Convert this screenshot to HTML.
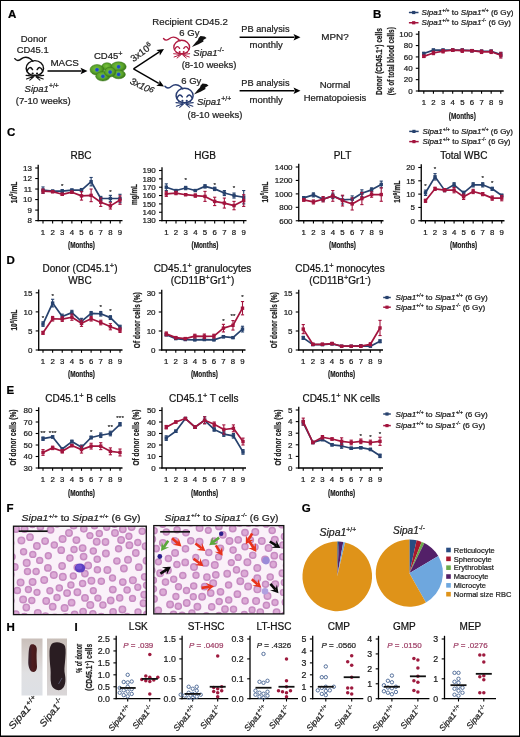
<!DOCTYPE html>
<html><head><meta charset="utf-8"><style>
html,body{margin:0;padding:0;background:#fff;}
svg{display:block;will-change:transform;}
text{font-family:"Liberation Sans",sans-serif;}
</style></head><body>
<svg width="520" height="737" viewBox="0 0 520 737">
<rect width="520" height="737" fill="#fff"/>
<rect x="0" y="0" width="520" height="1" fill="#000"/>
<rect x="0" y="0" width="1" height="737" fill="#000"/>
<rect x="519" y="0" width="1" height="737" fill="#000"/>
<rect x="0" y="735.5" width="520" height="1.5" fill="#000"/>
<text x="8.10" y="17.70" font-size="11.5" font-weight="bold" fill="#000"  stroke="#000" stroke-width="0.22">A</text>
<text x="373.00" y="17.60" font-size="11.5" font-weight="bold" fill="#000"  stroke="#000" stroke-width="0.22">B</text>
<text x="7.00" y="136.00" font-size="11.5" font-weight="bold" fill="#000"  stroke="#000" stroke-width="0.22">C</text>
<text x="6.60" y="263.80" font-size="11.5" font-weight="bold" fill="#000"  stroke="#000" stroke-width="0.22">D</text>
<text x="6.60" y="393.80" font-size="11.5" font-weight="bold" fill="#000"  stroke="#000" stroke-width="0.22">E</text>
<text x="6.60" y="511.60" font-size="11.5" font-weight="bold" fill="#000"  stroke="#000" stroke-width="0.22">F</text>
<text x="301.70" y="511.50" font-size="11.5" font-weight="bold" fill="#000"  stroke="#000" stroke-width="0.22">G</text>
<text x="6.60" y="630.60" font-size="11.5" font-weight="bold" fill="#000"  stroke="#000" stroke-width="0.22">H</text>
<text x="74.40" y="630.60" font-size="11.5" font-weight="bold" fill="#000"  stroke="#000" stroke-width="0.22">I</text>
<line x1="418.80" y1="31.00" x2="418.80" y2="91.60" stroke="#000" stroke-width="1.3" />
<line x1="418.20" y1="91.00" x2="503.70" y2="91.00" stroke="#000" stroke-width="1.3" />
<line x1="415.80" y1="91.00" x2="418.80" y2="91.00" stroke="#000" stroke-width="1.1" />
<text x="412.60" y="93.85" font-size="8" text-anchor="end" fill="#1a1a1a"  stroke="#1a1a1a" stroke-width="0.22">0</text>
<line x1="415.80" y1="79.64" x2="418.80" y2="79.64" stroke="#000" stroke-width="1.1" />
<text x="412.60" y="82.49" font-size="8" text-anchor="end" fill="#1a1a1a"  stroke="#1a1a1a" stroke-width="0.22">20</text>
<line x1="415.80" y1="68.28" x2="418.80" y2="68.28" stroke="#000" stroke-width="1.1" />
<text x="412.60" y="71.13" font-size="8" text-anchor="end" fill="#1a1a1a"  stroke="#1a1a1a" stroke-width="0.22">40</text>
<line x1="415.80" y1="56.92" x2="418.80" y2="56.92" stroke="#000" stroke-width="1.1" />
<text x="412.60" y="59.77" font-size="8" text-anchor="end" fill="#1a1a1a"  stroke="#1a1a1a" stroke-width="0.22">60</text>
<line x1="415.80" y1="45.56" x2="418.80" y2="45.56" stroke="#000" stroke-width="1.1" />
<text x="412.60" y="48.41" font-size="8" text-anchor="end" fill="#1a1a1a"  stroke="#1a1a1a" stroke-width="0.22">80</text>
<line x1="415.80" y1="34.20" x2="418.80" y2="34.20" stroke="#000" stroke-width="1.1" />
<text x="412.60" y="37.05" font-size="8" text-anchor="end" fill="#1a1a1a"  stroke="#1a1a1a" stroke-width="0.22">100</text>
<line x1="423.80" y1="91.00" x2="423.80" y2="93.80" stroke="#000" stroke-width="1.1" />
<text x="423.80" y="104.80" font-size="7.8" text-anchor="middle" fill="#1a1a1a"  stroke="#1a1a1a" stroke-width="0.22">1</text>
<line x1="433.43" y1="91.00" x2="433.43" y2="93.80" stroke="#000" stroke-width="1.1" />
<text x="433.43" y="104.80" font-size="7.8" text-anchor="middle" fill="#1a1a1a"  stroke="#1a1a1a" stroke-width="0.22">2</text>
<line x1="443.05" y1="91.00" x2="443.05" y2="93.80" stroke="#000" stroke-width="1.1" />
<text x="443.05" y="104.80" font-size="7.8" text-anchor="middle" fill="#1a1a1a"  stroke="#1a1a1a" stroke-width="0.22">3</text>
<line x1="452.68" y1="91.00" x2="452.68" y2="93.80" stroke="#000" stroke-width="1.1" />
<text x="452.68" y="104.80" font-size="7.8" text-anchor="middle" fill="#1a1a1a"  stroke="#1a1a1a" stroke-width="0.22">4</text>
<line x1="462.30" y1="91.00" x2="462.30" y2="93.80" stroke="#000" stroke-width="1.1" />
<text x="462.30" y="104.80" font-size="7.8" text-anchor="middle" fill="#1a1a1a"  stroke="#1a1a1a" stroke-width="0.22">5</text>
<line x1="471.93" y1="91.00" x2="471.93" y2="93.80" stroke="#000" stroke-width="1.1" />
<text x="471.93" y="104.80" font-size="7.8" text-anchor="middle" fill="#1a1a1a"  stroke="#1a1a1a" stroke-width="0.22">6</text>
<line x1="481.55" y1="91.00" x2="481.55" y2="93.80" stroke="#000" stroke-width="1.1" />
<text x="481.55" y="104.80" font-size="7.8" text-anchor="middle" fill="#1a1a1a"  stroke="#1a1a1a" stroke-width="0.22">7</text>
<line x1="491.18" y1="91.00" x2="491.18" y2="93.80" stroke="#000" stroke-width="1.1" />
<text x="491.18" y="104.80" font-size="7.8" text-anchor="middle" fill="#1a1a1a"  stroke="#1a1a1a" stroke-width="0.22">8</text>
<line x1="500.80" y1="91.00" x2="500.80" y2="93.80" stroke="#000" stroke-width="1.1" />
<text x="500.80" y="104.80" font-size="7.8" text-anchor="middle" fill="#1a1a1a"  stroke="#1a1a1a" stroke-width="0.22">9</text>
<text x="462.30" y="118.60" font-size="9" text-anchor="middle" font-weight="bold" fill="#1a1a1a" textLength="27" lengthAdjust="spacingAndGlyphs"  stroke="#1a1a1a" stroke-width="0.22">(Months)</text>
<polyline points="423.80,53.51 433.43,50.10 443.05,50.10 452.68,50.10 462.30,50.10 471.93,50.67 481.55,51.24 491.18,51.24 500.80,54.65" fill="none" stroke="#27426e" stroke-width="1.7" stroke-linejoin="round"/>
<line x1="423.80" y1="52.38" x2="423.80" y2="54.65" stroke="#27426e" stroke-width="1.1" />
<line x1="422.20" y1="52.38" x2="425.40" y2="52.38" stroke="#27426e" stroke-width="1.1" />
<line x1="422.20" y1="54.65" x2="425.40" y2="54.65" stroke="#27426e" stroke-width="1.1" />
<rect x="422.10" y="51.81" width="3.4" height="3.4" fill="#27426e"/>
<line x1="433.43" y1="48.97" x2="433.43" y2="51.24" stroke="#27426e" stroke-width="1.1" />
<line x1="431.82" y1="48.97" x2="435.03" y2="48.97" stroke="#27426e" stroke-width="1.1" />
<line x1="431.82" y1="51.24" x2="435.03" y2="51.24" stroke="#27426e" stroke-width="1.1" />
<rect x="431.73" y="48.40" width="3.4" height="3.4" fill="#27426e"/>
<line x1="443.05" y1="48.97" x2="443.05" y2="51.24" stroke="#27426e" stroke-width="1.1" />
<line x1="441.45" y1="48.97" x2="444.65" y2="48.97" stroke="#27426e" stroke-width="1.1" />
<line x1="441.45" y1="51.24" x2="444.65" y2="51.24" stroke="#27426e" stroke-width="1.1" />
<rect x="441.35" y="48.40" width="3.4" height="3.4" fill="#27426e"/>
<line x1="452.68" y1="48.97" x2="452.68" y2="51.24" stroke="#27426e" stroke-width="1.1" />
<line x1="451.07" y1="48.97" x2="454.28" y2="48.97" stroke="#27426e" stroke-width="1.1" />
<line x1="451.07" y1="51.24" x2="454.28" y2="51.24" stroke="#27426e" stroke-width="1.1" />
<rect x="450.98" y="48.40" width="3.4" height="3.4" fill="#27426e"/>
<line x1="462.30" y1="48.97" x2="462.30" y2="51.24" stroke="#27426e" stroke-width="1.1" />
<line x1="460.70" y1="48.97" x2="463.90" y2="48.97" stroke="#27426e" stroke-width="1.1" />
<line x1="460.70" y1="51.24" x2="463.90" y2="51.24" stroke="#27426e" stroke-width="1.1" />
<rect x="460.60" y="48.40" width="3.4" height="3.4" fill="#27426e"/>
<line x1="471.93" y1="49.54" x2="471.93" y2="51.81" stroke="#27426e" stroke-width="1.1" />
<line x1="470.32" y1="49.54" x2="473.53" y2="49.54" stroke="#27426e" stroke-width="1.1" />
<line x1="470.32" y1="51.81" x2="473.53" y2="51.81" stroke="#27426e" stroke-width="1.1" />
<rect x="470.23" y="48.97" width="3.4" height="3.4" fill="#27426e"/>
<line x1="481.55" y1="50.10" x2="481.55" y2="52.38" stroke="#27426e" stroke-width="1.1" />
<line x1="479.95" y1="50.10" x2="483.15" y2="50.10" stroke="#27426e" stroke-width="1.1" />
<line x1="479.95" y1="52.38" x2="483.15" y2="52.38" stroke="#27426e" stroke-width="1.1" />
<rect x="479.85" y="49.54" width="3.4" height="3.4" fill="#27426e"/>
<line x1="491.18" y1="50.10" x2="491.18" y2="52.38" stroke="#27426e" stroke-width="1.1" />
<line x1="489.57" y1="50.10" x2="492.78" y2="50.10" stroke="#27426e" stroke-width="1.1" />
<line x1="489.57" y1="52.38" x2="492.78" y2="52.38" stroke="#27426e" stroke-width="1.1" />
<rect x="489.48" y="49.54" width="3.4" height="3.4" fill="#27426e"/>
<line x1="500.80" y1="52.38" x2="500.80" y2="56.92" stroke="#27426e" stroke-width="1.1" />
<line x1="499.20" y1="52.38" x2="502.40" y2="52.38" stroke="#27426e" stroke-width="1.1" />
<line x1="499.20" y1="56.92" x2="502.40" y2="56.92" stroke="#27426e" stroke-width="1.1" />
<rect x="499.10" y="52.95" width="3.4" height="3.4" fill="#27426e"/>
<polyline points="423.80,56.35 433.43,52.94 443.05,51.24 452.68,50.10 462.30,50.67 471.93,50.67 481.55,51.81 491.18,51.81 500.80,55.22" fill="none" stroke="#a3143e" stroke-width="1.7" stroke-linejoin="round"/>
<line x1="423.80" y1="55.22" x2="423.80" y2="57.49" stroke="#a3143e" stroke-width="1.1" />
<line x1="422.20" y1="55.22" x2="425.40" y2="55.22" stroke="#a3143e" stroke-width="1.1" />
<line x1="422.20" y1="57.49" x2="425.40" y2="57.49" stroke="#a3143e" stroke-width="1.1" />
<rect x="422.10" y="54.65" width="3.4" height="3.4" fill="#a3143e"/>
<line x1="433.43" y1="51.24" x2="433.43" y2="54.65" stroke="#a3143e" stroke-width="1.1" />
<line x1="431.82" y1="51.24" x2="435.03" y2="51.24" stroke="#a3143e" stroke-width="1.1" />
<line x1="431.82" y1="54.65" x2="435.03" y2="54.65" stroke="#a3143e" stroke-width="1.1" />
<rect x="431.73" y="51.24" width="3.4" height="3.4" fill="#a3143e"/>
<line x1="443.05" y1="49.54" x2="443.05" y2="52.94" stroke="#a3143e" stroke-width="1.1" />
<line x1="441.45" y1="49.54" x2="444.65" y2="49.54" stroke="#a3143e" stroke-width="1.1" />
<line x1="441.45" y1="52.94" x2="444.65" y2="52.94" stroke="#a3143e" stroke-width="1.1" />
<rect x="441.35" y="49.54" width="3.4" height="3.4" fill="#a3143e"/>
<line x1="452.68" y1="48.97" x2="452.68" y2="51.24" stroke="#a3143e" stroke-width="1.1" />
<line x1="451.07" y1="48.97" x2="454.28" y2="48.97" stroke="#a3143e" stroke-width="1.1" />
<line x1="451.07" y1="51.24" x2="454.28" y2="51.24" stroke="#a3143e" stroke-width="1.1" />
<rect x="450.98" y="48.40" width="3.4" height="3.4" fill="#a3143e"/>
<line x1="462.30" y1="48.97" x2="462.30" y2="52.38" stroke="#a3143e" stroke-width="1.1" />
<line x1="460.70" y1="48.97" x2="463.90" y2="48.97" stroke="#a3143e" stroke-width="1.1" />
<line x1="460.70" y1="52.38" x2="463.90" y2="52.38" stroke="#a3143e" stroke-width="1.1" />
<rect x="460.60" y="48.97" width="3.4" height="3.4" fill="#a3143e"/>
<line x1="471.93" y1="49.54" x2="471.93" y2="51.81" stroke="#a3143e" stroke-width="1.1" />
<line x1="470.32" y1="49.54" x2="473.53" y2="49.54" stroke="#a3143e" stroke-width="1.1" />
<line x1="470.32" y1="51.81" x2="473.53" y2="51.81" stroke="#a3143e" stroke-width="1.1" />
<rect x="470.23" y="48.97" width="3.4" height="3.4" fill="#a3143e"/>
<line x1="481.55" y1="50.10" x2="481.55" y2="53.51" stroke="#a3143e" stroke-width="1.1" />
<line x1="479.95" y1="50.10" x2="483.15" y2="50.10" stroke="#a3143e" stroke-width="1.1" />
<line x1="479.95" y1="53.51" x2="483.15" y2="53.51" stroke="#a3143e" stroke-width="1.1" />
<rect x="479.85" y="50.11" width="3.4" height="3.4" fill="#a3143e"/>
<line x1="491.18" y1="50.10" x2="491.18" y2="53.51" stroke="#a3143e" stroke-width="1.1" />
<line x1="489.57" y1="50.10" x2="492.78" y2="50.10" stroke="#a3143e" stroke-width="1.1" />
<line x1="489.57" y1="53.51" x2="492.78" y2="53.51" stroke="#a3143e" stroke-width="1.1" />
<rect x="489.48" y="50.11" width="3.4" height="3.4" fill="#a3143e"/>
<line x1="500.80" y1="52.38" x2="500.80" y2="58.06" stroke="#a3143e" stroke-width="1.1" />
<line x1="499.20" y1="52.38" x2="502.40" y2="52.38" stroke="#a3143e" stroke-width="1.1" />
<line x1="499.20" y1="58.06" x2="502.40" y2="58.06" stroke="#a3143e" stroke-width="1.1" />
<rect x="499.10" y="53.52" width="3.4" height="3.4" fill="#a3143e"/>
<text font-size="8.8" font-weight="bold" fill="#222" text-anchor="middle" transform="translate(382,61.6) rotate(-90)" textLength="67" lengthAdjust="spacingAndGlyphs" stroke="#222" stroke-width="0.22">Donor (CD45.1<tspan font-size="5.5" dy="-3">+</tspan><tspan dy="3">) cells</tspan></text>
<text font-size="8.8" font-weight="bold" fill="#222" text-anchor="middle" transform="translate(393.6,61.2) rotate(-90)" textLength="68" lengthAdjust="spacingAndGlyphs" stroke="#222" stroke-width="0.22">(% of total blood cells)</text>
<line x1="408.90" y1="12.50" x2="418.50" y2="12.50" stroke="#27426e" stroke-width="1.5" />
<rect x="412.10" y="10.90" width="3.2" height="3.2" fill="#27426e"/>
<text x="421.60" y="15.20" font-size="7.6" fill="#1a1a1a" textLength="91.80" lengthAdjust="spacingAndGlyphs" stroke="#1a1a1a" stroke-width="0.22"><tspan font-style="italic">Sipa1</tspan><tspan font-size="4.71" dy="-3.19">+/+</tspan><tspan dy="3.19"> to </tspan><tspan font-style="italic">Sipa1</tspan><tspan font-size="4.71" dy="-3.19">+/+</tspan><tspan dy="3.19"> (6 Gy)</tspan></text>
<line x1="408.90" y1="22.75" x2="418.50" y2="22.75" stroke="#a3143e" stroke-width="1.5" />
<rect x="412.10" y="21.15" width="3.2" height="3.2" fill="#a3143e"/>
<text x="421.60" y="25.45" font-size="7.6" fill="#1a1a1a" textLength="89.32" lengthAdjust="spacingAndGlyphs" stroke="#1a1a1a" stroke-width="0.22"><tspan font-style="italic">Sipa1</tspan><tspan font-size="4.71" dy="-3.19">+/+</tspan><tspan dy="3.19"> to </tspan><tspan font-style="italic">Sipa1</tspan><tspan font-size="4.71" dy="-3.19">-/-</tspan><tspan dy="3.19"> (6 Gy)</tspan></text>
<line x1="38.20" y1="164.80" x2="38.20" y2="221.20" stroke="#000" stroke-width="1.3" />
<line x1="37.60" y1="220.60" x2="122.50" y2="220.60" stroke="#000" stroke-width="1.3" />
<line x1="35.20" y1="220.60" x2="38.20" y2="220.60" stroke="#000" stroke-width="1.1" />
<text x="32.00" y="223.45" font-size="8" text-anchor="end" fill="#1a1a1a"  stroke="#1a1a1a" stroke-width="0.22">8</text>
<line x1="35.20" y1="210.08" x2="38.20" y2="210.08" stroke="#000" stroke-width="1.1" />
<text x="32.00" y="212.93" font-size="8" text-anchor="end" fill="#1a1a1a"  stroke="#1a1a1a" stroke-width="0.22">9</text>
<line x1="35.20" y1="199.56" x2="38.20" y2="199.56" stroke="#000" stroke-width="1.1" />
<text x="32.00" y="202.41" font-size="8" text-anchor="end" fill="#1a1a1a"  stroke="#1a1a1a" stroke-width="0.22">10</text>
<line x1="35.20" y1="189.04" x2="38.20" y2="189.04" stroke="#000" stroke-width="1.1" />
<text x="32.00" y="191.89" font-size="8" text-anchor="end" fill="#1a1a1a"  stroke="#1a1a1a" stroke-width="0.22">11</text>
<line x1="35.20" y1="178.52" x2="38.20" y2="178.52" stroke="#000" stroke-width="1.1" />
<text x="32.00" y="181.37" font-size="8" text-anchor="end" fill="#1a1a1a"  stroke="#1a1a1a" stroke-width="0.22">12</text>
<line x1="35.20" y1="168.00" x2="38.20" y2="168.00" stroke="#000" stroke-width="1.1" />
<text x="32.00" y="170.85" font-size="8" text-anchor="end" fill="#1a1a1a"  stroke="#1a1a1a" stroke-width="0.22">13</text>
<line x1="43.00" y1="220.60" x2="43.00" y2="223.40" stroke="#000" stroke-width="1.1" />
<text x="43.00" y="234.50" font-size="7.8" text-anchor="middle" fill="#1a1a1a"  stroke="#1a1a1a" stroke-width="0.22">1</text>
<line x1="52.62" y1="220.60" x2="52.62" y2="223.40" stroke="#000" stroke-width="1.1" />
<text x="52.62" y="234.50" font-size="7.8" text-anchor="middle" fill="#1a1a1a"  stroke="#1a1a1a" stroke-width="0.22">2</text>
<line x1="62.25" y1="220.60" x2="62.25" y2="223.40" stroke="#000" stroke-width="1.1" />
<text x="62.25" y="234.50" font-size="7.8" text-anchor="middle" fill="#1a1a1a"  stroke="#1a1a1a" stroke-width="0.22">3</text>
<line x1="71.88" y1="220.60" x2="71.88" y2="223.40" stroke="#000" stroke-width="1.1" />
<text x="71.88" y="234.50" font-size="7.8" text-anchor="middle" fill="#1a1a1a"  stroke="#1a1a1a" stroke-width="0.22">4</text>
<line x1="81.50" y1="220.60" x2="81.50" y2="223.40" stroke="#000" stroke-width="1.1" />
<text x="81.50" y="234.50" font-size="7.8" text-anchor="middle" fill="#1a1a1a"  stroke="#1a1a1a" stroke-width="0.22">5</text>
<line x1="91.12" y1="220.60" x2="91.12" y2="223.40" stroke="#000" stroke-width="1.1" />
<text x="91.12" y="234.50" font-size="7.8" text-anchor="middle" fill="#1a1a1a"  stroke="#1a1a1a" stroke-width="0.22">6</text>
<line x1="100.75" y1="220.60" x2="100.75" y2="223.40" stroke="#000" stroke-width="1.1" />
<text x="100.75" y="234.50" font-size="7.8" text-anchor="middle" fill="#1a1a1a"  stroke="#1a1a1a" stroke-width="0.22">7</text>
<line x1="110.38" y1="220.60" x2="110.38" y2="223.40" stroke="#000" stroke-width="1.1" />
<text x="110.38" y="234.50" font-size="7.8" text-anchor="middle" fill="#1a1a1a"  stroke="#1a1a1a" stroke-width="0.22">8</text>
<line x1="120.00" y1="220.60" x2="120.00" y2="223.40" stroke="#000" stroke-width="1.1" />
<text x="120.00" y="234.50" font-size="7.8" text-anchor="middle" fill="#1a1a1a"  stroke="#1a1a1a" stroke-width="0.22">9</text>
<text x="81.50" y="248.20" font-size="9" text-anchor="middle" font-weight="bold" fill="#1a1a1a" textLength="27" lengthAdjust="spacingAndGlyphs"  stroke="#1a1a1a" stroke-width="0.22">(Months)</text>
<polyline points="43.00,190.09 52.62,191.14 62.25,191.14 71.88,190.09 81.50,190.09 91.12,181.68 100.75,198.51 110.38,198.51 120.00,198.51" fill="none" stroke="#27426e" stroke-width="1.7" stroke-linejoin="round"/>
<line x1="43.00" y1="186.94" x2="43.00" y2="193.25" stroke="#27426e" stroke-width="1.1" />
<line x1="41.40" y1="186.94" x2="44.60" y2="186.94" stroke="#27426e" stroke-width="1.1" />
<line x1="41.40" y1="193.25" x2="44.60" y2="193.25" stroke="#27426e" stroke-width="1.1" />
<rect x="41.30" y="188.39" width="3.4" height="3.4" fill="#27426e"/>
<line x1="52.62" y1="190.09" x2="52.62" y2="192.20" stroke="#27426e" stroke-width="1.1" />
<line x1="51.02" y1="190.09" x2="54.23" y2="190.09" stroke="#27426e" stroke-width="1.1" />
<line x1="51.02" y1="192.20" x2="54.23" y2="192.20" stroke="#27426e" stroke-width="1.1" />
<rect x="50.92" y="189.44" width="3.4" height="3.4" fill="#27426e"/>
<line x1="62.25" y1="189.57" x2="62.25" y2="192.72" stroke="#27426e" stroke-width="1.1" />
<line x1="60.65" y1="189.57" x2="63.85" y2="189.57" stroke="#27426e" stroke-width="1.1" />
<line x1="60.65" y1="192.72" x2="63.85" y2="192.72" stroke="#27426e" stroke-width="1.1" />
<rect x="60.55" y="189.44" width="3.4" height="3.4" fill="#27426e"/>
<line x1="71.88" y1="189.04" x2="71.88" y2="191.14" stroke="#27426e" stroke-width="1.1" />
<line x1="70.28" y1="189.04" x2="73.47" y2="189.04" stroke="#27426e" stroke-width="1.1" />
<line x1="70.28" y1="191.14" x2="73.47" y2="191.14" stroke="#27426e" stroke-width="1.1" />
<rect x="70.17" y="188.39" width="3.4" height="3.4" fill="#27426e"/>
<line x1="81.50" y1="188.51" x2="81.50" y2="191.67" stroke="#27426e" stroke-width="1.1" />
<line x1="79.90" y1="188.51" x2="83.10" y2="188.51" stroke="#27426e" stroke-width="1.1" />
<line x1="79.90" y1="191.67" x2="83.10" y2="191.67" stroke="#27426e" stroke-width="1.1" />
<rect x="79.80" y="188.39" width="3.4" height="3.4" fill="#27426e"/>
<line x1="91.12" y1="177.47" x2="91.12" y2="185.88" stroke="#27426e" stroke-width="1.1" />
<line x1="89.53" y1="177.47" x2="92.72" y2="177.47" stroke="#27426e" stroke-width="1.1" />
<line x1="89.53" y1="185.88" x2="92.72" y2="185.88" stroke="#27426e" stroke-width="1.1" />
<rect x="89.42" y="179.98" width="3.4" height="3.4" fill="#27426e"/>
<line x1="100.75" y1="196.40" x2="100.75" y2="200.61" stroke="#27426e" stroke-width="1.1" />
<line x1="99.15" y1="196.40" x2="102.35" y2="196.40" stroke="#27426e" stroke-width="1.1" />
<line x1="99.15" y1="200.61" x2="102.35" y2="200.61" stroke="#27426e" stroke-width="1.1" />
<rect x="99.05" y="196.81" width="3.4" height="3.4" fill="#27426e"/>
<line x1="110.38" y1="195.35" x2="110.38" y2="201.66" stroke="#27426e" stroke-width="1.1" />
<line x1="108.78" y1="195.35" x2="111.97" y2="195.35" stroke="#27426e" stroke-width="1.1" />
<line x1="108.78" y1="201.66" x2="111.97" y2="201.66" stroke="#27426e" stroke-width="1.1" />
<rect x="108.67" y="196.81" width="3.4" height="3.4" fill="#27426e"/>
<line x1="120.00" y1="194.30" x2="120.00" y2="202.72" stroke="#27426e" stroke-width="1.1" />
<line x1="118.40" y1="194.30" x2="121.60" y2="194.30" stroke="#27426e" stroke-width="1.1" />
<line x1="118.40" y1="202.72" x2="121.60" y2="202.72" stroke="#27426e" stroke-width="1.1" />
<rect x="118.30" y="196.81" width="3.4" height="3.4" fill="#27426e"/>
<polyline points="43.00,191.14 52.62,191.67 62.25,194.30 71.88,192.20 81.50,195.88 91.12,195.35 100.75,202.19 110.38,205.87 120.00,200.09" fill="none" stroke="#a3143e" stroke-width="1.7" stroke-linejoin="round"/>
<line x1="43.00" y1="189.04" x2="43.00" y2="193.25" stroke="#a3143e" stroke-width="1.1" />
<line x1="41.40" y1="189.04" x2="44.60" y2="189.04" stroke="#a3143e" stroke-width="1.1" />
<line x1="41.40" y1="193.25" x2="44.60" y2="193.25" stroke="#a3143e" stroke-width="1.1" />
<rect x="41.30" y="189.44" width="3.4" height="3.4" fill="#a3143e"/>
<line x1="52.62" y1="190.62" x2="52.62" y2="192.72" stroke="#a3143e" stroke-width="1.1" />
<line x1="51.02" y1="190.62" x2="54.23" y2="190.62" stroke="#a3143e" stroke-width="1.1" />
<line x1="51.02" y1="192.72" x2="54.23" y2="192.72" stroke="#a3143e" stroke-width="1.1" />
<rect x="50.92" y="189.97" width="3.4" height="3.4" fill="#a3143e"/>
<line x1="62.25" y1="193.25" x2="62.25" y2="195.35" stroke="#a3143e" stroke-width="1.1" />
<line x1="60.65" y1="193.25" x2="63.85" y2="193.25" stroke="#a3143e" stroke-width="1.1" />
<line x1="60.65" y1="195.35" x2="63.85" y2="195.35" stroke="#a3143e" stroke-width="1.1" />
<rect x="60.55" y="192.60" width="3.4" height="3.4" fill="#a3143e"/>
<line x1="71.88" y1="191.14" x2="71.88" y2="193.25" stroke="#a3143e" stroke-width="1.1" />
<line x1="70.28" y1="191.14" x2="73.47" y2="191.14" stroke="#a3143e" stroke-width="1.1" />
<line x1="70.28" y1="193.25" x2="73.47" y2="193.25" stroke="#a3143e" stroke-width="1.1" />
<rect x="70.17" y="190.50" width="3.4" height="3.4" fill="#a3143e"/>
<line x1="81.50" y1="191.67" x2="81.50" y2="200.09" stroke="#a3143e" stroke-width="1.1" />
<line x1="79.90" y1="191.67" x2="83.10" y2="191.67" stroke="#a3143e" stroke-width="1.1" />
<line x1="79.90" y1="200.09" x2="83.10" y2="200.09" stroke="#a3143e" stroke-width="1.1" />
<rect x="79.80" y="194.18" width="3.4" height="3.4" fill="#a3143e"/>
<line x1="91.12" y1="189.04" x2="91.12" y2="201.66" stroke="#a3143e" stroke-width="1.1" />
<line x1="89.53" y1="189.04" x2="92.72" y2="189.04" stroke="#a3143e" stroke-width="1.1" />
<line x1="89.53" y1="201.66" x2="92.72" y2="201.66" stroke="#a3143e" stroke-width="1.1" />
<rect x="89.42" y="193.65" width="3.4" height="3.4" fill="#a3143e"/>
<line x1="100.75" y1="197.98" x2="100.75" y2="206.40" stroke="#a3143e" stroke-width="1.1" />
<line x1="99.15" y1="197.98" x2="102.35" y2="197.98" stroke="#a3143e" stroke-width="1.1" />
<line x1="99.15" y1="206.40" x2="102.35" y2="206.40" stroke="#a3143e" stroke-width="1.1" />
<rect x="99.05" y="200.49" width="3.4" height="3.4" fill="#a3143e"/>
<line x1="110.38" y1="202.72" x2="110.38" y2="209.03" stroke="#a3143e" stroke-width="1.1" />
<line x1="108.78" y1="202.72" x2="111.97" y2="202.72" stroke="#a3143e" stroke-width="1.1" />
<line x1="108.78" y1="209.03" x2="111.97" y2="209.03" stroke="#a3143e" stroke-width="1.1" />
<rect x="108.67" y="204.17" width="3.4" height="3.4" fill="#a3143e"/>
<line x1="120.00" y1="195.88" x2="120.00" y2="204.29" stroke="#a3143e" stroke-width="1.1" />
<line x1="118.40" y1="195.88" x2="121.60" y2="195.88" stroke="#a3143e" stroke-width="1.1" />
<line x1="118.40" y1="204.29" x2="121.60" y2="204.29" stroke="#a3143e" stroke-width="1.1" />
<rect x="118.30" y="198.39" width="3.4" height="3.4" fill="#a3143e"/>
<text x="62.25" y="187.90" font-size="6.2" text-anchor="middle" fill="#333" stroke="#333" stroke-width="0.22">*</text>
<text x="110.38" y="193.90" font-size="6.2" text-anchor="middle" fill="#333" stroke="#333" stroke-width="0.22">*</text>
<text x="81.00" y="158.50" font-size="10" text-anchor="middle" fill="#111"  stroke="#111" stroke-width="0.22">RBC</text>
<text x="0" y="0" font-size="8.8" font-weight="bold" fill="#222" text-anchor="middle" transform="translate(16.50,192.50) rotate(-90) scale(0.747,1)" stroke="#222" stroke-width="0.22">10<tspan font-size="6" dy="-3.2">9</tspan><tspan dy="3.2">/mL</tspan></text>
<line x1="162.00" y1="167.30" x2="162.00" y2="221.20" stroke="#000" stroke-width="1.3" />
<line x1="161.40" y1="220.60" x2="246.50" y2="220.60" stroke="#000" stroke-width="1.3" />
<line x1="159.00" y1="220.60" x2="162.00" y2="220.60" stroke="#000" stroke-width="1.1" />
<text x="155.80" y="223.45" font-size="8" text-anchor="end" fill="#1a1a1a"  stroke="#1a1a1a" stroke-width="0.22">130</text>
<line x1="159.00" y1="212.25" x2="162.00" y2="212.25" stroke="#000" stroke-width="1.1" />
<text x="155.80" y="215.10" font-size="8" text-anchor="end" fill="#1a1a1a"  stroke="#1a1a1a" stroke-width="0.22">140</text>
<line x1="159.00" y1="203.90" x2="162.00" y2="203.90" stroke="#000" stroke-width="1.1" />
<text x="155.80" y="206.75" font-size="8" text-anchor="end" fill="#1a1a1a"  stroke="#1a1a1a" stroke-width="0.22">150</text>
<line x1="159.00" y1="195.55" x2="162.00" y2="195.55" stroke="#000" stroke-width="1.1" />
<text x="155.80" y="198.40" font-size="8" text-anchor="end" fill="#1a1a1a"  stroke="#1a1a1a" stroke-width="0.22">160</text>
<line x1="159.00" y1="187.20" x2="162.00" y2="187.20" stroke="#000" stroke-width="1.1" />
<text x="155.80" y="190.05" font-size="8" text-anchor="end" fill="#1a1a1a"  stroke="#1a1a1a" stroke-width="0.22">170</text>
<line x1="159.00" y1="178.85" x2="162.00" y2="178.85" stroke="#000" stroke-width="1.1" />
<text x="155.80" y="181.70" font-size="8" text-anchor="end" fill="#1a1a1a"  stroke="#1a1a1a" stroke-width="0.22">180</text>
<line x1="159.00" y1="170.50" x2="162.00" y2="170.50" stroke="#000" stroke-width="1.1" />
<text x="155.80" y="173.35" font-size="8" text-anchor="end" fill="#1a1a1a"  stroke="#1a1a1a" stroke-width="0.22">190</text>
<line x1="166.30" y1="220.60" x2="166.30" y2="223.40" stroke="#000" stroke-width="1.1" />
<text x="166.30" y="234.50" font-size="7.8" text-anchor="middle" fill="#1a1a1a"  stroke="#1a1a1a" stroke-width="0.22">1</text>
<line x1="175.98" y1="220.60" x2="175.98" y2="223.40" stroke="#000" stroke-width="1.1" />
<text x="175.98" y="234.50" font-size="7.8" text-anchor="middle" fill="#1a1a1a"  stroke="#1a1a1a" stroke-width="0.22">2</text>
<line x1="185.65" y1="220.60" x2="185.65" y2="223.40" stroke="#000" stroke-width="1.1" />
<text x="185.65" y="234.50" font-size="7.8" text-anchor="middle" fill="#1a1a1a"  stroke="#1a1a1a" stroke-width="0.22">3</text>
<line x1="195.32" y1="220.60" x2="195.32" y2="223.40" stroke="#000" stroke-width="1.1" />
<text x="195.32" y="234.50" font-size="7.8" text-anchor="middle" fill="#1a1a1a"  stroke="#1a1a1a" stroke-width="0.22">4</text>
<line x1="205.00" y1="220.60" x2="205.00" y2="223.40" stroke="#000" stroke-width="1.1" />
<text x="205.00" y="234.50" font-size="7.8" text-anchor="middle" fill="#1a1a1a"  stroke="#1a1a1a" stroke-width="0.22">5</text>
<line x1="214.68" y1="220.60" x2="214.68" y2="223.40" stroke="#000" stroke-width="1.1" />
<text x="214.68" y="234.50" font-size="7.8" text-anchor="middle" fill="#1a1a1a"  stroke="#1a1a1a" stroke-width="0.22">6</text>
<line x1="224.35" y1="220.60" x2="224.35" y2="223.40" stroke="#000" stroke-width="1.1" />
<text x="224.35" y="234.50" font-size="7.8" text-anchor="middle" fill="#1a1a1a"  stroke="#1a1a1a" stroke-width="0.22">7</text>
<line x1="234.02" y1="220.60" x2="234.02" y2="223.40" stroke="#000" stroke-width="1.1" />
<text x="234.02" y="234.50" font-size="7.8" text-anchor="middle" fill="#1a1a1a"  stroke="#1a1a1a" stroke-width="0.22">8</text>
<line x1="243.70" y1="220.60" x2="243.70" y2="223.40" stroke="#000" stroke-width="1.1" />
<text x="243.70" y="234.50" font-size="7.8" text-anchor="middle" fill="#1a1a1a"  stroke="#1a1a1a" stroke-width="0.22">9</text>
<text x="205.00" y="248.20" font-size="9" text-anchor="middle" font-weight="bold" fill="#1a1a1a" textLength="27" lengthAdjust="spacingAndGlyphs"  stroke="#1a1a1a" stroke-width="0.22">(Months)</text>
<polyline points="166.30,187.20 175.98,190.54 185.65,188.03 195.32,190.54 205.00,186.37 214.68,188.87 224.35,193.04 234.02,195.55 243.70,197.22" fill="none" stroke="#27426e" stroke-width="1.7" stroke-linejoin="round"/>
<line x1="166.30" y1="183.86" x2="166.30" y2="190.54" stroke="#27426e" stroke-width="1.1" />
<line x1="164.70" y1="183.86" x2="167.90" y2="183.86" stroke="#27426e" stroke-width="1.1" />
<line x1="164.70" y1="190.54" x2="167.90" y2="190.54" stroke="#27426e" stroke-width="1.1" />
<rect x="164.60" y="185.50" width="3.4" height="3.4" fill="#27426e"/>
<line x1="175.98" y1="189.70" x2="175.98" y2="191.38" stroke="#27426e" stroke-width="1.1" />
<line x1="174.38" y1="189.70" x2="177.58" y2="189.70" stroke="#27426e" stroke-width="1.1" />
<line x1="174.38" y1="191.38" x2="177.58" y2="191.38" stroke="#27426e" stroke-width="1.1" />
<rect x="174.28" y="188.84" width="3.4" height="3.4" fill="#27426e"/>
<line x1="185.65" y1="186.37" x2="185.65" y2="189.70" stroke="#27426e" stroke-width="1.1" />
<line x1="184.05" y1="186.37" x2="187.25" y2="186.37" stroke="#27426e" stroke-width="1.1" />
<line x1="184.05" y1="189.70" x2="187.25" y2="189.70" stroke="#27426e" stroke-width="1.1" />
<rect x="183.95" y="186.34" width="3.4" height="3.4" fill="#27426e"/>
<line x1="195.32" y1="189.70" x2="195.32" y2="191.38" stroke="#27426e" stroke-width="1.1" />
<line x1="193.72" y1="189.70" x2="196.92" y2="189.70" stroke="#27426e" stroke-width="1.1" />
<line x1="193.72" y1="191.38" x2="196.92" y2="191.38" stroke="#27426e" stroke-width="1.1" />
<rect x="193.62" y="188.84" width="3.4" height="3.4" fill="#27426e"/>
<line x1="205.00" y1="184.69" x2="205.00" y2="188.03" stroke="#27426e" stroke-width="1.1" />
<line x1="203.40" y1="184.69" x2="206.60" y2="184.69" stroke="#27426e" stroke-width="1.1" />
<line x1="203.40" y1="188.03" x2="206.60" y2="188.03" stroke="#27426e" stroke-width="1.1" />
<rect x="203.30" y="184.67" width="3.4" height="3.4" fill="#27426e"/>
<line x1="214.68" y1="187.20" x2="214.68" y2="190.54" stroke="#27426e" stroke-width="1.1" />
<line x1="213.08" y1="187.20" x2="216.28" y2="187.20" stroke="#27426e" stroke-width="1.1" />
<line x1="213.08" y1="190.54" x2="216.28" y2="190.54" stroke="#27426e" stroke-width="1.1" />
<rect x="212.98" y="187.17" width="3.4" height="3.4" fill="#27426e"/>
<line x1="224.35" y1="190.54" x2="224.35" y2="195.55" stroke="#27426e" stroke-width="1.1" />
<line x1="222.75" y1="190.54" x2="225.95" y2="190.54" stroke="#27426e" stroke-width="1.1" />
<line x1="222.75" y1="195.55" x2="225.95" y2="195.55" stroke="#27426e" stroke-width="1.1" />
<rect x="222.65" y="191.34" width="3.4" height="3.4" fill="#27426e"/>
<line x1="234.02" y1="193.04" x2="234.02" y2="198.06" stroke="#27426e" stroke-width="1.1" />
<line x1="232.42" y1="193.04" x2="235.62" y2="193.04" stroke="#27426e" stroke-width="1.1" />
<line x1="232.42" y1="198.06" x2="235.62" y2="198.06" stroke="#27426e" stroke-width="1.1" />
<rect x="232.32" y="193.85" width="3.4" height="3.4" fill="#27426e"/>
<line x1="243.70" y1="190.54" x2="243.70" y2="203.90" stroke="#27426e" stroke-width="1.1" />
<line x1="242.10" y1="190.54" x2="245.30" y2="190.54" stroke="#27426e" stroke-width="1.1" />
<line x1="242.10" y1="203.90" x2="245.30" y2="203.90" stroke="#27426e" stroke-width="1.1" />
<rect x="242.00" y="195.52" width="3.4" height="3.4" fill="#27426e"/>
<polyline points="166.30,193.88 175.98,193.04 185.65,194.72 195.32,195.55 205.00,196.38 214.68,201.39 224.35,203.06 234.02,205.57 243.70,200.56" fill="none" stroke="#a3143e" stroke-width="1.7" stroke-linejoin="round"/>
<line x1="166.30" y1="191.38" x2="166.30" y2="196.38" stroke="#a3143e" stroke-width="1.1" />
<line x1="164.70" y1="191.38" x2="167.90" y2="191.38" stroke="#a3143e" stroke-width="1.1" />
<line x1="164.70" y1="196.38" x2="167.90" y2="196.38" stroke="#a3143e" stroke-width="1.1" />
<rect x="164.60" y="192.18" width="3.4" height="3.4" fill="#a3143e"/>
<line x1="175.98" y1="191.38" x2="175.98" y2="194.72" stroke="#a3143e" stroke-width="1.1" />
<line x1="174.38" y1="191.38" x2="177.58" y2="191.38" stroke="#a3143e" stroke-width="1.1" />
<line x1="174.38" y1="194.72" x2="177.58" y2="194.72" stroke="#a3143e" stroke-width="1.1" />
<rect x="174.28" y="191.34" width="3.4" height="3.4" fill="#a3143e"/>
<line x1="185.65" y1="193.88" x2="185.65" y2="195.55" stroke="#a3143e" stroke-width="1.1" />
<line x1="184.05" y1="193.88" x2="187.25" y2="193.88" stroke="#a3143e" stroke-width="1.1" />
<line x1="184.05" y1="195.55" x2="187.25" y2="195.55" stroke="#a3143e" stroke-width="1.1" />
<rect x="183.95" y="193.02" width="3.4" height="3.4" fill="#a3143e"/>
<line x1="195.32" y1="193.88" x2="195.32" y2="197.22" stroke="#a3143e" stroke-width="1.1" />
<line x1="193.72" y1="193.88" x2="196.92" y2="193.88" stroke="#a3143e" stroke-width="1.1" />
<line x1="193.72" y1="197.22" x2="196.92" y2="197.22" stroke="#a3143e" stroke-width="1.1" />
<rect x="193.62" y="193.85" width="3.4" height="3.4" fill="#a3143e"/>
<line x1="205.00" y1="191.38" x2="205.00" y2="201.39" stroke="#a3143e" stroke-width="1.1" />
<line x1="203.40" y1="191.38" x2="206.60" y2="191.38" stroke="#a3143e" stroke-width="1.1" />
<line x1="203.40" y1="201.39" x2="206.60" y2="201.39" stroke="#a3143e" stroke-width="1.1" />
<rect x="203.30" y="194.69" width="3.4" height="3.4" fill="#a3143e"/>
<line x1="214.68" y1="197.22" x2="214.68" y2="205.57" stroke="#a3143e" stroke-width="1.1" />
<line x1="213.08" y1="197.22" x2="216.28" y2="197.22" stroke="#a3143e" stroke-width="1.1" />
<line x1="213.08" y1="205.57" x2="216.28" y2="205.57" stroke="#a3143e" stroke-width="1.1" />
<rect x="212.98" y="199.69" width="3.4" height="3.4" fill="#a3143e"/>
<line x1="224.35" y1="198.06" x2="224.35" y2="208.07" stroke="#a3143e" stroke-width="1.1" />
<line x1="222.75" y1="198.06" x2="225.95" y2="198.06" stroke="#a3143e" stroke-width="1.1" />
<line x1="222.75" y1="208.07" x2="225.95" y2="208.07" stroke="#a3143e" stroke-width="1.1" />
<rect x="222.65" y="201.37" width="3.4" height="3.4" fill="#a3143e"/>
<line x1="234.02" y1="201.39" x2="234.02" y2="209.75" stroke="#a3143e" stroke-width="1.1" />
<line x1="232.42" y1="201.39" x2="235.62" y2="201.39" stroke="#a3143e" stroke-width="1.1" />
<line x1="232.42" y1="209.75" x2="235.62" y2="209.75" stroke="#a3143e" stroke-width="1.1" />
<rect x="232.32" y="203.87" width="3.4" height="3.4" fill="#a3143e"/>
<line x1="243.70" y1="194.72" x2="243.70" y2="206.41" stroke="#a3143e" stroke-width="1.1" />
<line x1="242.10" y1="194.72" x2="245.30" y2="194.72" stroke="#a3143e" stroke-width="1.1" />
<line x1="242.10" y1="206.41" x2="245.30" y2="206.41" stroke="#a3143e" stroke-width="1.1" />
<rect x="242.00" y="198.86" width="3.4" height="3.4" fill="#a3143e"/>
<text x="185.65" y="181.65" font-size="6.2" text-anchor="middle" fill="#333" stroke="#333" stroke-width="0.22">*</text>
<text x="214.68" y="186.65" font-size="6.2" text-anchor="middle" fill="#333" stroke="#333" stroke-width="0.22">*</text>
<text x="234.02" y="190.40" font-size="6.2" text-anchor="middle" fill="#333" stroke="#333" stroke-width="0.22">*</text>
<text x="205.00" y="158.50" font-size="10" text-anchor="middle" fill="#111"  stroke="#111" stroke-width="0.22">HGB</text>
<text x="0" y="0" font-size="8.8" font-weight="bold" fill="#222" text-anchor="middle" transform="translate(136.60,194.50) rotate(-90)" textLength="21" lengthAdjust="spacingAndGlyphs" stroke="#222" stroke-width="0.22">mg/mL</text>
<line x1="298.75" y1="163.80" x2="298.75" y2="221.35" stroke="#000" stroke-width="1.3" />
<line x1="298.15" y1="220.75" x2="383.50" y2="220.75" stroke="#000" stroke-width="1.3" />
<line x1="295.75" y1="220.75" x2="298.75" y2="220.75" stroke="#000" stroke-width="1.1" />
<text x="292.55" y="223.60" font-size="8" text-anchor="end" fill="#1a1a1a"  stroke="#1a1a1a" stroke-width="0.22">600</text>
<line x1="295.75" y1="207.31" x2="298.75" y2="207.31" stroke="#000" stroke-width="1.1" />
<text x="292.55" y="210.16" font-size="8" text-anchor="end" fill="#1a1a1a"  stroke="#1a1a1a" stroke-width="0.22">800</text>
<line x1="295.75" y1="193.88" x2="298.75" y2="193.88" stroke="#000" stroke-width="1.1" />
<text x="292.55" y="196.72" font-size="8" text-anchor="end" fill="#1a1a1a"  stroke="#1a1a1a" stroke-width="0.22">1000</text>
<line x1="295.75" y1="180.44" x2="298.75" y2="180.44" stroke="#000" stroke-width="1.1" />
<text x="292.55" y="183.29" font-size="8" text-anchor="end" fill="#1a1a1a"  stroke="#1a1a1a" stroke-width="0.22">1200</text>
<line x1="295.75" y1="167.00" x2="298.75" y2="167.00" stroke="#000" stroke-width="1.1" />
<text x="292.55" y="169.85" font-size="8" text-anchor="end" fill="#1a1a1a"  stroke="#1a1a1a" stroke-width="0.22">1400</text>
<line x1="303.75" y1="220.75" x2="303.75" y2="223.55" stroke="#000" stroke-width="1.1" />
<text x="303.75" y="234.50" font-size="7.8" text-anchor="middle" fill="#1a1a1a"  stroke="#1a1a1a" stroke-width="0.22">1</text>
<line x1="313.44" y1="220.75" x2="313.44" y2="223.55" stroke="#000" stroke-width="1.1" />
<text x="313.44" y="234.50" font-size="7.8" text-anchor="middle" fill="#1a1a1a"  stroke="#1a1a1a" stroke-width="0.22">2</text>
<line x1="323.12" y1="220.75" x2="323.12" y2="223.55" stroke="#000" stroke-width="1.1" />
<text x="323.12" y="234.50" font-size="7.8" text-anchor="middle" fill="#1a1a1a"  stroke="#1a1a1a" stroke-width="0.22">3</text>
<line x1="332.81" y1="220.75" x2="332.81" y2="223.55" stroke="#000" stroke-width="1.1" />
<text x="332.81" y="234.50" font-size="7.8" text-anchor="middle" fill="#1a1a1a"  stroke="#1a1a1a" stroke-width="0.22">4</text>
<line x1="342.50" y1="220.75" x2="342.50" y2="223.55" stroke="#000" stroke-width="1.1" />
<text x="342.50" y="234.50" font-size="7.8" text-anchor="middle" fill="#1a1a1a"  stroke="#1a1a1a" stroke-width="0.22">5</text>
<line x1="352.19" y1="220.75" x2="352.19" y2="223.55" stroke="#000" stroke-width="1.1" />
<text x="352.19" y="234.50" font-size="7.8" text-anchor="middle" fill="#1a1a1a"  stroke="#1a1a1a" stroke-width="0.22">6</text>
<line x1="361.88" y1="220.75" x2="361.88" y2="223.55" stroke="#000" stroke-width="1.1" />
<text x="361.88" y="234.50" font-size="7.8" text-anchor="middle" fill="#1a1a1a"  stroke="#1a1a1a" stroke-width="0.22">7</text>
<line x1="371.56" y1="220.75" x2="371.56" y2="223.55" stroke="#000" stroke-width="1.1" />
<text x="371.56" y="234.50" font-size="7.8" text-anchor="middle" fill="#1a1a1a"  stroke="#1a1a1a" stroke-width="0.22">8</text>
<line x1="381.25" y1="220.75" x2="381.25" y2="223.55" stroke="#000" stroke-width="1.1" />
<text x="381.25" y="234.50" font-size="7.8" text-anchor="middle" fill="#1a1a1a"  stroke="#1a1a1a" stroke-width="0.22">9</text>
<text x="342.50" y="248.20" font-size="9" text-anchor="middle" font-weight="bold" fill="#1a1a1a" textLength="27" lengthAdjust="spacingAndGlyphs"  stroke="#1a1a1a" stroke-width="0.22">(Months)</text>
<polyline points="303.75,197.91 313.44,194.88 323.12,199.25 332.81,195.89 342.50,199.92 352.19,199.25 361.88,193.20 371.56,189.84 381.25,184.47" fill="none" stroke="#27426e" stroke-width="1.7" stroke-linejoin="round"/>
<line x1="303.75" y1="196.56" x2="303.75" y2="199.25" stroke="#27426e" stroke-width="1.1" />
<line x1="302.15" y1="196.56" x2="305.35" y2="196.56" stroke="#27426e" stroke-width="1.1" />
<line x1="302.15" y1="199.25" x2="305.35" y2="199.25" stroke="#27426e" stroke-width="1.1" />
<rect x="302.05" y="196.21" width="3.4" height="3.4" fill="#27426e"/>
<line x1="313.44" y1="192.87" x2="313.44" y2="196.90" stroke="#27426e" stroke-width="1.1" />
<line x1="311.84" y1="192.87" x2="315.04" y2="192.87" stroke="#27426e" stroke-width="1.1" />
<line x1="311.84" y1="196.90" x2="315.04" y2="196.90" stroke="#27426e" stroke-width="1.1" />
<rect x="311.74" y="193.18" width="3.4" height="3.4" fill="#27426e"/>
<line x1="323.12" y1="197.23" x2="323.12" y2="201.27" stroke="#27426e" stroke-width="1.1" />
<line x1="321.52" y1="197.23" x2="324.73" y2="197.23" stroke="#27426e" stroke-width="1.1" />
<line x1="321.52" y1="201.27" x2="324.73" y2="201.27" stroke="#27426e" stroke-width="1.1" />
<rect x="321.43" y="197.55" width="3.4" height="3.4" fill="#27426e"/>
<line x1="332.81" y1="193.20" x2="332.81" y2="198.58" stroke="#27426e" stroke-width="1.1" />
<line x1="331.21" y1="193.20" x2="334.41" y2="193.20" stroke="#27426e" stroke-width="1.1" />
<line x1="331.21" y1="198.58" x2="334.41" y2="198.58" stroke="#27426e" stroke-width="1.1" />
<rect x="331.11" y="194.19" width="3.4" height="3.4" fill="#27426e"/>
<line x1="342.50" y1="195.89" x2="342.50" y2="203.95" stroke="#27426e" stroke-width="1.1" />
<line x1="340.90" y1="195.89" x2="344.10" y2="195.89" stroke="#27426e" stroke-width="1.1" />
<line x1="340.90" y1="203.95" x2="344.10" y2="203.95" stroke="#27426e" stroke-width="1.1" />
<rect x="340.80" y="198.22" width="3.4" height="3.4" fill="#27426e"/>
<line x1="352.19" y1="195.89" x2="352.19" y2="202.61" stroke="#27426e" stroke-width="1.1" />
<line x1="350.59" y1="195.89" x2="353.79" y2="195.89" stroke="#27426e" stroke-width="1.1" />
<line x1="350.59" y1="202.61" x2="353.79" y2="202.61" stroke="#27426e" stroke-width="1.1" />
<rect x="350.49" y="197.55" width="3.4" height="3.4" fill="#27426e"/>
<line x1="361.88" y1="189.84" x2="361.88" y2="196.56" stroke="#27426e" stroke-width="1.1" />
<line x1="360.27" y1="189.84" x2="363.48" y2="189.84" stroke="#27426e" stroke-width="1.1" />
<line x1="360.27" y1="196.56" x2="363.48" y2="196.56" stroke="#27426e" stroke-width="1.1" />
<rect x="360.18" y="191.50" width="3.4" height="3.4" fill="#27426e"/>
<line x1="371.56" y1="187.83" x2="371.56" y2="191.86" stroke="#27426e" stroke-width="1.1" />
<line x1="369.96" y1="187.83" x2="373.16" y2="187.83" stroke="#27426e" stroke-width="1.1" />
<line x1="369.96" y1="191.86" x2="373.16" y2="191.86" stroke="#27426e" stroke-width="1.1" />
<rect x="369.86" y="188.14" width="3.4" height="3.4" fill="#27426e"/>
<line x1="381.25" y1="181.11" x2="381.25" y2="187.83" stroke="#27426e" stroke-width="1.1" />
<line x1="379.65" y1="181.11" x2="382.85" y2="181.11" stroke="#27426e" stroke-width="1.1" />
<line x1="379.65" y1="187.83" x2="382.85" y2="187.83" stroke="#27426e" stroke-width="1.1" />
<rect x="379.55" y="182.77" width="3.4" height="3.4" fill="#27426e"/>
<polyline points="303.75,199.92 313.44,201.94 323.12,199.25 332.81,195.89 342.50,200.59 352.19,203.95 361.88,198.58 371.56,194.55 381.25,194.55" fill="none" stroke="#a3143e" stroke-width="1.7" stroke-linejoin="round"/>
<line x1="303.75" y1="198.58" x2="303.75" y2="201.27" stroke="#a3143e" stroke-width="1.1" />
<line x1="302.15" y1="198.58" x2="305.35" y2="198.58" stroke="#a3143e" stroke-width="1.1" />
<line x1="302.15" y1="201.27" x2="305.35" y2="201.27" stroke="#a3143e" stroke-width="1.1" />
<rect x="302.05" y="198.22" width="3.4" height="3.4" fill="#a3143e"/>
<line x1="313.44" y1="199.92" x2="313.44" y2="203.95" stroke="#a3143e" stroke-width="1.1" />
<line x1="311.84" y1="199.92" x2="315.04" y2="199.92" stroke="#a3143e" stroke-width="1.1" />
<line x1="311.84" y1="203.95" x2="315.04" y2="203.95" stroke="#a3143e" stroke-width="1.1" />
<rect x="311.74" y="200.24" width="3.4" height="3.4" fill="#a3143e"/>
<line x1="323.12" y1="196.56" x2="323.12" y2="201.94" stroke="#a3143e" stroke-width="1.1" />
<line x1="321.52" y1="196.56" x2="324.73" y2="196.56" stroke="#a3143e" stroke-width="1.1" />
<line x1="321.52" y1="201.94" x2="324.73" y2="201.94" stroke="#a3143e" stroke-width="1.1" />
<rect x="321.43" y="197.55" width="3.4" height="3.4" fill="#a3143e"/>
<line x1="332.81" y1="190.52" x2="332.81" y2="201.27" stroke="#a3143e" stroke-width="1.1" />
<line x1="331.21" y1="190.52" x2="334.41" y2="190.52" stroke="#a3143e" stroke-width="1.1" />
<line x1="331.21" y1="201.27" x2="334.41" y2="201.27" stroke="#a3143e" stroke-width="1.1" />
<rect x="331.11" y="194.19" width="3.4" height="3.4" fill="#a3143e"/>
<line x1="342.50" y1="195.22" x2="342.50" y2="205.97" stroke="#a3143e" stroke-width="1.1" />
<line x1="340.90" y1="195.22" x2="344.10" y2="195.22" stroke="#a3143e" stroke-width="1.1" />
<line x1="340.90" y1="205.97" x2="344.10" y2="205.97" stroke="#a3143e" stroke-width="1.1" />
<rect x="340.80" y="198.89" width="3.4" height="3.4" fill="#a3143e"/>
<line x1="352.19" y1="197.91" x2="352.19" y2="210.00" stroke="#a3143e" stroke-width="1.1" />
<line x1="350.59" y1="197.91" x2="353.79" y2="197.91" stroke="#a3143e" stroke-width="1.1" />
<line x1="350.59" y1="210.00" x2="353.79" y2="210.00" stroke="#a3143e" stroke-width="1.1" />
<rect x="350.49" y="202.25" width="3.4" height="3.4" fill="#a3143e"/>
<line x1="361.88" y1="192.53" x2="361.88" y2="204.62" stroke="#a3143e" stroke-width="1.1" />
<line x1="360.27" y1="192.53" x2="363.48" y2="192.53" stroke="#a3143e" stroke-width="1.1" />
<line x1="360.27" y1="204.62" x2="363.48" y2="204.62" stroke="#a3143e" stroke-width="1.1" />
<rect x="360.18" y="196.88" width="3.4" height="3.4" fill="#a3143e"/>
<line x1="371.56" y1="191.86" x2="371.56" y2="197.23" stroke="#a3143e" stroke-width="1.1" />
<line x1="369.96" y1="191.86" x2="373.16" y2="191.86" stroke="#a3143e" stroke-width="1.1" />
<line x1="369.96" y1="197.23" x2="373.16" y2="197.23" stroke="#a3143e" stroke-width="1.1" />
<rect x="369.86" y="192.85" width="3.4" height="3.4" fill="#a3143e"/>
<line x1="381.25" y1="187.83" x2="381.25" y2="201.27" stroke="#a3143e" stroke-width="1.1" />
<line x1="379.65" y1="187.83" x2="382.85" y2="187.83" stroke="#a3143e" stroke-width="1.1" />
<line x1="379.65" y1="201.27" x2="382.85" y2="201.27" stroke="#a3143e" stroke-width="1.1" />
<rect x="379.55" y="192.85" width="3.4" height="3.4" fill="#a3143e"/>
<text x="342.50" y="158.50" font-size="10" text-anchor="middle" fill="#111"  stroke="#111" stroke-width="0.22">PLT</text>
<text x="0" y="0" font-size="8.8" font-weight="bold" fill="#222" text-anchor="middle" transform="translate(267.60,192.00) rotate(-90) scale(0.730,1)" stroke="#222" stroke-width="0.22">10<tspan font-size="6" dy="-3.2">6</tspan><tspan dy="3.2">/mL</tspan></text>
<line x1="421.25" y1="164.30" x2="421.25" y2="221.35" stroke="#000" stroke-width="1.3" />
<line x1="420.65" y1="220.75" x2="504.50" y2="220.75" stroke="#000" stroke-width="1.3" />
<line x1="418.25" y1="220.75" x2="421.25" y2="220.75" stroke="#000" stroke-width="1.1" />
<text x="415.05" y="223.60" font-size="8" text-anchor="end" fill="#1a1a1a"  stroke="#1a1a1a" stroke-width="0.22">0</text>
<line x1="418.25" y1="207.44" x2="421.25" y2="207.44" stroke="#000" stroke-width="1.1" />
<text x="415.05" y="210.29" font-size="8" text-anchor="end" fill="#1a1a1a"  stroke="#1a1a1a" stroke-width="0.22">5</text>
<line x1="418.25" y1="194.12" x2="421.25" y2="194.12" stroke="#000" stroke-width="1.1" />
<text x="415.05" y="196.97" font-size="8" text-anchor="end" fill="#1a1a1a"  stroke="#1a1a1a" stroke-width="0.22">10</text>
<line x1="418.25" y1="180.81" x2="421.25" y2="180.81" stroke="#000" stroke-width="1.1" />
<text x="415.05" y="183.66" font-size="8" text-anchor="end" fill="#1a1a1a"  stroke="#1a1a1a" stroke-width="0.22">15</text>
<line x1="418.25" y1="167.50" x2="421.25" y2="167.50" stroke="#000" stroke-width="1.1" />
<text x="415.05" y="170.35" font-size="8" text-anchor="end" fill="#1a1a1a"  stroke="#1a1a1a" stroke-width="0.22">20</text>
<line x1="425.50" y1="220.75" x2="425.50" y2="223.55" stroke="#000" stroke-width="1.1" />
<text x="425.50" y="234.50" font-size="7.8" text-anchor="middle" fill="#1a1a1a"  stroke="#1a1a1a" stroke-width="0.22">1</text>
<line x1="435.03" y1="220.75" x2="435.03" y2="223.55" stroke="#000" stroke-width="1.1" />
<text x="435.03" y="234.50" font-size="7.8" text-anchor="middle" fill="#1a1a1a"  stroke="#1a1a1a" stroke-width="0.22">2</text>
<line x1="444.56" y1="220.75" x2="444.56" y2="223.55" stroke="#000" stroke-width="1.1" />
<text x="444.56" y="234.50" font-size="7.8" text-anchor="middle" fill="#1a1a1a"  stroke="#1a1a1a" stroke-width="0.22">3</text>
<line x1="454.09" y1="220.75" x2="454.09" y2="223.55" stroke="#000" stroke-width="1.1" />
<text x="454.09" y="234.50" font-size="7.8" text-anchor="middle" fill="#1a1a1a"  stroke="#1a1a1a" stroke-width="0.22">4</text>
<line x1="463.62" y1="220.75" x2="463.62" y2="223.55" stroke="#000" stroke-width="1.1" />
<text x="463.62" y="234.50" font-size="7.8" text-anchor="middle" fill="#1a1a1a"  stroke="#1a1a1a" stroke-width="0.22">5</text>
<line x1="473.16" y1="220.75" x2="473.16" y2="223.55" stroke="#000" stroke-width="1.1" />
<text x="473.16" y="234.50" font-size="7.8" text-anchor="middle" fill="#1a1a1a"  stroke="#1a1a1a" stroke-width="0.22">6</text>
<line x1="482.69" y1="220.75" x2="482.69" y2="223.55" stroke="#000" stroke-width="1.1" />
<text x="482.69" y="234.50" font-size="7.8" text-anchor="middle" fill="#1a1a1a"  stroke="#1a1a1a" stroke-width="0.22">7</text>
<line x1="492.22" y1="220.75" x2="492.22" y2="223.55" stroke="#000" stroke-width="1.1" />
<text x="492.22" y="234.50" font-size="7.8" text-anchor="middle" fill="#1a1a1a"  stroke="#1a1a1a" stroke-width="0.22">8</text>
<line x1="501.75" y1="220.75" x2="501.75" y2="223.55" stroke="#000" stroke-width="1.1" />
<text x="501.75" y="234.50" font-size="7.8" text-anchor="middle" fill="#1a1a1a"  stroke="#1a1a1a" stroke-width="0.22">9</text>
<text x="463.62" y="248.20" font-size="9" text-anchor="middle" font-weight="bold" fill="#1a1a1a" textLength="27" lengthAdjust="spacingAndGlyphs"  stroke="#1a1a1a" stroke-width="0.22">(Months)</text>
<polyline points="425.50,192.79 435.03,176.82 444.56,190.13 454.09,184.81 463.62,192.79 473.16,184.81 482.69,184.81 492.22,188.80 501.75,195.46" fill="none" stroke="#27426e" stroke-width="1.7" stroke-linejoin="round"/>
<line x1="425.50" y1="190.13" x2="425.50" y2="195.46" stroke="#27426e" stroke-width="1.1" />
<line x1="423.90" y1="190.13" x2="427.10" y2="190.13" stroke="#27426e" stroke-width="1.1" />
<line x1="423.90" y1="195.46" x2="427.10" y2="195.46" stroke="#27426e" stroke-width="1.1" />
<rect x="423.80" y="191.09" width="3.4" height="3.4" fill="#27426e"/>
<line x1="435.03" y1="173.62" x2="435.03" y2="180.01" stroke="#27426e" stroke-width="1.1" />
<line x1="433.43" y1="173.62" x2="436.63" y2="173.62" stroke="#27426e" stroke-width="1.1" />
<line x1="433.43" y1="180.01" x2="436.63" y2="180.01" stroke="#27426e" stroke-width="1.1" />
<rect x="433.33" y="175.12" width="3.4" height="3.4" fill="#27426e"/>
<line x1="444.56" y1="188.53" x2="444.56" y2="191.73" stroke="#27426e" stroke-width="1.1" />
<line x1="442.96" y1="188.53" x2="446.16" y2="188.53" stroke="#27426e" stroke-width="1.1" />
<line x1="442.96" y1="191.73" x2="446.16" y2="191.73" stroke="#27426e" stroke-width="1.1" />
<rect x="442.86" y="188.43" width="3.4" height="3.4" fill="#27426e"/>
<line x1="454.09" y1="182.68" x2="454.09" y2="186.94" stroke="#27426e" stroke-width="1.1" />
<line x1="452.49" y1="182.68" x2="455.69" y2="182.68" stroke="#27426e" stroke-width="1.1" />
<line x1="452.49" y1="186.94" x2="455.69" y2="186.94" stroke="#27426e" stroke-width="1.1" />
<rect x="452.39" y="183.11" width="3.4" height="3.4" fill="#27426e"/>
<line x1="463.62" y1="191.20" x2="463.62" y2="194.39" stroke="#27426e" stroke-width="1.1" />
<line x1="462.02" y1="191.20" x2="465.23" y2="191.20" stroke="#27426e" stroke-width="1.1" />
<line x1="462.02" y1="194.39" x2="465.23" y2="194.39" stroke="#27426e" stroke-width="1.1" />
<rect x="461.93" y="191.09" width="3.4" height="3.4" fill="#27426e"/>
<line x1="473.16" y1="182.68" x2="473.16" y2="186.94" stroke="#27426e" stroke-width="1.1" />
<line x1="471.56" y1="182.68" x2="474.76" y2="182.68" stroke="#27426e" stroke-width="1.1" />
<line x1="471.56" y1="186.94" x2="474.76" y2="186.94" stroke="#27426e" stroke-width="1.1" />
<rect x="471.46" y="183.11" width="3.4" height="3.4" fill="#27426e"/>
<line x1="482.69" y1="182.68" x2="482.69" y2="186.94" stroke="#27426e" stroke-width="1.1" />
<line x1="481.09" y1="182.68" x2="484.29" y2="182.68" stroke="#27426e" stroke-width="1.1" />
<line x1="481.09" y1="186.94" x2="484.29" y2="186.94" stroke="#27426e" stroke-width="1.1" />
<rect x="480.99" y="183.11" width="3.4" height="3.4" fill="#27426e"/>
<line x1="492.22" y1="187.20" x2="492.22" y2="190.40" stroke="#27426e" stroke-width="1.1" />
<line x1="490.62" y1="187.20" x2="493.82" y2="187.20" stroke="#27426e" stroke-width="1.1" />
<line x1="490.62" y1="190.40" x2="493.82" y2="190.40" stroke="#27426e" stroke-width="1.1" />
<rect x="490.52" y="187.10" width="3.4" height="3.4" fill="#27426e"/>
<line x1="501.75" y1="194.12" x2="501.75" y2="196.79" stroke="#27426e" stroke-width="1.1" />
<line x1="500.15" y1="194.12" x2="503.35" y2="194.12" stroke="#27426e" stroke-width="1.1" />
<line x1="500.15" y1="196.79" x2="503.35" y2="196.79" stroke="#27426e" stroke-width="1.1" />
<rect x="500.05" y="193.76" width="3.4" height="3.4" fill="#27426e"/>
<polyline points="425.50,200.78 435.03,188.80 444.56,190.13 454.09,190.13 463.62,196.79 473.16,191.46 482.69,194.12 492.22,198.12 501.75,198.12" fill="none" stroke="#a3143e" stroke-width="1.7" stroke-linejoin="round"/>
<line x1="425.50" y1="199.18" x2="425.50" y2="202.38" stroke="#a3143e" stroke-width="1.1" />
<line x1="423.90" y1="199.18" x2="427.10" y2="199.18" stroke="#a3143e" stroke-width="1.1" />
<line x1="423.90" y1="202.38" x2="427.10" y2="202.38" stroke="#a3143e" stroke-width="1.1" />
<rect x="423.80" y="199.08" width="3.4" height="3.4" fill="#a3143e"/>
<line x1="435.03" y1="187.20" x2="435.03" y2="190.40" stroke="#a3143e" stroke-width="1.1" />
<line x1="433.43" y1="187.20" x2="436.63" y2="187.20" stroke="#a3143e" stroke-width="1.1" />
<line x1="433.43" y1="190.40" x2="436.63" y2="190.40" stroke="#a3143e" stroke-width="1.1" />
<rect x="433.33" y="187.10" width="3.4" height="3.4" fill="#a3143e"/>
<line x1="444.56" y1="188.53" x2="444.56" y2="191.73" stroke="#a3143e" stroke-width="1.1" />
<line x1="442.96" y1="188.53" x2="446.16" y2="188.53" stroke="#a3143e" stroke-width="1.1" />
<line x1="442.96" y1="191.73" x2="446.16" y2="191.73" stroke="#a3143e" stroke-width="1.1" />
<rect x="442.86" y="188.43" width="3.4" height="3.4" fill="#a3143e"/>
<line x1="454.09" y1="187.47" x2="454.09" y2="192.79" stroke="#a3143e" stroke-width="1.1" />
<line x1="452.49" y1="187.47" x2="455.69" y2="187.47" stroke="#a3143e" stroke-width="1.1" />
<line x1="452.49" y1="192.79" x2="455.69" y2="192.79" stroke="#a3143e" stroke-width="1.1" />
<rect x="452.39" y="188.43" width="3.4" height="3.4" fill="#a3143e"/>
<line x1="463.62" y1="194.12" x2="463.62" y2="199.45" stroke="#a3143e" stroke-width="1.1" />
<line x1="462.02" y1="194.12" x2="465.23" y2="194.12" stroke="#a3143e" stroke-width="1.1" />
<line x1="462.02" y1="199.45" x2="465.23" y2="199.45" stroke="#a3143e" stroke-width="1.1" />
<rect x="461.93" y="195.09" width="3.4" height="3.4" fill="#a3143e"/>
<line x1="473.16" y1="189.33" x2="473.16" y2="193.59" stroke="#a3143e" stroke-width="1.1" />
<line x1="471.56" y1="189.33" x2="474.76" y2="189.33" stroke="#a3143e" stroke-width="1.1" />
<line x1="471.56" y1="193.59" x2="474.76" y2="193.59" stroke="#a3143e" stroke-width="1.1" />
<rect x="471.46" y="189.76" width="3.4" height="3.4" fill="#a3143e"/>
<line x1="482.69" y1="192.53" x2="482.69" y2="195.72" stroke="#a3143e" stroke-width="1.1" />
<line x1="481.09" y1="192.53" x2="484.29" y2="192.53" stroke="#a3143e" stroke-width="1.1" />
<line x1="481.09" y1="195.72" x2="484.29" y2="195.72" stroke="#a3143e" stroke-width="1.1" />
<rect x="480.99" y="192.43" width="3.4" height="3.4" fill="#a3143e"/>
<line x1="492.22" y1="195.99" x2="492.22" y2="200.25" stroke="#a3143e" stroke-width="1.1" />
<line x1="490.62" y1="195.99" x2="493.82" y2="195.99" stroke="#a3143e" stroke-width="1.1" />
<line x1="490.62" y1="200.25" x2="493.82" y2="200.25" stroke="#a3143e" stroke-width="1.1" />
<rect x="490.52" y="196.42" width="3.4" height="3.4" fill="#a3143e"/>
<line x1="501.75" y1="195.46" x2="501.75" y2="200.78" stroke="#a3143e" stroke-width="1.1" />
<line x1="500.15" y1="195.46" x2="503.35" y2="195.46" stroke="#a3143e" stroke-width="1.1" />
<line x1="500.15" y1="200.78" x2="503.35" y2="200.78" stroke="#a3143e" stroke-width="1.1" />
<rect x="500.05" y="196.42" width="3.4" height="3.4" fill="#a3143e"/>
<text x="425.50" y="187.90" font-size="6.2" text-anchor="middle" fill="#333" stroke="#333" stroke-width="0.22">*</text>
<text x="435.03" y="170.90" font-size="6.2" text-anchor="middle" fill="#333" stroke="#333" stroke-width="0.22">*</text>
<text x="482.69" y="180.40" font-size="6.2" text-anchor="middle" fill="#333" stroke="#333" stroke-width="0.22">*</text>
<text x="492.22" y="184.90" font-size="6.2" text-anchor="middle" fill="#333" stroke="#333" stroke-width="0.22">*</text>
<text x="463.75" y="158.50" font-size="10" text-anchor="middle" fill="#111"  stroke="#111" stroke-width="0.22">Total WBC</text>
<text x="0" y="0" font-size="8.8" font-weight="bold" fill="#222" text-anchor="middle" transform="translate(400.00,191.75) rotate(-90) scale(0.765,1)" stroke="#222" stroke-width="0.22">10<tspan font-size="6" dy="-3.2">9</tspan><tspan dy="3.2">/mL</tspan></text>
<line x1="409.20" y1="131.40" x2="418.70" y2="131.40" stroke="#27426e" stroke-width="1.5" />
<rect x="412.35" y="129.80" width="3.2" height="3.2" fill="#27426e"/>
<text x="422.40" y="134.10" font-size="7.6" fill="#1a1a1a" textLength="90.60" lengthAdjust="spacingAndGlyphs" stroke="#1a1a1a" stroke-width="0.22"><tspan font-style="italic">Sipa1</tspan><tspan font-size="4.71" dy="-3.19">+/+</tspan><tspan dy="3.19"> to </tspan><tspan font-style="italic">Sipa1</tspan><tspan font-size="4.71" dy="-3.19">+/+</tspan><tspan dy="3.19"> (6 Gy)</tspan></text>
<line x1="409.20" y1="141.60" x2="418.70" y2="141.60" stroke="#a3143e" stroke-width="1.5" />
<rect x="412.35" y="140.00" width="3.2" height="3.2" fill="#a3143e"/>
<text x="422.40" y="144.30" font-size="7.6" fill="#1a1a1a" textLength="88.15" lengthAdjust="spacingAndGlyphs" stroke="#1a1a1a" stroke-width="0.22"><tspan font-style="italic">Sipa1</tspan><tspan font-size="4.71" dy="-3.19">+/+</tspan><tspan dy="3.19"> to </tspan><tspan font-style="italic">Sipa1</tspan><tspan font-size="4.71" dy="-3.19">-/-</tspan><tspan dy="3.19"> (6 Gy)</tspan></text>
<line x1="38.70" y1="289.60" x2="38.70" y2="350.60" stroke="#000" stroke-width="1.3" />
<line x1="38.10" y1="350.00" x2="122.50" y2="350.00" stroke="#000" stroke-width="1.3" />
<line x1="35.70" y1="350.00" x2="38.70" y2="350.00" stroke="#000" stroke-width="1.1" />
<text x="32.50" y="352.85" font-size="8" text-anchor="end" fill="#1a1a1a"  stroke="#1a1a1a" stroke-width="0.22">0</text>
<line x1="35.70" y1="330.93" x2="38.70" y2="330.93" stroke="#000" stroke-width="1.1" />
<text x="32.50" y="333.78" font-size="8" text-anchor="end" fill="#1a1a1a"  stroke="#1a1a1a" stroke-width="0.22">5</text>
<line x1="35.70" y1="311.87" x2="38.70" y2="311.87" stroke="#000" stroke-width="1.1" />
<text x="32.50" y="314.72" font-size="8" text-anchor="end" fill="#1a1a1a"  stroke="#1a1a1a" stroke-width="0.22">10</text>
<line x1="35.70" y1="292.80" x2="38.70" y2="292.80" stroke="#000" stroke-width="1.1" />
<text x="32.50" y="295.65" font-size="8" text-anchor="end" fill="#1a1a1a"  stroke="#1a1a1a" stroke-width="0.22">15</text>
<line x1="43.00" y1="350.00" x2="43.00" y2="352.80" stroke="#000" stroke-width="1.1" />
<text x="43.00" y="363.80" font-size="7.8" text-anchor="middle" fill="#1a1a1a"  stroke="#1a1a1a" stroke-width="0.22">1</text>
<line x1="52.62" y1="350.00" x2="52.62" y2="352.80" stroke="#000" stroke-width="1.1" />
<text x="52.62" y="363.80" font-size="7.8" text-anchor="middle" fill="#1a1a1a"  stroke="#1a1a1a" stroke-width="0.22">2</text>
<line x1="62.25" y1="350.00" x2="62.25" y2="352.80" stroke="#000" stroke-width="1.1" />
<text x="62.25" y="363.80" font-size="7.8" text-anchor="middle" fill="#1a1a1a"  stroke="#1a1a1a" stroke-width="0.22">3</text>
<line x1="71.88" y1="350.00" x2="71.88" y2="352.80" stroke="#000" stroke-width="1.1" />
<text x="71.88" y="363.80" font-size="7.8" text-anchor="middle" fill="#1a1a1a"  stroke="#1a1a1a" stroke-width="0.22">4</text>
<line x1="81.50" y1="350.00" x2="81.50" y2="352.80" stroke="#000" stroke-width="1.1" />
<text x="81.50" y="363.80" font-size="7.8" text-anchor="middle" fill="#1a1a1a"  stroke="#1a1a1a" stroke-width="0.22">5</text>
<line x1="91.12" y1="350.00" x2="91.12" y2="352.80" stroke="#000" stroke-width="1.1" />
<text x="91.12" y="363.80" font-size="7.8" text-anchor="middle" fill="#1a1a1a"  stroke="#1a1a1a" stroke-width="0.22">6</text>
<line x1="100.75" y1="350.00" x2="100.75" y2="352.80" stroke="#000" stroke-width="1.1" />
<text x="100.75" y="363.80" font-size="7.8" text-anchor="middle" fill="#1a1a1a"  stroke="#1a1a1a" stroke-width="0.22">7</text>
<line x1="110.38" y1="350.00" x2="110.38" y2="352.80" stroke="#000" stroke-width="1.1" />
<text x="110.38" y="363.80" font-size="7.8" text-anchor="middle" fill="#1a1a1a"  stroke="#1a1a1a" stroke-width="0.22">8</text>
<line x1="120.00" y1="350.00" x2="120.00" y2="352.80" stroke="#000" stroke-width="1.1" />
<text x="120.00" y="363.80" font-size="7.8" text-anchor="middle" fill="#1a1a1a"  stroke="#1a1a1a" stroke-width="0.22">9</text>
<text x="81.50" y="376.95" font-size="9" text-anchor="middle" font-weight="bold" fill="#1a1a1a" textLength="27" lengthAdjust="spacingAndGlyphs"  stroke="#1a1a1a" stroke-width="0.22">(Months)</text>
<polyline points="43.00,324.07 52.62,303.10 62.25,316.44 71.88,312.63 81.50,321.40 91.12,313.39 100.75,313.77 110.38,317.59 120.00,327.12" fill="none" stroke="#27426e" stroke-width="1.7" stroke-linejoin="round"/>
<line x1="43.00" y1="321.78" x2="43.00" y2="326.36" stroke="#27426e" stroke-width="1.1" />
<line x1="41.40" y1="321.78" x2="44.60" y2="321.78" stroke="#27426e" stroke-width="1.1" />
<line x1="41.40" y1="326.36" x2="44.60" y2="326.36" stroke="#27426e" stroke-width="1.1" />
<rect x="41.30" y="322.37" width="3.4" height="3.4" fill="#27426e"/>
<line x1="52.62" y1="299.28" x2="52.62" y2="306.91" stroke="#27426e" stroke-width="1.1" />
<line x1="51.02" y1="299.28" x2="54.23" y2="299.28" stroke="#27426e" stroke-width="1.1" />
<line x1="51.02" y1="306.91" x2="54.23" y2="306.91" stroke="#27426e" stroke-width="1.1" />
<rect x="50.92" y="301.40" width="3.4" height="3.4" fill="#27426e"/>
<line x1="62.25" y1="314.15" x2="62.25" y2="318.73" stroke="#27426e" stroke-width="1.1" />
<line x1="60.65" y1="314.15" x2="63.85" y2="314.15" stroke="#27426e" stroke-width="1.1" />
<line x1="60.65" y1="318.73" x2="63.85" y2="318.73" stroke="#27426e" stroke-width="1.1" />
<rect x="60.55" y="314.74" width="3.4" height="3.4" fill="#27426e"/>
<line x1="71.88" y1="310.34" x2="71.88" y2="314.92" stroke="#27426e" stroke-width="1.1" />
<line x1="70.28" y1="310.34" x2="73.47" y2="310.34" stroke="#27426e" stroke-width="1.1" />
<line x1="70.28" y1="314.92" x2="73.47" y2="314.92" stroke="#27426e" stroke-width="1.1" />
<rect x="70.17" y="310.93" width="3.4" height="3.4" fill="#27426e"/>
<line x1="81.50" y1="318.35" x2="81.50" y2="324.45" stroke="#27426e" stroke-width="1.1" />
<line x1="79.90" y1="318.35" x2="83.10" y2="318.35" stroke="#27426e" stroke-width="1.1" />
<line x1="79.90" y1="324.45" x2="83.10" y2="324.45" stroke="#27426e" stroke-width="1.1" />
<rect x="79.80" y="319.70" width="3.4" height="3.4" fill="#27426e"/>
<line x1="91.12" y1="311.49" x2="91.12" y2="315.30" stroke="#27426e" stroke-width="1.1" />
<line x1="89.53" y1="311.49" x2="92.72" y2="311.49" stroke="#27426e" stroke-width="1.1" />
<line x1="89.53" y1="315.30" x2="92.72" y2="315.30" stroke="#27426e" stroke-width="1.1" />
<rect x="89.42" y="311.69" width="3.4" height="3.4" fill="#27426e"/>
<line x1="100.75" y1="311.49" x2="100.75" y2="316.06" stroke="#27426e" stroke-width="1.1" />
<line x1="99.15" y1="311.49" x2="102.35" y2="311.49" stroke="#27426e" stroke-width="1.1" />
<line x1="99.15" y1="316.06" x2="102.35" y2="316.06" stroke="#27426e" stroke-width="1.1" />
<rect x="99.05" y="312.07" width="3.4" height="3.4" fill="#27426e"/>
<line x1="110.38" y1="315.68" x2="110.38" y2="319.49" stroke="#27426e" stroke-width="1.1" />
<line x1="108.78" y1="315.68" x2="111.97" y2="315.68" stroke="#27426e" stroke-width="1.1" />
<line x1="108.78" y1="319.49" x2="111.97" y2="319.49" stroke="#27426e" stroke-width="1.1" />
<rect x="108.67" y="315.89" width="3.4" height="3.4" fill="#27426e"/>
<line x1="120.00" y1="325.21" x2="120.00" y2="329.03" stroke="#27426e" stroke-width="1.1" />
<line x1="118.40" y1="325.21" x2="121.60" y2="325.21" stroke="#27426e" stroke-width="1.1" />
<line x1="118.40" y1="329.03" x2="121.60" y2="329.03" stroke="#27426e" stroke-width="1.1" />
<rect x="118.30" y="325.42" width="3.4" height="3.4" fill="#27426e"/>
<polyline points="43.00,332.84 52.62,318.73 62.25,319.11 71.88,317.21 81.50,323.31 91.12,318.73 100.75,322.54 110.38,326.74 120.00,330.17" fill="none" stroke="#a3143e" stroke-width="1.7" stroke-linejoin="round"/>
<line x1="43.00" y1="331.31" x2="43.00" y2="334.37" stroke="#a3143e" stroke-width="1.1" />
<line x1="41.40" y1="331.31" x2="44.60" y2="331.31" stroke="#a3143e" stroke-width="1.1" />
<line x1="41.40" y1="334.37" x2="44.60" y2="334.37" stroke="#a3143e" stroke-width="1.1" />
<rect x="41.30" y="331.14" width="3.4" height="3.4" fill="#a3143e"/>
<line x1="52.62" y1="316.44" x2="52.62" y2="321.02" stroke="#a3143e" stroke-width="1.1" />
<line x1="51.02" y1="316.44" x2="54.23" y2="316.44" stroke="#a3143e" stroke-width="1.1" />
<line x1="51.02" y1="321.02" x2="54.23" y2="321.02" stroke="#a3143e" stroke-width="1.1" />
<rect x="50.92" y="317.03" width="3.4" height="3.4" fill="#a3143e"/>
<line x1="62.25" y1="316.82" x2="62.25" y2="321.40" stroke="#a3143e" stroke-width="1.1" />
<line x1="60.65" y1="316.82" x2="63.85" y2="316.82" stroke="#a3143e" stroke-width="1.1" />
<line x1="60.65" y1="321.40" x2="63.85" y2="321.40" stroke="#a3143e" stroke-width="1.1" />
<rect x="60.55" y="317.41" width="3.4" height="3.4" fill="#a3143e"/>
<line x1="71.88" y1="314.15" x2="71.88" y2="320.26" stroke="#a3143e" stroke-width="1.1" />
<line x1="70.28" y1="314.15" x2="73.47" y2="314.15" stroke="#a3143e" stroke-width="1.1" />
<line x1="70.28" y1="320.26" x2="73.47" y2="320.26" stroke="#a3143e" stroke-width="1.1" />
<rect x="70.17" y="315.51" width="3.4" height="3.4" fill="#a3143e"/>
<line x1="81.50" y1="320.26" x2="81.50" y2="326.36" stroke="#a3143e" stroke-width="1.1" />
<line x1="79.90" y1="320.26" x2="83.10" y2="320.26" stroke="#a3143e" stroke-width="1.1" />
<line x1="79.90" y1="326.36" x2="83.10" y2="326.36" stroke="#a3143e" stroke-width="1.1" />
<rect x="79.80" y="321.61" width="3.4" height="3.4" fill="#a3143e"/>
<line x1="91.12" y1="316.44" x2="91.12" y2="321.02" stroke="#a3143e" stroke-width="1.1" />
<line x1="89.53" y1="316.44" x2="92.72" y2="316.44" stroke="#a3143e" stroke-width="1.1" />
<line x1="89.53" y1="321.02" x2="92.72" y2="321.02" stroke="#a3143e" stroke-width="1.1" />
<rect x="89.42" y="317.03" width="3.4" height="3.4" fill="#a3143e"/>
<line x1="100.75" y1="320.26" x2="100.75" y2="324.83" stroke="#a3143e" stroke-width="1.1" />
<line x1="99.15" y1="320.26" x2="102.35" y2="320.26" stroke="#a3143e" stroke-width="1.1" />
<line x1="99.15" y1="324.83" x2="102.35" y2="324.83" stroke="#a3143e" stroke-width="1.1" />
<rect x="99.05" y="320.84" width="3.4" height="3.4" fill="#a3143e"/>
<line x1="110.38" y1="323.69" x2="110.38" y2="329.79" stroke="#a3143e" stroke-width="1.1" />
<line x1="108.78" y1="323.69" x2="111.97" y2="323.69" stroke="#a3143e" stroke-width="1.1" />
<line x1="108.78" y1="329.79" x2="111.97" y2="329.79" stroke="#a3143e" stroke-width="1.1" />
<rect x="108.67" y="325.04" width="3.4" height="3.4" fill="#a3143e"/>
<line x1="120.00" y1="327.88" x2="120.00" y2="332.46" stroke="#a3143e" stroke-width="1.1" />
<line x1="118.40" y1="327.88" x2="121.60" y2="327.88" stroke="#a3143e" stroke-width="1.1" />
<line x1="118.40" y1="332.46" x2="121.60" y2="332.46" stroke="#a3143e" stroke-width="1.1" />
<rect x="118.30" y="328.47" width="3.4" height="3.4" fill="#a3143e"/>
<text x="43.00" y="319.90" font-size="6.2" text-anchor="middle" fill="#333" stroke="#333" stroke-width="0.22">*</text>
<text x="52.62" y="297.90" font-size="6.2" text-anchor="middle" fill="#333" stroke="#333" stroke-width="0.22">*</text>
<text x="100.75" y="308.90" font-size="6.2" text-anchor="middle" fill="#333" stroke="#333" stroke-width="0.22">*</text>
<text x="110.38" y="313.40" font-size="6.2" text-anchor="middle" fill="#333" stroke="#333" stroke-width="0.22">*</text>
<text x="80.00" y="272.30" font-size="10" text-anchor="middle" fill="#111"  stroke="#111" stroke-width="0.22">Donor (CD45.1<tspan font-size="7.4" dy="-3.9">+</tspan><tspan dy="3.9">)</tspan></text>
<text x="80.00" y="284.30" font-size="10" text-anchor="middle" fill="#111"  stroke="#111" stroke-width="0.22">WBC</text>
<text x="0" y="0" font-size="8.8" font-weight="bold" fill="#222" text-anchor="middle" transform="translate(16.80,320.00) rotate(-90) scale(0.730,1)" stroke="#222" stroke-width="0.22">10<tspan font-size="6" dy="-3.2">6</tspan><tspan dy="3.2">/mL</tspan></text>
<line x1="161.75" y1="289.80" x2="161.75" y2="350.60" stroke="#000" stroke-width="1.3" />
<line x1="161.15" y1="350.00" x2="245.50" y2="350.00" stroke="#000" stroke-width="1.3" />
<line x1="158.75" y1="350.00" x2="161.75" y2="350.00" stroke="#000" stroke-width="1.1" />
<text x="155.55" y="352.85" font-size="8" text-anchor="end" fill="#1a1a1a"  stroke="#1a1a1a" stroke-width="0.22">0</text>
<line x1="158.75" y1="331.00" x2="161.75" y2="331.00" stroke="#000" stroke-width="1.1" />
<text x="155.55" y="333.85" font-size="8" text-anchor="end" fill="#1a1a1a"  stroke="#1a1a1a" stroke-width="0.22">10</text>
<line x1="158.75" y1="312.00" x2="161.75" y2="312.00" stroke="#000" stroke-width="1.1" />
<text x="155.55" y="314.85" font-size="8" text-anchor="end" fill="#1a1a1a"  stroke="#1a1a1a" stroke-width="0.22">20</text>
<line x1="158.75" y1="293.00" x2="161.75" y2="293.00" stroke="#000" stroke-width="1.1" />
<text x="155.55" y="295.85" font-size="8" text-anchor="end" fill="#1a1a1a"  stroke="#1a1a1a" stroke-width="0.22">30</text>
<line x1="166.25" y1="350.00" x2="166.25" y2="352.80" stroke="#000" stroke-width="1.1" />
<text x="166.25" y="363.80" font-size="7.8" text-anchor="middle" fill="#1a1a1a"  stroke="#1a1a1a" stroke-width="0.22">1</text>
<line x1="175.78" y1="350.00" x2="175.78" y2="352.80" stroke="#000" stroke-width="1.1" />
<text x="175.78" y="363.80" font-size="7.8" text-anchor="middle" fill="#1a1a1a"  stroke="#1a1a1a" stroke-width="0.22">2</text>
<line x1="185.31" y1="350.00" x2="185.31" y2="352.80" stroke="#000" stroke-width="1.1" />
<text x="185.31" y="363.80" font-size="7.8" text-anchor="middle" fill="#1a1a1a"  stroke="#1a1a1a" stroke-width="0.22">3</text>
<line x1="194.84" y1="350.00" x2="194.84" y2="352.80" stroke="#000" stroke-width="1.1" />
<text x="194.84" y="363.80" font-size="7.8" text-anchor="middle" fill="#1a1a1a"  stroke="#1a1a1a" stroke-width="0.22">4</text>
<line x1="204.38" y1="350.00" x2="204.38" y2="352.80" stroke="#000" stroke-width="1.1" />
<text x="204.38" y="363.80" font-size="7.8" text-anchor="middle" fill="#1a1a1a"  stroke="#1a1a1a" stroke-width="0.22">5</text>
<line x1="213.91" y1="350.00" x2="213.91" y2="352.80" stroke="#000" stroke-width="1.1" />
<text x="213.91" y="363.80" font-size="7.8" text-anchor="middle" fill="#1a1a1a"  stroke="#1a1a1a" stroke-width="0.22">6</text>
<line x1="223.44" y1="350.00" x2="223.44" y2="352.80" stroke="#000" stroke-width="1.1" />
<text x="223.44" y="363.80" font-size="7.8" text-anchor="middle" fill="#1a1a1a"  stroke="#1a1a1a" stroke-width="0.22">7</text>
<line x1="232.97" y1="350.00" x2="232.97" y2="352.80" stroke="#000" stroke-width="1.1" />
<text x="232.97" y="363.80" font-size="7.8" text-anchor="middle" fill="#1a1a1a"  stroke="#1a1a1a" stroke-width="0.22">8</text>
<line x1="242.50" y1="350.00" x2="242.50" y2="352.80" stroke="#000" stroke-width="1.1" />
<text x="242.50" y="363.80" font-size="7.8" text-anchor="middle" fill="#1a1a1a"  stroke="#1a1a1a" stroke-width="0.22">9</text>
<text x="204.38" y="376.95" font-size="9" text-anchor="middle" font-weight="bold" fill="#1a1a1a" textLength="27" lengthAdjust="spacingAndGlyphs"  stroke="#1a1a1a" stroke-width="0.22">(Months)</text>
<polyline points="166.25,334.80 175.78,338.60 185.31,339.55 194.84,339.93 204.38,339.55 213.91,339.93 223.44,336.70 232.97,337.65 242.50,329.10" fill="none" stroke="#27426e" stroke-width="1.7" stroke-linejoin="round"/>
<line x1="166.25" y1="333.85" x2="166.25" y2="335.75" stroke="#27426e" stroke-width="1.1" />
<line x1="164.65" y1="333.85" x2="167.85" y2="333.85" stroke="#27426e" stroke-width="1.1" />
<line x1="164.65" y1="335.75" x2="167.85" y2="335.75" stroke="#27426e" stroke-width="1.1" />
<rect x="164.55" y="333.10" width="3.4" height="3.4" fill="#27426e"/>
<line x1="175.78" y1="337.84" x2="175.78" y2="339.36" stroke="#27426e" stroke-width="1.1" />
<line x1="174.18" y1="337.84" x2="177.38" y2="337.84" stroke="#27426e" stroke-width="1.1" />
<line x1="174.18" y1="339.36" x2="177.38" y2="339.36" stroke="#27426e" stroke-width="1.1" />
<rect x="174.08" y="336.90" width="3.4" height="3.4" fill="#27426e"/>
<line x1="185.31" y1="338.98" x2="185.31" y2="340.12" stroke="#27426e" stroke-width="1.1" />
<line x1="183.71" y1="338.98" x2="186.91" y2="338.98" stroke="#27426e" stroke-width="1.1" />
<line x1="183.71" y1="340.12" x2="186.91" y2="340.12" stroke="#27426e" stroke-width="1.1" />
<rect x="183.61" y="337.85" width="3.4" height="3.4" fill="#27426e"/>
<line x1="194.84" y1="339.36" x2="194.84" y2="340.50" stroke="#27426e" stroke-width="1.1" />
<line x1="193.24" y1="339.36" x2="196.44" y2="339.36" stroke="#27426e" stroke-width="1.1" />
<line x1="193.24" y1="340.50" x2="196.44" y2="340.50" stroke="#27426e" stroke-width="1.1" />
<rect x="193.14" y="338.23" width="3.4" height="3.4" fill="#27426e"/>
<line x1="204.38" y1="338.98" x2="204.38" y2="340.12" stroke="#27426e" stroke-width="1.1" />
<line x1="202.78" y1="338.98" x2="205.97" y2="338.98" stroke="#27426e" stroke-width="1.1" />
<line x1="202.78" y1="340.12" x2="205.97" y2="340.12" stroke="#27426e" stroke-width="1.1" />
<rect x="202.68" y="337.85" width="3.4" height="3.4" fill="#27426e"/>
<line x1="213.91" y1="339.36" x2="213.91" y2="340.50" stroke="#27426e" stroke-width="1.1" />
<line x1="212.31" y1="339.36" x2="215.51" y2="339.36" stroke="#27426e" stroke-width="1.1" />
<line x1="212.31" y1="340.50" x2="215.51" y2="340.50" stroke="#27426e" stroke-width="1.1" />
<rect x="212.21" y="338.23" width="3.4" height="3.4" fill="#27426e"/>
<line x1="223.44" y1="335.56" x2="223.44" y2="337.84" stroke="#27426e" stroke-width="1.1" />
<line x1="221.84" y1="335.56" x2="225.04" y2="335.56" stroke="#27426e" stroke-width="1.1" />
<line x1="221.84" y1="337.84" x2="225.04" y2="337.84" stroke="#27426e" stroke-width="1.1" />
<rect x="221.74" y="335.00" width="3.4" height="3.4" fill="#27426e"/>
<line x1="232.97" y1="336.89" x2="232.97" y2="338.41" stroke="#27426e" stroke-width="1.1" />
<line x1="231.37" y1="336.89" x2="234.57" y2="336.89" stroke="#27426e" stroke-width="1.1" />
<line x1="231.37" y1="338.41" x2="234.57" y2="338.41" stroke="#27426e" stroke-width="1.1" />
<rect x="231.27" y="335.95" width="3.4" height="3.4" fill="#27426e"/>
<line x1="242.50" y1="326.25" x2="242.50" y2="331.95" stroke="#27426e" stroke-width="1.1" />
<line x1="240.90" y1="326.25" x2="244.10" y2="326.25" stroke="#27426e" stroke-width="1.1" />
<line x1="240.90" y1="331.95" x2="244.10" y2="331.95" stroke="#27426e" stroke-width="1.1" />
<rect x="240.80" y="327.40" width="3.4" height="3.4" fill="#27426e"/>
<polyline points="166.25,333.85 175.78,337.65 185.31,338.60 194.84,336.13 204.38,336.32 213.91,336.13 223.44,328.15 232.97,325.30 242.50,308.20" fill="none" stroke="#a3143e" stroke-width="1.7" stroke-linejoin="round"/>
<line x1="166.25" y1="331.95" x2="166.25" y2="335.75" stroke="#a3143e" stroke-width="1.1" />
<line x1="164.65" y1="331.95" x2="167.85" y2="331.95" stroke="#a3143e" stroke-width="1.1" />
<line x1="164.65" y1="335.75" x2="167.85" y2="335.75" stroke="#a3143e" stroke-width="1.1" />
<rect x="164.55" y="332.15" width="3.4" height="3.4" fill="#a3143e"/>
<line x1="175.78" y1="336.51" x2="175.78" y2="338.79" stroke="#a3143e" stroke-width="1.1" />
<line x1="174.18" y1="336.51" x2="177.38" y2="336.51" stroke="#a3143e" stroke-width="1.1" />
<line x1="174.18" y1="338.79" x2="177.38" y2="338.79" stroke="#a3143e" stroke-width="1.1" />
<rect x="174.08" y="335.95" width="3.4" height="3.4" fill="#a3143e"/>
<line x1="185.31" y1="337.65" x2="185.31" y2="339.55" stroke="#a3143e" stroke-width="1.1" />
<line x1="183.71" y1="337.65" x2="186.91" y2="337.65" stroke="#a3143e" stroke-width="1.1" />
<line x1="183.71" y1="339.55" x2="186.91" y2="339.55" stroke="#a3143e" stroke-width="1.1" />
<rect x="183.61" y="336.90" width="3.4" height="3.4" fill="#a3143e"/>
<line x1="194.84" y1="334.23" x2="194.84" y2="338.03" stroke="#a3143e" stroke-width="1.1" />
<line x1="193.24" y1="334.23" x2="196.44" y2="334.23" stroke="#a3143e" stroke-width="1.1" />
<line x1="193.24" y1="338.03" x2="196.44" y2="338.03" stroke="#a3143e" stroke-width="1.1" />
<rect x="193.14" y="334.43" width="3.4" height="3.4" fill="#a3143e"/>
<line x1="204.38" y1="334.04" x2="204.38" y2="338.60" stroke="#a3143e" stroke-width="1.1" />
<line x1="202.78" y1="334.04" x2="205.97" y2="334.04" stroke="#a3143e" stroke-width="1.1" />
<line x1="202.78" y1="338.60" x2="205.97" y2="338.60" stroke="#a3143e" stroke-width="1.1" />
<rect x="202.68" y="334.62" width="3.4" height="3.4" fill="#a3143e"/>
<line x1="213.91" y1="334.23" x2="213.91" y2="338.03" stroke="#a3143e" stroke-width="1.1" />
<line x1="212.31" y1="334.23" x2="215.51" y2="334.23" stroke="#a3143e" stroke-width="1.1" />
<line x1="212.31" y1="338.03" x2="215.51" y2="338.03" stroke="#a3143e" stroke-width="1.1" />
<rect x="212.21" y="334.43" width="3.4" height="3.4" fill="#a3143e"/>
<line x1="223.44" y1="324.35" x2="223.44" y2="331.95" stroke="#a3143e" stroke-width="1.1" />
<line x1="221.84" y1="324.35" x2="225.04" y2="324.35" stroke="#a3143e" stroke-width="1.1" />
<line x1="221.84" y1="331.95" x2="225.04" y2="331.95" stroke="#a3143e" stroke-width="1.1" />
<rect x="221.74" y="326.45" width="3.4" height="3.4" fill="#a3143e"/>
<line x1="232.97" y1="320.55" x2="232.97" y2="330.05" stroke="#a3143e" stroke-width="1.1" />
<line x1="231.37" y1="320.55" x2="234.57" y2="320.55" stroke="#a3143e" stroke-width="1.1" />
<line x1="231.37" y1="330.05" x2="234.57" y2="330.05" stroke="#a3143e" stroke-width="1.1" />
<rect x="231.27" y="323.60" width="3.4" height="3.4" fill="#a3143e"/>
<line x1="242.50" y1="301.55" x2="242.50" y2="314.85" stroke="#a3143e" stroke-width="1.1" />
<line x1="240.90" y1="301.55" x2="244.10" y2="301.55" stroke="#a3143e" stroke-width="1.1" />
<line x1="240.90" y1="314.85" x2="244.10" y2="314.85" stroke="#a3143e" stroke-width="1.1" />
<rect x="240.80" y="306.50" width="3.4" height="3.4" fill="#a3143e"/>
<text x="223.44" y="323.40" font-size="6.2" text-anchor="middle" fill="#333" stroke="#333" stroke-width="0.22">*</text>
<text x="231.67" y="318.40" font-size="6.2" text-anchor="middle" fill="#333" stroke="#333" stroke-width="0.22">*</text>
<text x="234.27" y="318.40" font-size="6.2" text-anchor="middle" fill="#333" stroke="#333" stroke-width="0.22">*</text>
<text x="242.50" y="298.90" font-size="6.2" text-anchor="middle" fill="#333" stroke="#333" stroke-width="0.22">*</text>
<text x="202.50" y="272.30" font-size="10" text-anchor="middle" fill="#111"  stroke="#111" stroke-width="0.22">CD45.1<tspan font-size="7.4" dy="-3.9">+</tspan><tspan dy="3.9"> granulocytes</tspan></text>
<text x="202.50" y="284.30" font-size="10" text-anchor="middle" fill="#111"  stroke="#111" stroke-width="0.22">(CD11B<tspan font-size="7.4" dy="-3.9">+</tspan><tspan dy="3.9">Gr1</tspan><tspan font-size="7.4" dy="-3.9">+</tspan><tspan dy="3.9">)</tspan></text>
<text x="0" y="0" font-size="9.2" font-weight="bold" fill="#222" text-anchor="middle" transform="translate(139.60,320.20) rotate(-90)" textLength="56" lengthAdjust="spacingAndGlyphs" stroke="#222" stroke-width="0.22">Of donor cells (%)</text>
<line x1="298.75" y1="289.80" x2="298.75" y2="350.60" stroke="#000" stroke-width="1.3" />
<line x1="298.15" y1="350.00" x2="383.00" y2="350.00" stroke="#000" stroke-width="1.3" />
<line x1="295.75" y1="350.00" x2="298.75" y2="350.00" stroke="#000" stroke-width="1.1" />
<text x="292.55" y="352.85" font-size="8" text-anchor="end" fill="#1a1a1a"  stroke="#1a1a1a" stroke-width="0.22">0</text>
<line x1="295.75" y1="331.00" x2="298.75" y2="331.00" stroke="#000" stroke-width="1.1" />
<text x="292.55" y="333.85" font-size="8" text-anchor="end" fill="#1a1a1a"  stroke="#1a1a1a" stroke-width="0.22">5</text>
<line x1="295.75" y1="312.00" x2="298.75" y2="312.00" stroke="#000" stroke-width="1.1" />
<text x="292.55" y="314.85" font-size="8" text-anchor="end" fill="#1a1a1a"  stroke="#1a1a1a" stroke-width="0.22">10</text>
<line x1="295.75" y1="293.00" x2="298.75" y2="293.00" stroke="#000" stroke-width="1.1" />
<text x="292.55" y="295.85" font-size="8" text-anchor="end" fill="#1a1a1a"  stroke="#1a1a1a" stroke-width="0.22">15</text>
<line x1="303.25" y1="350.00" x2="303.25" y2="352.80" stroke="#000" stroke-width="1.1" />
<text x="303.25" y="363.80" font-size="7.8" text-anchor="middle" fill="#1a1a1a"  stroke="#1a1a1a" stroke-width="0.22">1</text>
<line x1="312.84" y1="350.00" x2="312.84" y2="352.80" stroke="#000" stroke-width="1.1" />
<text x="312.84" y="363.80" font-size="7.8" text-anchor="middle" fill="#1a1a1a"  stroke="#1a1a1a" stroke-width="0.22">2</text>
<line x1="322.44" y1="350.00" x2="322.44" y2="352.80" stroke="#000" stroke-width="1.1" />
<text x="322.44" y="363.80" font-size="7.8" text-anchor="middle" fill="#1a1a1a"  stroke="#1a1a1a" stroke-width="0.22">3</text>
<line x1="332.03" y1="350.00" x2="332.03" y2="352.80" stroke="#000" stroke-width="1.1" />
<text x="332.03" y="363.80" font-size="7.8" text-anchor="middle" fill="#1a1a1a"  stroke="#1a1a1a" stroke-width="0.22">4</text>
<line x1="341.62" y1="350.00" x2="341.62" y2="352.80" stroke="#000" stroke-width="1.1" />
<text x="341.62" y="363.80" font-size="7.8" text-anchor="middle" fill="#1a1a1a"  stroke="#1a1a1a" stroke-width="0.22">5</text>
<line x1="351.22" y1="350.00" x2="351.22" y2="352.80" stroke="#000" stroke-width="1.1" />
<text x="351.22" y="363.80" font-size="7.8" text-anchor="middle" fill="#1a1a1a"  stroke="#1a1a1a" stroke-width="0.22">6</text>
<line x1="360.81" y1="350.00" x2="360.81" y2="352.80" stroke="#000" stroke-width="1.1" />
<text x="360.81" y="363.80" font-size="7.8" text-anchor="middle" fill="#1a1a1a"  stroke="#1a1a1a" stroke-width="0.22">7</text>
<line x1="370.41" y1="350.00" x2="370.41" y2="352.80" stroke="#000" stroke-width="1.1" />
<text x="370.41" y="363.80" font-size="7.8" text-anchor="middle" fill="#1a1a1a"  stroke="#1a1a1a" stroke-width="0.22">8</text>
<line x1="380.00" y1="350.00" x2="380.00" y2="352.80" stroke="#000" stroke-width="1.1" />
<text x="380.00" y="363.80" font-size="7.8" text-anchor="middle" fill="#1a1a1a"  stroke="#1a1a1a" stroke-width="0.22">9</text>
<text x="341.62" y="376.95" font-size="9" text-anchor="middle" font-weight="bold" fill="#1a1a1a" textLength="27" lengthAdjust="spacingAndGlyphs"  stroke="#1a1a1a" stroke-width="0.22">(Months)</text>
<polyline points="303.25,337.84 312.84,344.68 322.44,344.68 332.03,343.92 341.62,346.20 351.22,346.20 360.81,345.82 370.41,346.20 380.00,341.26" fill="none" stroke="#27426e" stroke-width="1.7" stroke-linejoin="round"/>
<line x1="303.25" y1="336.32" x2="303.25" y2="339.36" stroke="#27426e" stroke-width="1.1" />
<line x1="301.65" y1="336.32" x2="304.85" y2="336.32" stroke="#27426e" stroke-width="1.1" />
<line x1="301.65" y1="339.36" x2="304.85" y2="339.36" stroke="#27426e" stroke-width="1.1" />
<rect x="301.55" y="336.14" width="3.4" height="3.4" fill="#27426e"/>
<line x1="312.84" y1="343.92" x2="312.84" y2="345.44" stroke="#27426e" stroke-width="1.1" />
<line x1="311.24" y1="343.92" x2="314.44" y2="343.92" stroke="#27426e" stroke-width="1.1" />
<line x1="311.24" y1="345.44" x2="314.44" y2="345.44" stroke="#27426e" stroke-width="1.1" />
<rect x="311.14" y="342.98" width="3.4" height="3.4" fill="#27426e"/>
<line x1="322.44" y1="343.92" x2="322.44" y2="345.44" stroke="#27426e" stroke-width="1.1" />
<line x1="320.84" y1="343.92" x2="324.04" y2="343.92" stroke="#27426e" stroke-width="1.1" />
<line x1="320.84" y1="345.44" x2="324.04" y2="345.44" stroke="#27426e" stroke-width="1.1" />
<rect x="320.74" y="342.98" width="3.4" height="3.4" fill="#27426e"/>
<line x1="332.03" y1="343.16" x2="332.03" y2="344.68" stroke="#27426e" stroke-width="1.1" />
<line x1="330.43" y1="343.16" x2="333.63" y2="343.16" stroke="#27426e" stroke-width="1.1" />
<line x1="330.43" y1="344.68" x2="333.63" y2="344.68" stroke="#27426e" stroke-width="1.1" />
<rect x="330.33" y="342.22" width="3.4" height="3.4" fill="#27426e"/>
<line x1="341.62" y1="345.82" x2="341.62" y2="346.58" stroke="#27426e" stroke-width="1.1" />
<line x1="340.02" y1="345.82" x2="343.23" y2="345.82" stroke="#27426e" stroke-width="1.1" />
<line x1="340.02" y1="346.58" x2="343.23" y2="346.58" stroke="#27426e" stroke-width="1.1" />
<rect x="339.93" y="344.50" width="3.4" height="3.4" fill="#27426e"/>
<line x1="351.22" y1="345.82" x2="351.22" y2="346.58" stroke="#27426e" stroke-width="1.1" />
<line x1="349.62" y1="345.82" x2="352.82" y2="345.82" stroke="#27426e" stroke-width="1.1" />
<line x1="349.62" y1="346.58" x2="352.82" y2="346.58" stroke="#27426e" stroke-width="1.1" />
<rect x="349.52" y="344.50" width="3.4" height="3.4" fill="#27426e"/>
<line x1="360.81" y1="345.06" x2="360.81" y2="346.58" stroke="#27426e" stroke-width="1.1" />
<line x1="359.21" y1="345.06" x2="362.41" y2="345.06" stroke="#27426e" stroke-width="1.1" />
<line x1="359.21" y1="346.58" x2="362.41" y2="346.58" stroke="#27426e" stroke-width="1.1" />
<rect x="359.11" y="344.12" width="3.4" height="3.4" fill="#27426e"/>
<line x1="370.41" y1="345.44" x2="370.41" y2="346.96" stroke="#27426e" stroke-width="1.1" />
<line x1="368.81" y1="345.44" x2="372.01" y2="345.44" stroke="#27426e" stroke-width="1.1" />
<line x1="368.81" y1="346.96" x2="372.01" y2="346.96" stroke="#27426e" stroke-width="1.1" />
<rect x="368.71" y="344.50" width="3.4" height="3.4" fill="#27426e"/>
<line x1="380.00" y1="339.74" x2="380.00" y2="342.78" stroke="#27426e" stroke-width="1.1" />
<line x1="378.40" y1="339.74" x2="381.60" y2="339.74" stroke="#27426e" stroke-width="1.1" />
<line x1="378.40" y1="342.78" x2="381.60" y2="342.78" stroke="#27426e" stroke-width="1.1" />
<rect x="378.30" y="339.56" width="3.4" height="3.4" fill="#27426e"/>
<polyline points="303.25,329.10 312.84,344.30 322.44,344.30 332.03,343.54 341.62,346.20 351.22,346.20 360.81,346.20 370.41,344.30 380.00,327.96" fill="none" stroke="#a3143e" stroke-width="1.7" stroke-linejoin="round"/>
<line x1="303.25" y1="324.54" x2="303.25" y2="333.66" stroke="#a3143e" stroke-width="1.1" />
<line x1="301.65" y1="324.54" x2="304.85" y2="324.54" stroke="#a3143e" stroke-width="1.1" />
<line x1="301.65" y1="333.66" x2="304.85" y2="333.66" stroke="#a3143e" stroke-width="1.1" />
<rect x="301.55" y="327.40" width="3.4" height="3.4" fill="#a3143e"/>
<line x1="312.84" y1="343.16" x2="312.84" y2="345.44" stroke="#a3143e" stroke-width="1.1" />
<line x1="311.24" y1="343.16" x2="314.44" y2="343.16" stroke="#a3143e" stroke-width="1.1" />
<line x1="311.24" y1="345.44" x2="314.44" y2="345.44" stroke="#a3143e" stroke-width="1.1" />
<rect x="311.14" y="342.60" width="3.4" height="3.4" fill="#a3143e"/>
<line x1="322.44" y1="343.16" x2="322.44" y2="345.44" stroke="#a3143e" stroke-width="1.1" />
<line x1="320.84" y1="343.16" x2="324.04" y2="343.16" stroke="#a3143e" stroke-width="1.1" />
<line x1="320.84" y1="345.44" x2="324.04" y2="345.44" stroke="#a3143e" stroke-width="1.1" />
<rect x="320.74" y="342.60" width="3.4" height="3.4" fill="#a3143e"/>
<line x1="332.03" y1="342.40" x2="332.03" y2="344.68" stroke="#a3143e" stroke-width="1.1" />
<line x1="330.43" y1="342.40" x2="333.63" y2="342.40" stroke="#a3143e" stroke-width="1.1" />
<line x1="330.43" y1="344.68" x2="333.63" y2="344.68" stroke="#a3143e" stroke-width="1.1" />
<rect x="330.33" y="341.84" width="3.4" height="3.4" fill="#a3143e"/>
<line x1="341.62" y1="345.82" x2="341.62" y2="346.58" stroke="#a3143e" stroke-width="1.1" />
<line x1="340.02" y1="345.82" x2="343.23" y2="345.82" stroke="#a3143e" stroke-width="1.1" />
<line x1="340.02" y1="346.58" x2="343.23" y2="346.58" stroke="#a3143e" stroke-width="1.1" />
<rect x="339.93" y="344.50" width="3.4" height="3.4" fill="#a3143e"/>
<line x1="351.22" y1="345.82" x2="351.22" y2="346.58" stroke="#a3143e" stroke-width="1.1" />
<line x1="349.62" y1="345.82" x2="352.82" y2="345.82" stroke="#a3143e" stroke-width="1.1" />
<line x1="349.62" y1="346.58" x2="352.82" y2="346.58" stroke="#a3143e" stroke-width="1.1" />
<rect x="349.52" y="344.50" width="3.4" height="3.4" fill="#a3143e"/>
<line x1="360.81" y1="345.06" x2="360.81" y2="347.34" stroke="#a3143e" stroke-width="1.1" />
<line x1="359.21" y1="345.06" x2="362.41" y2="345.06" stroke="#a3143e" stroke-width="1.1" />
<line x1="359.21" y1="347.34" x2="362.41" y2="347.34" stroke="#a3143e" stroke-width="1.1" />
<rect x="359.11" y="344.50" width="3.4" height="3.4" fill="#a3143e"/>
<line x1="370.41" y1="342.78" x2="370.41" y2="345.82" stroke="#a3143e" stroke-width="1.1" />
<line x1="368.81" y1="342.78" x2="372.01" y2="342.78" stroke="#a3143e" stroke-width="1.1" />
<line x1="368.81" y1="345.82" x2="372.01" y2="345.82" stroke="#a3143e" stroke-width="1.1" />
<rect x="368.71" y="342.60" width="3.4" height="3.4" fill="#a3143e"/>
<line x1="380.00" y1="320.36" x2="380.00" y2="335.56" stroke="#a3143e" stroke-width="1.1" />
<line x1="378.40" y1="320.36" x2="381.60" y2="320.36" stroke="#a3143e" stroke-width="1.1" />
<line x1="378.40" y1="335.56" x2="381.60" y2="335.56" stroke="#a3143e" stroke-width="1.1" />
<rect x="378.30" y="326.26" width="3.4" height="3.4" fill="#a3143e"/>
<text x="340.00" y="272.30" font-size="10" text-anchor="middle" fill="#111"  stroke="#111" stroke-width="0.22">CD45.1<tspan font-size="7.4" dy="-3.9">+</tspan><tspan dy="3.9"> monocytes</tspan></text>
<text x="340.00" y="284.30" font-size="10" text-anchor="middle" fill="#111"  stroke="#111" stroke-width="0.22">(CD11B<tspan font-size="7.4" dy="-3.9">+</tspan><tspan dy="3.9">Gr1</tspan><tspan font-size="7.4" dy="-3.9">-</tspan><tspan dy="3.9">)</tspan></text>
<text x="0" y="0" font-size="9.2" font-weight="bold" fill="#222" text-anchor="middle" transform="translate(276.50,320.20) rotate(-90)" textLength="56" lengthAdjust="spacingAndGlyphs" stroke="#222" stroke-width="0.22">Of donor cells (%)</text>
<line x1="383.20" y1="297.50" x2="390.80" y2="297.50" stroke="#27426e" stroke-width="1.5" />
<rect x="385.40" y="295.90" width="3.2" height="3.2" fill="#27426e"/>
<text x="395.60" y="300.20" font-size="7.6" fill="#1a1a1a" textLength="92.10" lengthAdjust="spacingAndGlyphs" stroke="#1a1a1a" stroke-width="0.22"><tspan font-style="italic">Sipa1</tspan><tspan font-size="4.71" dy="-3.19">+/+</tspan><tspan dy="3.19"> to </tspan><tspan font-style="italic">Sipa1</tspan><tspan font-size="4.71" dy="-3.19">+/+</tspan><tspan dy="3.19"> (6 Gy)</tspan></text>
<line x1="383.20" y1="307.20" x2="390.80" y2="307.20" stroke="#a3143e" stroke-width="1.5" />
<rect x="385.40" y="305.60" width="3.2" height="3.2" fill="#a3143e"/>
<text x="395.60" y="309.90" font-size="7.6" fill="#1a1a1a" textLength="89.61" lengthAdjust="spacingAndGlyphs" stroke="#1a1a1a" stroke-width="0.22"><tspan font-style="italic">Sipa1</tspan><tspan font-size="4.71" dy="-3.19">+/+</tspan><tspan dy="3.19"> to </tspan><tspan font-style="italic">Sipa1</tspan><tspan font-size="4.71" dy="-3.19">-/-</tspan><tspan dy="3.19"> (6 Gy)</tspan></text>
<line x1="38.70" y1="407.30" x2="38.70" y2="468.60" stroke="#000" stroke-width="1.3" />
<line x1="38.10" y1="468.00" x2="122.50" y2="468.00" stroke="#000" stroke-width="1.3" />
<line x1="35.70" y1="468.00" x2="38.70" y2="468.00" stroke="#000" stroke-width="1.1" />
<text x="32.50" y="470.85" font-size="8" text-anchor="end" fill="#1a1a1a"  stroke="#1a1a1a" stroke-width="0.22">30</text>
<line x1="35.70" y1="456.50" x2="38.70" y2="456.50" stroke="#000" stroke-width="1.1" />
<text x="32.50" y="459.35" font-size="8" text-anchor="end" fill="#1a1a1a"  stroke="#1a1a1a" stroke-width="0.22">40</text>
<line x1="35.70" y1="445.00" x2="38.70" y2="445.00" stroke="#000" stroke-width="1.1" />
<text x="32.50" y="447.85" font-size="8" text-anchor="end" fill="#1a1a1a"  stroke="#1a1a1a" stroke-width="0.22">50</text>
<line x1="35.70" y1="433.50" x2="38.70" y2="433.50" stroke="#000" stroke-width="1.1" />
<text x="32.50" y="436.35" font-size="8" text-anchor="end" fill="#1a1a1a"  stroke="#1a1a1a" stroke-width="0.22">60</text>
<line x1="35.70" y1="422.00" x2="38.70" y2="422.00" stroke="#000" stroke-width="1.1" />
<text x="32.50" y="424.85" font-size="8" text-anchor="end" fill="#1a1a1a"  stroke="#1a1a1a" stroke-width="0.22">70</text>
<line x1="35.70" y1="410.50" x2="38.70" y2="410.50" stroke="#000" stroke-width="1.1" />
<text x="32.50" y="413.35" font-size="8" text-anchor="end" fill="#1a1a1a"  stroke="#1a1a1a" stroke-width="0.22">80</text>
<line x1="43.00" y1="468.00" x2="43.00" y2="470.80" stroke="#000" stroke-width="1.1" />
<text x="43.00" y="482.30" font-size="7.8" text-anchor="middle" fill="#1a1a1a"  stroke="#1a1a1a" stroke-width="0.22">1</text>
<line x1="52.62" y1="468.00" x2="52.62" y2="470.80" stroke="#000" stroke-width="1.1" />
<text x="52.62" y="482.30" font-size="7.8" text-anchor="middle" fill="#1a1a1a"  stroke="#1a1a1a" stroke-width="0.22">2</text>
<line x1="62.25" y1="468.00" x2="62.25" y2="470.80" stroke="#000" stroke-width="1.1" />
<text x="62.25" y="482.30" font-size="7.8" text-anchor="middle" fill="#1a1a1a"  stroke="#1a1a1a" stroke-width="0.22">3</text>
<line x1="71.88" y1="468.00" x2="71.88" y2="470.80" stroke="#000" stroke-width="1.1" />
<text x="71.88" y="482.30" font-size="7.8" text-anchor="middle" fill="#1a1a1a"  stroke="#1a1a1a" stroke-width="0.22">4</text>
<line x1="81.50" y1="468.00" x2="81.50" y2="470.80" stroke="#000" stroke-width="1.1" />
<text x="81.50" y="482.30" font-size="7.8" text-anchor="middle" fill="#1a1a1a"  stroke="#1a1a1a" stroke-width="0.22">5</text>
<line x1="91.12" y1="468.00" x2="91.12" y2="470.80" stroke="#000" stroke-width="1.1" />
<text x="91.12" y="482.30" font-size="7.8" text-anchor="middle" fill="#1a1a1a"  stroke="#1a1a1a" stroke-width="0.22">6</text>
<line x1="100.75" y1="468.00" x2="100.75" y2="470.80" stroke="#000" stroke-width="1.1" />
<text x="100.75" y="482.30" font-size="7.8" text-anchor="middle" fill="#1a1a1a"  stroke="#1a1a1a" stroke-width="0.22">7</text>
<line x1="110.38" y1="468.00" x2="110.38" y2="470.80" stroke="#000" stroke-width="1.1" />
<text x="110.38" y="482.30" font-size="7.8" text-anchor="middle" fill="#1a1a1a"  stroke="#1a1a1a" stroke-width="0.22">8</text>
<line x1="120.00" y1="468.00" x2="120.00" y2="470.80" stroke="#000" stroke-width="1.1" />
<text x="120.00" y="482.30" font-size="7.8" text-anchor="middle" fill="#1a1a1a"  stroke="#1a1a1a" stroke-width="0.22">9</text>
<text x="81.50" y="495.70" font-size="9" text-anchor="middle" font-weight="bold" fill="#1a1a1a" textLength="27" lengthAdjust="spacingAndGlyphs"  stroke="#1a1a1a" stroke-width="0.22">(Months)</text>
<polyline points="43.00,438.68 52.62,436.95 62.25,449.02 71.88,441.55 81.50,447.30 91.12,437.52 100.75,435.23 110.38,433.50 120.00,424.30" fill="none" stroke="#27426e" stroke-width="1.7" stroke-linejoin="round"/>
<line x1="43.00" y1="436.95" x2="43.00" y2="440.40" stroke="#27426e" stroke-width="1.1" />
<line x1="41.40" y1="436.95" x2="44.60" y2="436.95" stroke="#27426e" stroke-width="1.1" />
<line x1="41.40" y1="440.40" x2="44.60" y2="440.40" stroke="#27426e" stroke-width="1.1" />
<rect x="41.30" y="436.98" width="3.4" height="3.4" fill="#27426e"/>
<line x1="52.62" y1="435.80" x2="52.62" y2="438.10" stroke="#27426e" stroke-width="1.1" />
<line x1="51.02" y1="435.80" x2="54.23" y2="435.80" stroke="#27426e" stroke-width="1.1" />
<line x1="51.02" y1="438.10" x2="54.23" y2="438.10" stroke="#27426e" stroke-width="1.1" />
<rect x="50.92" y="435.25" width="3.4" height="3.4" fill="#27426e"/>
<line x1="62.25" y1="447.88" x2="62.25" y2="450.18" stroke="#27426e" stroke-width="1.1" />
<line x1="60.65" y1="447.88" x2="63.85" y2="447.88" stroke="#27426e" stroke-width="1.1" />
<line x1="60.65" y1="450.18" x2="63.85" y2="450.18" stroke="#27426e" stroke-width="1.1" />
<rect x="60.55" y="447.32" width="3.4" height="3.4" fill="#27426e"/>
<line x1="71.88" y1="440.17" x2="71.88" y2="442.93" stroke="#27426e" stroke-width="1.1" />
<line x1="70.28" y1="440.17" x2="73.47" y2="440.17" stroke="#27426e" stroke-width="1.1" />
<line x1="70.28" y1="442.93" x2="73.47" y2="442.93" stroke="#27426e" stroke-width="1.1" />
<rect x="70.17" y="439.85" width="3.4" height="3.4" fill="#27426e"/>
<line x1="81.50" y1="445.00" x2="81.50" y2="449.60" stroke="#27426e" stroke-width="1.1" />
<line x1="79.90" y1="445.00" x2="83.10" y2="445.00" stroke="#27426e" stroke-width="1.1" />
<line x1="79.90" y1="449.60" x2="83.10" y2="449.60" stroke="#27426e" stroke-width="1.1" />
<rect x="79.80" y="445.60" width="3.4" height="3.4" fill="#27426e"/>
<line x1="91.12" y1="436.14" x2="91.12" y2="438.91" stroke="#27426e" stroke-width="1.1" />
<line x1="89.53" y1="436.14" x2="92.72" y2="436.14" stroke="#27426e" stroke-width="1.1" />
<line x1="89.53" y1="438.91" x2="92.72" y2="438.91" stroke="#27426e" stroke-width="1.1" />
<rect x="89.42" y="435.82" width="3.4" height="3.4" fill="#27426e"/>
<line x1="100.75" y1="432.93" x2="100.75" y2="437.52" stroke="#27426e" stroke-width="1.1" />
<line x1="99.15" y1="432.93" x2="102.35" y2="432.93" stroke="#27426e" stroke-width="1.1" />
<line x1="99.15" y1="437.52" x2="102.35" y2="437.52" stroke="#27426e" stroke-width="1.1" />
<rect x="99.05" y="433.53" width="3.4" height="3.4" fill="#27426e"/>
<line x1="110.38" y1="431.20" x2="110.38" y2="435.80" stroke="#27426e" stroke-width="1.1" />
<line x1="108.78" y1="431.20" x2="111.97" y2="431.20" stroke="#27426e" stroke-width="1.1" />
<line x1="108.78" y1="435.80" x2="111.97" y2="435.80" stroke="#27426e" stroke-width="1.1" />
<rect x="108.67" y="431.80" width="3.4" height="3.4" fill="#27426e"/>
<line x1="120.00" y1="422.57" x2="120.00" y2="426.02" stroke="#27426e" stroke-width="1.1" />
<line x1="118.40" y1="422.57" x2="121.60" y2="422.57" stroke="#27426e" stroke-width="1.1" />
<line x1="118.40" y1="426.02" x2="121.60" y2="426.02" stroke="#27426e" stroke-width="1.1" />
<rect x="118.30" y="422.60" width="3.4" height="3.4" fill="#27426e"/>
<polyline points="43.00,452.48 52.62,447.88 62.25,451.32 71.88,445.57 81.50,449.60 91.12,446.15 100.75,446.15 110.38,451.32 120.00,452.48" fill="none" stroke="#a3143e" stroke-width="1.7" stroke-linejoin="round"/>
<line x1="43.00" y1="449.60" x2="43.00" y2="455.35" stroke="#a3143e" stroke-width="1.1" />
<line x1="41.40" y1="449.60" x2="44.60" y2="449.60" stroke="#a3143e" stroke-width="1.1" />
<line x1="41.40" y1="455.35" x2="44.60" y2="455.35" stroke="#a3143e" stroke-width="1.1" />
<rect x="41.30" y="450.78" width="3.4" height="3.4" fill="#a3143e"/>
<line x1="52.62" y1="446.15" x2="52.62" y2="449.60" stroke="#a3143e" stroke-width="1.1" />
<line x1="51.02" y1="446.15" x2="54.23" y2="446.15" stroke="#a3143e" stroke-width="1.1" />
<line x1="51.02" y1="449.60" x2="54.23" y2="449.60" stroke="#a3143e" stroke-width="1.1" />
<rect x="50.92" y="446.18" width="3.4" height="3.4" fill="#a3143e"/>
<line x1="62.25" y1="449.60" x2="62.25" y2="453.05" stroke="#a3143e" stroke-width="1.1" />
<line x1="60.65" y1="449.60" x2="63.85" y2="449.60" stroke="#a3143e" stroke-width="1.1" />
<line x1="60.65" y1="453.05" x2="63.85" y2="453.05" stroke="#a3143e" stroke-width="1.1" />
<rect x="60.55" y="449.62" width="3.4" height="3.4" fill="#a3143e"/>
<line x1="71.88" y1="444.43" x2="71.88" y2="446.73" stroke="#a3143e" stroke-width="1.1" />
<line x1="70.28" y1="444.43" x2="73.47" y2="444.43" stroke="#a3143e" stroke-width="1.1" />
<line x1="70.28" y1="446.73" x2="73.47" y2="446.73" stroke="#a3143e" stroke-width="1.1" />
<rect x="70.17" y="443.88" width="3.4" height="3.4" fill="#a3143e"/>
<line x1="81.50" y1="446.15" x2="81.50" y2="453.05" stroke="#a3143e" stroke-width="1.1" />
<line x1="79.90" y1="446.15" x2="83.10" y2="446.15" stroke="#a3143e" stroke-width="1.1" />
<line x1="79.90" y1="453.05" x2="83.10" y2="453.05" stroke="#a3143e" stroke-width="1.1" />
<rect x="79.80" y="447.90" width="3.4" height="3.4" fill="#a3143e"/>
<line x1="91.12" y1="443.27" x2="91.12" y2="449.02" stroke="#a3143e" stroke-width="1.1" />
<line x1="89.53" y1="443.27" x2="92.72" y2="443.27" stroke="#a3143e" stroke-width="1.1" />
<line x1="89.53" y1="449.02" x2="92.72" y2="449.02" stroke="#a3143e" stroke-width="1.1" />
<rect x="89.42" y="444.45" width="3.4" height="3.4" fill="#a3143e"/>
<line x1="100.75" y1="442.70" x2="100.75" y2="449.60" stroke="#a3143e" stroke-width="1.1" />
<line x1="99.15" y1="442.70" x2="102.35" y2="442.70" stroke="#a3143e" stroke-width="1.1" />
<line x1="99.15" y1="449.60" x2="102.35" y2="449.60" stroke="#a3143e" stroke-width="1.1" />
<rect x="99.05" y="444.45" width="3.4" height="3.4" fill="#a3143e"/>
<line x1="110.38" y1="447.88" x2="110.38" y2="454.77" stroke="#a3143e" stroke-width="1.1" />
<line x1="108.78" y1="447.88" x2="111.97" y2="447.88" stroke="#a3143e" stroke-width="1.1" />
<line x1="108.78" y1="454.77" x2="111.97" y2="454.77" stroke="#a3143e" stroke-width="1.1" />
<rect x="108.67" y="449.62" width="3.4" height="3.4" fill="#a3143e"/>
<line x1="120.00" y1="449.02" x2="120.00" y2="455.93" stroke="#a3143e" stroke-width="1.1" />
<line x1="118.40" y1="449.02" x2="121.60" y2="449.02" stroke="#a3143e" stroke-width="1.1" />
<line x1="118.40" y1="455.93" x2="121.60" y2="455.93" stroke="#a3143e" stroke-width="1.1" />
<rect x="118.30" y="450.78" width="3.4" height="3.4" fill="#a3143e"/>
<text x="41.70" y="435.40" font-size="6.2" text-anchor="middle" fill="#333" stroke="#333" stroke-width="0.22">*</text>
<text x="44.30" y="435.40" font-size="6.2" text-anchor="middle" fill="#333" stroke="#333" stroke-width="0.22">*</text>
<text x="50.02" y="435.40" font-size="6.2" text-anchor="middle" fill="#333" stroke="#333" stroke-width="0.22">*</text>
<text x="52.62" y="435.40" font-size="6.2" text-anchor="middle" fill="#333" stroke="#333" stroke-width="0.22">*</text>
<text x="55.23" y="435.40" font-size="6.2" text-anchor="middle" fill="#333" stroke="#333" stroke-width="0.22">*</text>
<text x="91.12" y="433.90" font-size="6.2" text-anchor="middle" fill="#333" stroke="#333" stroke-width="0.22">*</text>
<text x="109.08" y="428.65" font-size="6.2" text-anchor="middle" fill="#333" stroke="#333" stroke-width="0.22">*</text>
<text x="111.67" y="428.65" font-size="6.2" text-anchor="middle" fill="#333" stroke="#333" stroke-width="0.22">*</text>
<text x="117.40" y="419.90" font-size="6.2" text-anchor="middle" fill="#333" stroke="#333" stroke-width="0.22">*</text>
<text x="120.00" y="419.90" font-size="6.2" text-anchor="middle" fill="#333" stroke="#333" stroke-width="0.22">*</text>
<text x="122.60" y="419.90" font-size="6.2" text-anchor="middle" fill="#333" stroke="#333" stroke-width="0.22">*</text>
<text x="80.50" y="402.30" font-size="10" text-anchor="middle" fill="#111"  stroke="#111" stroke-width="0.22">CD45.1<tspan font-size="7.4" dy="-3.9">+</tspan><tspan dy="3.9"> B cells</tspan></text>
<text x="0" y="0" font-size="9.2" font-weight="bold" fill="#222" text-anchor="middle" transform="translate(15.50,437.60) rotate(-90)" textLength="56" lengthAdjust="spacingAndGlyphs" stroke="#222" stroke-width="0.22">Of donor cells (%)</text>
<line x1="162.00" y1="407.30" x2="162.00" y2="468.60" stroke="#000" stroke-width="1.3" />
<line x1="161.40" y1="468.00" x2="246.00" y2="468.00" stroke="#000" stroke-width="1.3" />
<line x1="159.00" y1="468.00" x2="162.00" y2="468.00" stroke="#000" stroke-width="1.1" />
<text x="155.80" y="470.85" font-size="8" text-anchor="end" fill="#1a1a1a"  stroke="#1a1a1a" stroke-width="0.22">0</text>
<line x1="159.00" y1="456.50" x2="162.00" y2="456.50" stroke="#000" stroke-width="1.1" />
<text x="155.80" y="459.35" font-size="8" text-anchor="end" fill="#1a1a1a"  stroke="#1a1a1a" stroke-width="0.22">10</text>
<line x1="159.00" y1="445.00" x2="162.00" y2="445.00" stroke="#000" stroke-width="1.1" />
<text x="155.80" y="447.85" font-size="8" text-anchor="end" fill="#1a1a1a"  stroke="#1a1a1a" stroke-width="0.22">20</text>
<line x1="159.00" y1="433.50" x2="162.00" y2="433.50" stroke="#000" stroke-width="1.1" />
<text x="155.80" y="436.35" font-size="8" text-anchor="end" fill="#1a1a1a"  stroke="#1a1a1a" stroke-width="0.22">30</text>
<line x1="159.00" y1="422.00" x2="162.00" y2="422.00" stroke="#000" stroke-width="1.1" />
<text x="155.80" y="424.85" font-size="8" text-anchor="end" fill="#1a1a1a"  stroke="#1a1a1a" stroke-width="0.22">40</text>
<line x1="159.00" y1="410.50" x2="162.00" y2="410.50" stroke="#000" stroke-width="1.1" />
<text x="155.80" y="413.35" font-size="8" text-anchor="end" fill="#1a1a1a"  stroke="#1a1a1a" stroke-width="0.22">50</text>
<line x1="166.25" y1="468.00" x2="166.25" y2="470.80" stroke="#000" stroke-width="1.1" />
<text x="166.25" y="482.30" font-size="7.8" text-anchor="middle" fill="#1a1a1a"  stroke="#1a1a1a" stroke-width="0.22">1</text>
<line x1="175.84" y1="468.00" x2="175.84" y2="470.80" stroke="#000" stroke-width="1.1" />
<text x="175.84" y="482.30" font-size="7.8" text-anchor="middle" fill="#1a1a1a"  stroke="#1a1a1a" stroke-width="0.22">2</text>
<line x1="185.44" y1="468.00" x2="185.44" y2="470.80" stroke="#000" stroke-width="1.1" />
<text x="185.44" y="482.30" font-size="7.8" text-anchor="middle" fill="#1a1a1a"  stroke="#1a1a1a" stroke-width="0.22">3</text>
<line x1="195.03" y1="468.00" x2="195.03" y2="470.80" stroke="#000" stroke-width="1.1" />
<text x="195.03" y="482.30" font-size="7.8" text-anchor="middle" fill="#1a1a1a"  stroke="#1a1a1a" stroke-width="0.22">4</text>
<line x1="204.62" y1="468.00" x2="204.62" y2="470.80" stroke="#000" stroke-width="1.1" />
<text x="204.62" y="482.30" font-size="7.8" text-anchor="middle" fill="#1a1a1a"  stroke="#1a1a1a" stroke-width="0.22">5</text>
<line x1="214.22" y1="468.00" x2="214.22" y2="470.80" stroke="#000" stroke-width="1.1" />
<text x="214.22" y="482.30" font-size="7.8" text-anchor="middle" fill="#1a1a1a"  stroke="#1a1a1a" stroke-width="0.22">6</text>
<line x1="223.81" y1="468.00" x2="223.81" y2="470.80" stroke="#000" stroke-width="1.1" />
<text x="223.81" y="482.30" font-size="7.8" text-anchor="middle" fill="#1a1a1a"  stroke="#1a1a1a" stroke-width="0.22">7</text>
<line x1="233.41" y1="468.00" x2="233.41" y2="470.80" stroke="#000" stroke-width="1.1" />
<text x="233.41" y="482.30" font-size="7.8" text-anchor="middle" fill="#1a1a1a"  stroke="#1a1a1a" stroke-width="0.22">8</text>
<line x1="243.00" y1="468.00" x2="243.00" y2="470.80" stroke="#000" stroke-width="1.1" />
<text x="243.00" y="482.30" font-size="7.8" text-anchor="middle" fill="#1a1a1a"  stroke="#1a1a1a" stroke-width="0.22">9</text>
<text x="204.62" y="495.70" font-size="9" text-anchor="middle" font-weight="bold" fill="#1a1a1a" textLength="27" lengthAdjust="spacingAndGlyphs"  stroke="#1a1a1a" stroke-width="0.22">(Months)</text>
<polyline points="166.25,438.10 175.84,431.20 185.44,418.55 195.03,427.18 204.62,420.27 214.22,429.48 223.81,434.07 233.41,435.80 243.00,451.90" fill="none" stroke="#27426e" stroke-width="1.7" stroke-linejoin="round"/>
<line x1="166.25" y1="435.80" x2="166.25" y2="440.40" stroke="#27426e" stroke-width="1.1" />
<line x1="164.65" y1="435.80" x2="167.85" y2="435.80" stroke="#27426e" stroke-width="1.1" />
<line x1="164.65" y1="440.40" x2="167.85" y2="440.40" stroke="#27426e" stroke-width="1.1" />
<rect x="164.55" y="436.40" width="3.4" height="3.4" fill="#27426e"/>
<line x1="175.84" y1="430.05" x2="175.84" y2="432.35" stroke="#27426e" stroke-width="1.1" />
<line x1="174.24" y1="430.05" x2="177.44" y2="430.05" stroke="#27426e" stroke-width="1.1" />
<line x1="174.24" y1="432.35" x2="177.44" y2="432.35" stroke="#27426e" stroke-width="1.1" />
<rect x="174.14" y="429.50" width="3.4" height="3.4" fill="#27426e"/>
<line x1="185.44" y1="417.40" x2="185.44" y2="419.70" stroke="#27426e" stroke-width="1.1" />
<line x1="183.84" y1="417.40" x2="187.04" y2="417.40" stroke="#27426e" stroke-width="1.1" />
<line x1="183.84" y1="419.70" x2="187.04" y2="419.70" stroke="#27426e" stroke-width="1.1" />
<rect x="183.74" y="416.85" width="3.4" height="3.4" fill="#27426e"/>
<line x1="195.03" y1="426.02" x2="195.03" y2="428.32" stroke="#27426e" stroke-width="1.1" />
<line x1="193.43" y1="426.02" x2="196.63" y2="426.02" stroke="#27426e" stroke-width="1.1" />
<line x1="193.43" y1="428.32" x2="196.63" y2="428.32" stroke="#27426e" stroke-width="1.1" />
<rect x="193.33" y="425.48" width="3.4" height="3.4" fill="#27426e"/>
<line x1="204.62" y1="416.82" x2="204.62" y2="423.73" stroke="#27426e" stroke-width="1.1" />
<line x1="203.03" y1="416.82" x2="206.22" y2="416.82" stroke="#27426e" stroke-width="1.1" />
<line x1="203.03" y1="423.73" x2="206.22" y2="423.73" stroke="#27426e" stroke-width="1.1" />
<rect x="202.93" y="418.57" width="3.4" height="3.4" fill="#27426e"/>
<line x1="214.22" y1="427.75" x2="214.22" y2="431.20" stroke="#27426e" stroke-width="1.1" />
<line x1="212.62" y1="427.75" x2="215.82" y2="427.75" stroke="#27426e" stroke-width="1.1" />
<line x1="212.62" y1="431.20" x2="215.82" y2="431.20" stroke="#27426e" stroke-width="1.1" />
<rect x="212.52" y="427.78" width="3.4" height="3.4" fill="#27426e"/>
<line x1="223.81" y1="431.77" x2="223.81" y2="436.38" stroke="#27426e" stroke-width="1.1" />
<line x1="222.21" y1="431.77" x2="225.41" y2="431.77" stroke="#27426e" stroke-width="1.1" />
<line x1="222.21" y1="436.38" x2="225.41" y2="436.38" stroke="#27426e" stroke-width="1.1" />
<rect x="222.11" y="432.38" width="3.4" height="3.4" fill="#27426e"/>
<line x1="233.41" y1="433.50" x2="233.41" y2="438.10" stroke="#27426e" stroke-width="1.1" />
<line x1="231.81" y1="433.50" x2="235.01" y2="433.50" stroke="#27426e" stroke-width="1.1" />
<line x1="231.81" y1="438.10" x2="235.01" y2="438.10" stroke="#27426e" stroke-width="1.1" />
<rect x="231.71" y="434.10" width="3.4" height="3.4" fill="#27426e"/>
<line x1="243.00" y1="449.60" x2="243.00" y2="454.20" stroke="#27426e" stroke-width="1.1" />
<line x1="241.40" y1="449.60" x2="244.60" y2="449.60" stroke="#27426e" stroke-width="1.1" />
<line x1="241.40" y1="454.20" x2="244.60" y2="454.20" stroke="#27426e" stroke-width="1.1" />
<rect x="241.30" y="450.20" width="3.4" height="3.4" fill="#27426e"/>
<polyline points="166.25,427.18 175.84,422.00 185.44,418.55 195.03,427.18 204.62,420.27 214.22,424.30 223.81,429.48 233.41,428.32 243.00,441.55" fill="none" stroke="#a3143e" stroke-width="1.7" stroke-linejoin="round"/>
<line x1="166.25" y1="425.45" x2="166.25" y2="428.90" stroke="#a3143e" stroke-width="1.1" />
<line x1="164.65" y1="425.45" x2="167.85" y2="425.45" stroke="#a3143e" stroke-width="1.1" />
<line x1="164.65" y1="428.90" x2="167.85" y2="428.90" stroke="#a3143e" stroke-width="1.1" />
<rect x="164.55" y="425.48" width="3.4" height="3.4" fill="#a3143e"/>
<line x1="175.84" y1="420.85" x2="175.84" y2="423.15" stroke="#a3143e" stroke-width="1.1" />
<line x1="174.24" y1="420.85" x2="177.44" y2="420.85" stroke="#a3143e" stroke-width="1.1" />
<line x1="174.24" y1="423.15" x2="177.44" y2="423.15" stroke="#a3143e" stroke-width="1.1" />
<rect x="174.14" y="420.30" width="3.4" height="3.4" fill="#a3143e"/>
<line x1="185.44" y1="417.40" x2="185.44" y2="419.70" stroke="#a3143e" stroke-width="1.1" />
<line x1="183.84" y1="417.40" x2="187.04" y2="417.40" stroke="#a3143e" stroke-width="1.1" />
<line x1="183.84" y1="419.70" x2="187.04" y2="419.70" stroke="#a3143e" stroke-width="1.1" />
<rect x="183.74" y="416.85" width="3.4" height="3.4" fill="#a3143e"/>
<line x1="195.03" y1="426.02" x2="195.03" y2="428.32" stroke="#a3143e" stroke-width="1.1" />
<line x1="193.43" y1="426.02" x2="196.63" y2="426.02" stroke="#a3143e" stroke-width="1.1" />
<line x1="193.43" y1="428.32" x2="196.63" y2="428.32" stroke="#a3143e" stroke-width="1.1" />
<rect x="193.33" y="425.48" width="3.4" height="3.4" fill="#a3143e"/>
<line x1="204.62" y1="416.82" x2="204.62" y2="423.73" stroke="#a3143e" stroke-width="1.1" />
<line x1="203.03" y1="416.82" x2="206.22" y2="416.82" stroke="#a3143e" stroke-width="1.1" />
<line x1="203.03" y1="423.73" x2="206.22" y2="423.73" stroke="#a3143e" stroke-width="1.1" />
<rect x="202.93" y="418.57" width="3.4" height="3.4" fill="#a3143e"/>
<line x1="214.22" y1="422.00" x2="214.22" y2="426.60" stroke="#a3143e" stroke-width="1.1" />
<line x1="212.62" y1="422.00" x2="215.82" y2="422.00" stroke="#a3143e" stroke-width="1.1" />
<line x1="212.62" y1="426.60" x2="215.82" y2="426.60" stroke="#a3143e" stroke-width="1.1" />
<rect x="212.52" y="422.60" width="3.4" height="3.4" fill="#a3143e"/>
<line x1="223.81" y1="424.88" x2="223.81" y2="434.07" stroke="#a3143e" stroke-width="1.1" />
<line x1="222.21" y1="424.88" x2="225.41" y2="424.88" stroke="#a3143e" stroke-width="1.1" />
<line x1="222.21" y1="434.07" x2="225.41" y2="434.07" stroke="#a3143e" stroke-width="1.1" />
<rect x="222.11" y="427.78" width="3.4" height="3.4" fill="#a3143e"/>
<line x1="233.41" y1="424.88" x2="233.41" y2="431.77" stroke="#a3143e" stroke-width="1.1" />
<line x1="231.81" y1="424.88" x2="235.01" y2="424.88" stroke="#a3143e" stroke-width="1.1" />
<line x1="231.81" y1="431.77" x2="235.01" y2="431.77" stroke="#a3143e" stroke-width="1.1" />
<rect x="231.71" y="426.62" width="3.4" height="3.4" fill="#a3143e"/>
<line x1="243.00" y1="438.10" x2="243.00" y2="445.00" stroke="#a3143e" stroke-width="1.1" />
<line x1="241.40" y1="438.10" x2="244.60" y2="438.10" stroke="#a3143e" stroke-width="1.1" />
<line x1="241.40" y1="445.00" x2="244.60" y2="445.00" stroke="#a3143e" stroke-width="1.1" />
<rect x="241.30" y="439.85" width="3.4" height="3.4" fill="#a3143e"/>
<text x="203.75" y="402.30" font-size="10" text-anchor="middle" fill="#111"  stroke="#111" stroke-width="0.22">CD45.1<tspan font-size="7.4" dy="-3.9">+</tspan><tspan dy="3.9"> T cells</tspan></text>
<text x="0" y="0" font-size="9.2" font-weight="bold" fill="#222" text-anchor="middle" transform="translate(139.30,437.60) rotate(-90)" textLength="56" lengthAdjust="spacingAndGlyphs" stroke="#222" stroke-width="0.22">Of donor cells (%)</text>
<line x1="298.75" y1="406.80" x2="298.75" y2="468.60" stroke="#000" stroke-width="1.3" />
<line x1="298.15" y1="468.00" x2="383.00" y2="468.00" stroke="#000" stroke-width="1.3" />
<line x1="295.75" y1="468.00" x2="298.75" y2="468.00" stroke="#000" stroke-width="1.1" />
<text x="292.55" y="470.85" font-size="8" text-anchor="end" fill="#1a1a1a"  stroke="#1a1a1a" stroke-width="0.22">0</text>
<line x1="295.75" y1="456.40" x2="298.75" y2="456.40" stroke="#000" stroke-width="1.1" />
<text x="292.55" y="459.25" font-size="8" text-anchor="end" fill="#1a1a1a"  stroke="#1a1a1a" stroke-width="0.22">1</text>
<line x1="295.75" y1="444.80" x2="298.75" y2="444.80" stroke="#000" stroke-width="1.1" />
<text x="292.55" y="447.65" font-size="8" text-anchor="end" fill="#1a1a1a"  stroke="#1a1a1a" stroke-width="0.22">2</text>
<line x1="295.75" y1="433.20" x2="298.75" y2="433.20" stroke="#000" stroke-width="1.1" />
<text x="292.55" y="436.05" font-size="8" text-anchor="end" fill="#1a1a1a"  stroke="#1a1a1a" stroke-width="0.22">3</text>
<line x1="295.75" y1="421.60" x2="298.75" y2="421.60" stroke="#000" stroke-width="1.1" />
<text x="292.55" y="424.45" font-size="8" text-anchor="end" fill="#1a1a1a"  stroke="#1a1a1a" stroke-width="0.22">4</text>
<line x1="295.75" y1="410.00" x2="298.75" y2="410.00" stroke="#000" stroke-width="1.1" />
<text x="292.55" y="412.85" font-size="8" text-anchor="end" fill="#1a1a1a"  stroke="#1a1a1a" stroke-width="0.22">5</text>
<line x1="303.25" y1="468.00" x2="303.25" y2="470.80" stroke="#000" stroke-width="1.1" />
<text x="303.25" y="482.30" font-size="7.8" text-anchor="middle" fill="#1a1a1a"  stroke="#1a1a1a" stroke-width="0.22">1</text>
<line x1="312.84" y1="468.00" x2="312.84" y2="470.80" stroke="#000" stroke-width="1.1" />
<text x="312.84" y="482.30" font-size="7.8" text-anchor="middle" fill="#1a1a1a"  stroke="#1a1a1a" stroke-width="0.22">2</text>
<line x1="322.44" y1="468.00" x2="322.44" y2="470.80" stroke="#000" stroke-width="1.1" />
<text x="322.44" y="482.30" font-size="7.8" text-anchor="middle" fill="#1a1a1a"  stroke="#1a1a1a" stroke-width="0.22">3</text>
<line x1="332.03" y1="468.00" x2="332.03" y2="470.80" stroke="#000" stroke-width="1.1" />
<text x="332.03" y="482.30" font-size="7.8" text-anchor="middle" fill="#1a1a1a"  stroke="#1a1a1a" stroke-width="0.22">4</text>
<line x1="341.62" y1="468.00" x2="341.62" y2="470.80" stroke="#000" stroke-width="1.1" />
<text x="341.62" y="482.30" font-size="7.8" text-anchor="middle" fill="#1a1a1a"  stroke="#1a1a1a" stroke-width="0.22">5</text>
<line x1="351.22" y1="468.00" x2="351.22" y2="470.80" stroke="#000" stroke-width="1.1" />
<text x="351.22" y="482.30" font-size="7.8" text-anchor="middle" fill="#1a1a1a"  stroke="#1a1a1a" stroke-width="0.22">6</text>
<line x1="360.81" y1="468.00" x2="360.81" y2="470.80" stroke="#000" stroke-width="1.1" />
<text x="360.81" y="482.30" font-size="7.8" text-anchor="middle" fill="#1a1a1a"  stroke="#1a1a1a" stroke-width="0.22">7</text>
<line x1="370.41" y1="468.00" x2="370.41" y2="470.80" stroke="#000" stroke-width="1.1" />
<text x="370.41" y="482.30" font-size="7.8" text-anchor="middle" fill="#1a1a1a"  stroke="#1a1a1a" stroke-width="0.22">8</text>
<line x1="380.00" y1="468.00" x2="380.00" y2="470.80" stroke="#000" stroke-width="1.1" />
<text x="380.00" y="482.30" font-size="7.8" text-anchor="middle" fill="#1a1a1a"  stroke="#1a1a1a" stroke-width="0.22">9</text>
<text x="341.62" y="495.70" font-size="9" text-anchor="middle" font-weight="bold" fill="#1a1a1a" textLength="27" lengthAdjust="spacingAndGlyphs"  stroke="#1a1a1a" stroke-width="0.22">(Months)</text>
<polyline points="303.25,422.76 312.84,442.48 322.44,439.58 332.03,444.80 341.62,445.96 351.22,448.28 360.81,447.70 370.41,449.44 380.00,455.82" fill="none" stroke="#27426e" stroke-width="1.7" stroke-linejoin="round"/>
<line x1="303.25" y1="420.44" x2="303.25" y2="425.08" stroke="#27426e" stroke-width="1.1" />
<line x1="301.65" y1="420.44" x2="304.85" y2="420.44" stroke="#27426e" stroke-width="1.1" />
<line x1="301.65" y1="425.08" x2="304.85" y2="425.08" stroke="#27426e" stroke-width="1.1" />
<rect x="301.55" y="421.06" width="3.4" height="3.4" fill="#27426e"/>
<line x1="312.84" y1="441.32" x2="312.84" y2="443.64" stroke="#27426e" stroke-width="1.1" />
<line x1="311.24" y1="441.32" x2="314.44" y2="441.32" stroke="#27426e" stroke-width="1.1" />
<line x1="311.24" y1="443.64" x2="314.44" y2="443.64" stroke="#27426e" stroke-width="1.1" />
<rect x="311.14" y="440.78" width="3.4" height="3.4" fill="#27426e"/>
<line x1="322.44" y1="438.42" x2="322.44" y2="440.74" stroke="#27426e" stroke-width="1.1" />
<line x1="320.84" y1="438.42" x2="324.04" y2="438.42" stroke="#27426e" stroke-width="1.1" />
<line x1="320.84" y1="440.74" x2="324.04" y2="440.74" stroke="#27426e" stroke-width="1.1" />
<rect x="320.74" y="437.88" width="3.4" height="3.4" fill="#27426e"/>
<line x1="332.03" y1="443.64" x2="332.03" y2="445.96" stroke="#27426e" stroke-width="1.1" />
<line x1="330.43" y1="443.64" x2="333.63" y2="443.64" stroke="#27426e" stroke-width="1.1" />
<line x1="330.43" y1="445.96" x2="333.63" y2="445.96" stroke="#27426e" stroke-width="1.1" />
<rect x="330.33" y="443.10" width="3.4" height="3.4" fill="#27426e"/>
<line x1="341.62" y1="443.64" x2="341.62" y2="448.28" stroke="#27426e" stroke-width="1.1" />
<line x1="340.02" y1="443.64" x2="343.23" y2="443.64" stroke="#27426e" stroke-width="1.1" />
<line x1="340.02" y1="448.28" x2="343.23" y2="448.28" stroke="#27426e" stroke-width="1.1" />
<rect x="339.93" y="444.26" width="3.4" height="3.4" fill="#27426e"/>
<line x1="351.22" y1="447.12" x2="351.22" y2="449.44" stroke="#27426e" stroke-width="1.1" />
<line x1="349.62" y1="447.12" x2="352.82" y2="447.12" stroke="#27426e" stroke-width="1.1" />
<line x1="349.62" y1="449.44" x2="352.82" y2="449.44" stroke="#27426e" stroke-width="1.1" />
<rect x="349.52" y="446.58" width="3.4" height="3.4" fill="#27426e"/>
<line x1="360.81" y1="446.54" x2="360.81" y2="448.86" stroke="#27426e" stroke-width="1.1" />
<line x1="359.21" y1="446.54" x2="362.41" y2="446.54" stroke="#27426e" stroke-width="1.1" />
<line x1="359.21" y1="448.86" x2="362.41" y2="448.86" stroke="#27426e" stroke-width="1.1" />
<rect x="359.11" y="446.00" width="3.4" height="3.4" fill="#27426e"/>
<line x1="370.41" y1="448.28" x2="370.41" y2="450.60" stroke="#27426e" stroke-width="1.1" />
<line x1="368.81" y1="448.28" x2="372.01" y2="448.28" stroke="#27426e" stroke-width="1.1" />
<line x1="368.81" y1="450.60" x2="372.01" y2="450.60" stroke="#27426e" stroke-width="1.1" />
<rect x="368.71" y="447.74" width="3.4" height="3.4" fill="#27426e"/>
<line x1="380.00" y1="454.08" x2="380.00" y2="457.56" stroke="#27426e" stroke-width="1.1" />
<line x1="378.40" y1="454.08" x2="381.60" y2="454.08" stroke="#27426e" stroke-width="1.1" />
<line x1="378.40" y1="457.56" x2="381.60" y2="457.56" stroke="#27426e" stroke-width="1.1" />
<rect x="378.30" y="454.12" width="3.4" height="3.4" fill="#27426e"/>
<polyline points="303.25,421.60 312.84,442.48 322.44,437.26 332.03,439.00 341.62,441.32 351.22,442.48 360.81,441.32 370.41,442.48 380.00,441.32" fill="none" stroke="#a3143e" stroke-width="1.7" stroke-linejoin="round"/>
<line x1="303.25" y1="418.12" x2="303.25" y2="425.08" stroke="#a3143e" stroke-width="1.1" />
<line x1="301.65" y1="418.12" x2="304.85" y2="418.12" stroke="#a3143e" stroke-width="1.1" />
<line x1="301.65" y1="425.08" x2="304.85" y2="425.08" stroke="#a3143e" stroke-width="1.1" />
<rect x="301.55" y="419.90" width="3.4" height="3.4" fill="#a3143e"/>
<line x1="312.84" y1="441.32" x2="312.84" y2="443.64" stroke="#a3143e" stroke-width="1.1" />
<line x1="311.24" y1="441.32" x2="314.44" y2="441.32" stroke="#a3143e" stroke-width="1.1" />
<line x1="311.24" y1="443.64" x2="314.44" y2="443.64" stroke="#a3143e" stroke-width="1.1" />
<rect x="311.14" y="440.78" width="3.4" height="3.4" fill="#a3143e"/>
<line x1="322.44" y1="435.52" x2="322.44" y2="439.00" stroke="#a3143e" stroke-width="1.1" />
<line x1="320.84" y1="435.52" x2="324.04" y2="435.52" stroke="#a3143e" stroke-width="1.1" />
<line x1="320.84" y1="439.00" x2="324.04" y2="439.00" stroke="#a3143e" stroke-width="1.1" />
<rect x="320.74" y="435.56" width="3.4" height="3.4" fill="#a3143e"/>
<line x1="332.03" y1="437.84" x2="332.03" y2="440.16" stroke="#a3143e" stroke-width="1.1" />
<line x1="330.43" y1="437.84" x2="333.63" y2="437.84" stroke="#a3143e" stroke-width="1.1" />
<line x1="330.43" y1="440.16" x2="333.63" y2="440.16" stroke="#a3143e" stroke-width="1.1" />
<rect x="330.33" y="437.30" width="3.4" height="3.4" fill="#a3143e"/>
<line x1="341.62" y1="437.84" x2="341.62" y2="444.80" stroke="#a3143e" stroke-width="1.1" />
<line x1="340.02" y1="437.84" x2="343.23" y2="437.84" stroke="#a3143e" stroke-width="1.1" />
<line x1="340.02" y1="444.80" x2="343.23" y2="444.80" stroke="#a3143e" stroke-width="1.1" />
<rect x="339.93" y="439.62" width="3.4" height="3.4" fill="#a3143e"/>
<line x1="351.22" y1="440.16" x2="351.22" y2="444.80" stroke="#a3143e" stroke-width="1.1" />
<line x1="349.62" y1="440.16" x2="352.82" y2="440.16" stroke="#a3143e" stroke-width="1.1" />
<line x1="349.62" y1="444.80" x2="352.82" y2="444.80" stroke="#a3143e" stroke-width="1.1" />
<rect x="349.52" y="440.78" width="3.4" height="3.4" fill="#a3143e"/>
<line x1="360.81" y1="439.00" x2="360.81" y2="443.64" stroke="#a3143e" stroke-width="1.1" />
<line x1="359.21" y1="439.00" x2="362.41" y2="439.00" stroke="#a3143e" stroke-width="1.1" />
<line x1="359.21" y1="443.64" x2="362.41" y2="443.64" stroke="#a3143e" stroke-width="1.1" />
<rect x="359.11" y="439.62" width="3.4" height="3.4" fill="#a3143e"/>
<line x1="370.41" y1="440.16" x2="370.41" y2="444.80" stroke="#a3143e" stroke-width="1.1" />
<line x1="368.81" y1="440.16" x2="372.01" y2="440.16" stroke="#a3143e" stroke-width="1.1" />
<line x1="368.81" y1="444.80" x2="372.01" y2="444.80" stroke="#a3143e" stroke-width="1.1" />
<rect x="368.71" y="440.78" width="3.4" height="3.4" fill="#a3143e"/>
<line x1="380.00" y1="437.26" x2="380.00" y2="445.38" stroke="#a3143e" stroke-width="1.1" />
<line x1="378.40" y1="437.26" x2="381.60" y2="437.26" stroke="#a3143e" stroke-width="1.1" />
<line x1="378.40" y1="445.38" x2="381.60" y2="445.38" stroke="#a3143e" stroke-width="1.1" />
<rect x="378.30" y="439.62" width="3.4" height="3.4" fill="#a3143e"/>
<text x="360.81" y="437.90" font-size="6.2" text-anchor="middle" fill="#333" stroke="#333" stroke-width="0.22">*</text>
<text x="370.41" y="438.90" font-size="6.2" text-anchor="middle" fill="#333" stroke="#333" stroke-width="0.22">*</text>
<text x="380.00" y="435.90" font-size="6.2" text-anchor="middle" fill="#333" stroke="#333" stroke-width="0.22">*</text>
<text x="341.25" y="402.30" font-size="10" text-anchor="middle" fill="#111"  stroke="#111" stroke-width="0.22">CD45.1<tspan font-size="7.4" dy="-3.9">+</tspan><tspan dy="3.9"> NK cells</tspan></text>
<text x="0" y="0" font-size="9.2" font-weight="bold" fill="#222" text-anchor="middle" transform="translate(281.30,437.60) rotate(-90)" textLength="56" lengthAdjust="spacingAndGlyphs" stroke="#222" stroke-width="0.22">Of donor cells (%)</text>
<line x1="383.20" y1="414.00" x2="390.80" y2="414.00" stroke="#27426e" stroke-width="1.5" />
<rect x="385.40" y="412.40" width="3.2" height="3.2" fill="#27426e"/>
<text x="395.60" y="416.70" font-size="7.6" fill="#1a1a1a" textLength="92.10" lengthAdjust="spacingAndGlyphs" stroke="#1a1a1a" stroke-width="0.22"><tspan font-style="italic">Sipa1</tspan><tspan font-size="4.71" dy="-3.19">+/+</tspan><tspan dy="3.19"> to </tspan><tspan font-style="italic">Sipa1</tspan><tspan font-size="4.71" dy="-3.19">+/+</tspan><tspan dy="3.19"> (6 Gy)</tspan></text>
<line x1="383.20" y1="425.60" x2="390.80" y2="425.60" stroke="#a3143e" stroke-width="1.5" />
<rect x="385.40" y="424.00" width="3.2" height="3.2" fill="#a3143e"/>
<text x="395.60" y="428.30" font-size="7.6" fill="#1a1a1a" textLength="89.61" lengthAdjust="spacingAndGlyphs" stroke="#1a1a1a" stroke-width="0.22"><tspan font-style="italic">Sipa1</tspan><tspan font-size="4.71" dy="-3.19">+/+</tspan><tspan dy="3.19"> to </tspan><tspan font-style="italic">Sipa1</tspan><tspan font-size="4.71" dy="-3.19">-/-</tspan><tspan dy="3.19"> (6 Gy)</tspan></text>
<text x="33.70" y="41.70" font-size="9.5" text-anchor="middle" fill="#222"  stroke="#222" stroke-width="0.22">Donor</text>
<text x="32.70" y="52.60" font-size="9.5" text-anchor="middle" fill="#222" textLength="32" lengthAdjust="spacingAndGlyphs"  stroke="#222" stroke-width="0.22">CD45.1</text>
<g transform="translate(34.85,67.8) scale(1.1)" fill="none" stroke="#111" stroke-width="1.35" stroke-linecap="round"><path d="M -18.2 -8.3 C -16.5 -6.1, -14.5 -6.1, -12 -8.3 C -10 -10.1, -6.5 -10.3, -3.9 -8 L -1.8 -6"/><path d="M -5.3 5.5 A 7.9 6.9 0 1 1 5.3 5.5"/><path d="M -5.3 5.5 Q 0 8.4 5.3 5.5"/><path d="M -7 2.6 Q -4.6 -2.4 -2.1 1.6"/><path d="M 7 2.6 Q 4.6 -2.4 2.1 1.6"/><circle cx="-2" cy="5.2" r="1" fill="#111" stroke="none"/><circle cx="2" cy="5.2" r="1" fill="#111" stroke="none"/><circle cx="0" cy="7.1" r="0.9" fill="#111" stroke="none"/><path d="M -1.4 7.6 L -8 6.9 M -1.4 8 L -7.6 10.2 M -1.1 8.3 L -4.6 11.2" stroke-width="1"/><path d="M 1.4 7.6 L 8 6.9 M 1.4 8 L 7.6 10.2 M 1.1 8.3 L 4.6 11.2" stroke-width="1"/></g>
<text x="24.6" y="91.7" font-size="9.5" fill="#222" stroke="#222" stroke-width="0.22"><tspan font-style="italic">Sipa1</tspan><tspan font-size="6.8" dy="-3.8">+/+</tspan></text>
<text x="15.80" y="104.20" font-size="9.5" fill="#222" textLength="55" lengthAdjust="spacingAndGlyphs"  stroke="#222" stroke-width="0.22">(7-10 weeks)</text>
<text x="50.40" y="66.10" font-size="9.5" fill="#222" textLength="28.4" lengthAdjust="spacingAndGlyphs"  stroke="#222" stroke-width="0.22">MACS</text>
<line x1="47.50" y1="71.00" x2="81.50" y2="71.00" stroke="#000" stroke-width="1.4" />
<polygon points="87.50,71.00 80.50,74.20 82.00,71.00 80.50,67.80" fill="#000"/>
<text x="94" y="58.8" font-size="9.5" fill="#222" stroke="#222" stroke-width="0.22">CD45<tspan font-size="7.2" dy="-3.3">+</tspan></text>
<defs><radialGradient id="cellg" cx="0.45" cy="0.42" r="0.62"><stop offset="0" stop-color="#7cc23e"/><stop offset="0.55" stop-color="#5aa42a"/><stop offset="1" stop-color="#2f6c12"/></radialGradient><radialGradient id="nucg" cx="0.5" cy="0.5" r="0.5"><stop offset="0" stop-color="#1f44c0"/><stop offset="0.6" stop-color="#2450c0"/><stop offset="1" stop-color="#3c8aa0"/></radialGradient></defs>
<ellipse cx="107" cy="66.6" rx="5.2" ry="3.9" fill="url(#cellg)" stroke="#3a7a1a" stroke-width="0.5"/>
<ellipse cx="97" cy="69.8" rx="7" ry="5.3" fill="url(#cellg)" stroke="#3a7a1a" stroke-width="0.5"/>
<circle cx="97" cy="69.8" r="2.1" fill="url(#nucg)"/>
<ellipse cx="118.6" cy="66.8" rx="7.6" ry="5" fill="url(#cellg)" stroke="#3a7a1a" stroke-width="0.5"/>
<circle cx="118.6" cy="66.8" r="2.1" fill="url(#nucg)"/>
<ellipse cx="102.9" cy="76.3" rx="7.2" ry="4.7" fill="url(#cellg)" stroke="#3a7a1a" stroke-width="0.5"/>
<circle cx="102.9" cy="76.3" r="2.1" fill="url(#nucg)"/>
<ellipse cx="118.6" cy="74.4" rx="6.8" ry="4.4" fill="url(#cellg)" stroke="#3a7a1a" stroke-width="0.5"/>
<circle cx="118.6" cy="74.4" r="2.1" fill="url(#nucg)"/>
<ellipse cx="110.1" cy="72.1" rx="5.8" ry="4.9" fill="url(#cellg)" stroke="#3a7a1a" stroke-width="0.5"/>
<circle cx="110.1" cy="72.1" r="2.1" fill="url(#nucg)"/>
<line x1="133.50" y1="68.80" x2="158.97" y2="52.18" stroke="#000" stroke-width="1.4" />
<polygon points="164.00,48.90 159.89,55.41 159.39,51.91 156.39,50.05" fill="#000"/>
<line x1="133.50" y1="68.80" x2="158.80" y2="83.40" stroke="#000" stroke-width="1.4" />
<polygon points="164.00,86.40 156.34,85.67 159.24,83.65 159.54,80.13" fill="#000"/>
<text font-size="9.6" fill="#222" transform="translate(133.4,62.2) rotate(-36)" stroke="#222" stroke-width="0.22">3x10<tspan font-size="6.6" dy="-3.6">6</tspan></text>
<text font-size="9.6" fill="#222" font-style="italic" transform="translate(129.2,83.2) rotate(26)" stroke="#222" stroke-width="0.22">3x10<tspan font-size="8" dy="-1.5">6</tspan></text>
<text x="190.10" y="24.70" font-size="9.5" text-anchor="middle" fill="#222" textLength="75.6" lengthAdjust="spacingAndGlyphs"  stroke="#222" stroke-width="0.22">Recipient CD45.2</text>
<text x="189.40" y="36.30" font-size="9.5" text-anchor="middle" fill="#222"  stroke="#222" stroke-width="0.22">6 Gy</text>
<g transform="translate(181.7,46.8) scale(1.0)" fill="none" stroke="#b01a40" stroke-width="1.35" stroke-linecap="round"><path d="M -18.2 -8.3 C -16.5 -6.1, -14.5 -6.1, -12 -8.3 C -10 -10.1, -6.5 -10.3, -3.9 -8 L -1.8 -6"/><path d="M -5.3 5.5 A 7.9 6.9 0 1 1 5.3 5.5"/><path d="M -5.3 5.5 Q 0 8.4 5.3 5.5"/><path d="M -7 2.6 Q -4.6 -2.4 -2.1 1.6"/><path d="M 7 2.6 Q 4.6 -2.4 2.1 1.6"/><circle cx="-2" cy="5.2" r="1" fill="#b01a40" stroke="none"/><circle cx="2" cy="5.2" r="1" fill="#b01a40" stroke="none"/><circle cx="0" cy="7.1" r="0.9" fill="#b01a40" stroke="none"/><path d="M -1.4 7.6 L -8 6.9 M -1.4 8 L -7.6 10.2 M -1.1 8.3 L -4.6 11.2" stroke-width="1"/><path d="M 1.4 7.6 L 8 6.9 M 1.4 8 L 7.6 10.2 M 1.1 8.3 L 4.6 11.2" stroke-width="1"/></g>
<polygon points="200.50,35.90 204.50,36.60 206.60,37.90 203.20,40.00 203.50,41.40 198.50,44.20 191.90,47.10 196.00,42.00 198.00,40.00 198.60,38.00" fill="#111"/>
<text x="193.3" y="55.5" font-size="9.5" fill="#222" stroke="#222" stroke-width="0.22"><tspan font-style="italic">Sipa1</tspan><tspan font-size="6.8" dy="-3.8">-/-</tspan></text>
<text x="181.70" y="68.00" font-size="9.5" fill="#222" textLength="54.8" lengthAdjust="spacingAndGlyphs"  stroke="#222" stroke-width="0.22">(8-10 weeks)</text>
<text x="191.30" y="83.80" font-size="9.5" text-anchor="middle" fill="#222"  stroke="#222" stroke-width="0.22">6 Gy</text>
<g transform="translate(184.6,95.2) scale(1.08)" fill="none" stroke="#283c72" stroke-width="1.35" stroke-linecap="round"><path d="M -18.2 -8.3 C -16.5 -6.1, -14.5 -6.1, -12 -8.3 C -10 -10.1, -6.5 -10.3, -3.9 -8 L -1.8 -6"/><path d="M -5.3 5.5 A 7.9 6.9 0 1 1 5.3 5.5"/><path d="M -5.3 5.5 Q 0 8.4 5.3 5.5"/><path d="M -7 2.6 Q -4.6 -2.4 -2.1 1.6"/><path d="M 7 2.6 Q 4.6 -2.4 2.1 1.6"/><circle cx="-2" cy="5.2" r="1" fill="#283c72" stroke="none"/><circle cx="2" cy="5.2" r="1" fill="#283c72" stroke="none"/><circle cx="0" cy="7.1" r="0.9" fill="#283c72" stroke="none"/><path d="M -1.4 7.6 L -8 6.9 M -1.4 8 L -7.6 10.2 M -1.1 8.3 L -4.6 11.2" stroke-width="1"/><path d="M 1.4 7.6 L 8 6.9 M 1.4 8 L 7.6 10.2 M 1.1 8.3 L 4.6 11.2" stroke-width="1"/></g>
<polygon points="202.50,83.40 206.50,84.10 208.60,85.40 205.20,87.50 205.50,88.90 200.50,91.70 193.90,94.60 198.00,89.50 200.00,87.50 200.60,85.50" fill="#111"/>
<text x="197" y="104.9" font-size="9.5" fill="#222" stroke="#222" stroke-width="0.22"><tspan font-style="italic">Sipa1</tspan><tspan font-size="6.8" dy="-3.8">+/+</tspan></text>
<text x="187.50" y="118.00" font-size="9.5" fill="#222" textLength="54.8" lengthAdjust="spacingAndGlyphs"  stroke="#222" stroke-width="0.22">(8-10 weeks)</text>
<text x="241.30" y="31.50" font-size="9.5" fill="#222" textLength="48.2" lengthAdjust="spacingAndGlyphs"  stroke="#222" stroke-width="0.22">PB analysis</text>
<line x1="239.60" y1="37.30" x2="294.50" y2="37.30" stroke="#000" stroke-width="1.4" />
<polygon points="300.50,37.30 293.50,40.50 295.00,37.30 293.50,34.10" fill="#000"/>
<text x="266.25" y="48.30" font-size="9.5" text-anchor="middle" fill="#222"  stroke="#222" stroke-width="0.22">monthly</text>
<text x="241.30" y="85.90" font-size="9.5" fill="#222" textLength="48.2" lengthAdjust="spacingAndGlyphs"  stroke="#222" stroke-width="0.22">PB analysis</text>
<line x1="239.60" y1="90.80" x2="294.50" y2="90.80" stroke="#000" stroke-width="1.4" />
<polygon points="300.50,90.80 293.50,94.00 295.00,90.80 293.50,87.60" fill="#000"/>
<text x="266.25" y="102.60" font-size="9.5" text-anchor="middle" fill="#222"  stroke="#222" stroke-width="0.22">monthly</text>
<text x="321.25" y="40.20" font-size="9.5" fill="#222" textLength="27.5" lengthAdjust="spacingAndGlyphs"  stroke="#222" stroke-width="0.22">MPN?</text>
<text x="335.00" y="88.40" font-size="9.5" text-anchor="middle" fill="#222"  stroke="#222" stroke-width="0.22">Normal</text>
<text x="303.75" y="100.90" font-size="9.5" fill="#222" textLength="62.5" lengthAdjust="spacingAndGlyphs"  stroke="#222" stroke-width="0.22">Hematopoiesis</text>
<clipPath id="clip11"><rect x="13.5" y="526.2" width="132.8" height="88.39999999999998"/></clipPath>
<g clip-path="url(#clip11)">
<rect x="13.5" y="526.2" width="132.8" height="88.39999999999998" fill="#faf1f9"/>
<circle cx="73.3" cy="576.0" r="2.96" fill="#dcaad6" stroke="#c78cc2" stroke-width="1.5"/>
<circle cx="138.8" cy="567.2" r="3.13" fill="#dcaad6" stroke="#c78cc2" stroke-width="1.5"/>
<circle cx="36.1" cy="571.5" r="3.03" fill="#dcaad6" stroke="#c78cc2" stroke-width="1.5"/>
<circle cx="97.9" cy="598.1" r="2.96" fill="#dcaad6" stroke="#c78cc2" stroke-width="1.5"/>
<circle cx="23.6" cy="551.8" r="2.98" fill="#dcaad6" stroke="#c78cc2" stroke-width="1.5"/>
<circle cx="23.1" cy="599.6" r="3.25" fill="#dcaad6" stroke="#c78cc2" stroke-width="1.5"/>
<circle cx="106.7" cy="527.2" r="2.96" fill="#dcaad6" stroke="#c78cc2" stroke-width="1.5"/>
<circle cx="146.8" cy="614.3" r="2.94" fill="#dcaad6" stroke="#c78cc2" stroke-width="1.5"/>
<circle cx="101.3" cy="581.3" r="3.06" fill="#dcaad6" stroke="#c78cc2" stroke-width="1.5"/>
<circle cx="32.4" cy="524.6" r="2.99" fill="#dcaad6" stroke="#c78cc2" stroke-width="1.5"/>
<circle cx="83.8" cy="528.8" r="3.11" fill="#dcaad6" stroke="#c78cc2" stroke-width="1.5"/>
<circle cx="36.9" cy="546.0" r="3.19" fill="#dcaad6" stroke="#c78cc2" stroke-width="1.5"/>
<circle cx="14.7" cy="567.0" r="3.27" fill="#dcaad6" stroke="#c78cc2" stroke-width="1.5"/>
<circle cx="71.6" cy="602.7" r="3.17" fill="#dcaad6" stroke="#c78cc2" stroke-width="1.5"/>
<circle cx="82.6" cy="583.6" r="3.02" fill="#dcaad6" stroke="#c78cc2" stroke-width="1.5"/>
<circle cx="74.0" cy="549.5" r="3.00" fill="#dcaad6" stroke="#c78cc2" stroke-width="1.5"/>
<circle cx="127.1" cy="590.0" r="3.07" fill="#dcaad6" stroke="#c78cc2" stroke-width="1.5"/>
<circle cx="54.3" cy="544.9" r="3.02" fill="#dcaad6" stroke="#c78cc2" stroke-width="1.5"/>
<circle cx="50.6" cy="529.8" r="3.12" fill="#dcaad6" stroke="#c78cc2" stroke-width="1.5"/>
<circle cx="116.9" cy="561.0" r="3.08" fill="#dcaad6" stroke="#c78cc2" stroke-width="1.5"/>
<circle cx="128.0" cy="559.7" r="3.25" fill="#dcaad6" stroke="#c78cc2" stroke-width="1.5"/>
<circle cx="143.5" cy="603.2" r="3.21" fill="#dcaad6" stroke="#c78cc2" stroke-width="1.5"/>
<circle cx="10.6" cy="543.0" r="3.15" fill="#dcaad6" stroke="#c78cc2" stroke-width="1.5"/>
<circle cx="146.6" cy="560.7" r="3.28" fill="#dcaad6" stroke="#c78cc2" stroke-width="1.5"/>
<circle cx="20.6" cy="582.6" r="3.26" fill="#dcaad6" stroke="#c78cc2" stroke-width="1.5"/>
<circle cx="118.6" cy="548.7" r="3.01" fill="#dcaad6" stroke="#c78cc2" stroke-width="1.5"/>
<circle cx="144.3" cy="594.8" r="3.24" fill="#dcaad6" stroke="#c78cc2" stroke-width="1.5"/>
<circle cx="24.5" cy="528.9" r="3.26" fill="#dcaad6" stroke="#c78cc2" stroke-width="1.5"/>
<circle cx="121.1" cy="540.0" r="3.21" fill="#dcaad6" stroke="#c78cc2" stroke-width="1.5"/>
<circle cx="88.1" cy="565.4" r="3.27" fill="#dcaad6" stroke="#c78cc2" stroke-width="1.5"/>
<circle cx="37.0" cy="592.3" r="2.92" fill="#dcaad6" stroke="#c78cc2" stroke-width="1.5"/>
<circle cx="26.7" cy="562.9" r="3.28" fill="#dcaad6" stroke="#c78cc2" stroke-width="1.5"/>
<circle cx="52.7" cy="606.7" r="3.16" fill="#dcaad6" stroke="#c78cc2" stroke-width="1.5"/>
<circle cx="39.7" cy="560.4" r="2.97" fill="#dcaad6" stroke="#c78cc2" stroke-width="1.5"/>
<circle cx="24.4" cy="616.6" r="3.20" fill="#dcaad6" stroke="#c78cc2" stroke-width="1.5"/>
<circle cx="44.2" cy="580.0" r="3.26" fill="#dcaad6" stroke="#c78cc2" stroke-width="1.5"/>
<circle cx="62.1" cy="566.0" r="3.14" fill="#dcaad6" stroke="#c78cc2" stroke-width="1.5"/>
<circle cx="90.3" cy="605.0" r="3.28" fill="#dcaad6" stroke="#c78cc2" stroke-width="1.5"/>
<circle cx="45.1" cy="541.1" r="3.17" fill="#dcaad6" stroke="#c78cc2" stroke-width="1.5"/>
<circle cx="113.1" cy="612.0" r="3.13" fill="#dcaad6" stroke="#c78cc2" stroke-width="1.5"/>
<circle cx="37.8" cy="612.9" r="3.24" fill="#dcaad6" stroke="#c78cc2" stroke-width="1.5"/>
<circle cx="132.9" cy="580.2" r="3.29" fill="#dcaad6" stroke="#c78cc2" stroke-width="1.5"/>
<circle cx="69.0" cy="533.0" r="3.23" fill="#dcaad6" stroke="#c78cc2" stroke-width="1.5"/>
<circle cx="15.9" cy="614.1" r="3.12" fill="#dcaad6" stroke="#c78cc2" stroke-width="1.5"/>
<circle cx="46.2" cy="601.0" r="3.18" fill="#dcaad6" stroke="#c78cc2" stroke-width="1.5"/>
<circle cx="93.3" cy="550.9" r="3.00" fill="#dcaad6" stroke="#c78cc2" stroke-width="1.5"/>
<circle cx="137.8" cy="542.5" r="2.98" fill="#dcaad6" stroke="#c78cc2" stroke-width="1.5"/>
<circle cx="89.9" cy="535.6" r="2.94" fill="#dcaad6" stroke="#c78cc2" stroke-width="1.5"/>
<circle cx="146.6" cy="585.2" r="3.05" fill="#dcaad6" stroke="#c78cc2" stroke-width="1.5"/>
<circle cx="77.4" cy="592.2" r="3.21" fill="#dcaad6" stroke="#c78cc2" stroke-width="1.5"/>
<circle cx="54.8" cy="617.5" r="3.17" fill="#dcaad6" stroke="#c78cc2" stroke-width="1.5"/>
<circle cx="112.8" cy="589.6" r="3.22" fill="#dcaad6" stroke="#c78cc2" stroke-width="1.5"/>
<circle cx="59.3" cy="587.9" r="3.01" fill="#dcaad6" stroke="#c78cc2" stroke-width="1.5"/>
<circle cx="97.2" cy="559.3" r="3.03" fill="#dcaad6" stroke="#c78cc2" stroke-width="1.5"/>
<circle cx="91.4" cy="580.7" r="3.25" fill="#dcaad6" stroke="#c78cc2" stroke-width="1.5"/>
<circle cx="112.5" cy="578.0" r="2.95" fill="#dcaad6" stroke="#c78cc2" stroke-width="1.5"/>
<circle cx="107.4" cy="570.1" r="3.26" fill="#dcaad6" stroke="#c78cc2" stroke-width="1.5"/>
<circle cx="122.4" cy="609.5" r="3.23" fill="#dcaad6" stroke="#c78cc2" stroke-width="1.5"/>
<circle cx="97.4" cy="569.8" r="3.03" fill="#dcaad6" stroke="#c78cc2" stroke-width="1.5"/>
<circle cx="131.6" cy="527.1" r="3.23" fill="#dcaad6" stroke="#c78cc2" stroke-width="1.5"/>
<circle cx="73.6" cy="525.5" r="3.28" fill="#dcaad6" stroke="#c78cc2" stroke-width="1.5"/>
<circle cx="105.5" cy="542.0" r="3.13" fill="#dcaad6" stroke="#c78cc2" stroke-width="1.5"/>
<circle cx="76.4" cy="540.1" r="3.21" fill="#dcaad6" stroke="#c78cc2" stroke-width="1.5"/>
<circle cx="48.3" cy="555.8" r="2.95" fill="#dcaad6" stroke="#c78cc2" stroke-width="1.5"/>
<circle cx="62.8" cy="576.9" r="3.28" fill="#dcaad6" stroke="#c78cc2" stroke-width="1.5"/>
<circle cx="132.5" cy="598.4" r="2.92" fill="#dcaad6" stroke="#c78cc2" stroke-width="1.5"/>
<circle cx="110.7" cy="600.5" r="3.16" fill="#dcaad6" stroke="#c78cc2" stroke-width="1.5"/>
<circle cx="85.0" cy="597.9" r="3.20" fill="#dcaad6" stroke="#c78cc2" stroke-width="1.5"/>
<circle cx="122.8" cy="529.2" r="3.19" fill="#dcaad6" stroke="#c78cc2" stroke-width="1.5"/>
<circle cx="57.0" cy="597.6" r="3.00" fill="#dcaad6" stroke="#c78cc2" stroke-width="1.5"/>
<circle cx="30.0" cy="537.2" r="3.14" fill="#dcaad6" stroke="#c78cc2" stroke-width="1.5"/>
<circle cx="142.2" cy="531.3" r="2.98" fill="#dcaad6" stroke="#c78cc2" stroke-width="1.5"/>
<circle cx="94.5" cy="525.8" r="3.01" fill="#dcaad6" stroke="#c78cc2" stroke-width="1.5"/>
<circle cx="47.9" cy="567.9" r="3.20" fill="#dcaad6" stroke="#c78cc2" stroke-width="1.5"/>
<circle cx="105.9" cy="553.6" r="3.23" fill="#dcaad6" stroke="#c78cc2" stroke-width="1.5"/>
<circle cx="27.5" cy="571.4" r="2.99" fill="#dcaad6" stroke="#c78cc2" stroke-width="1.5"/>
<circle cx="129.4" cy="545.2" r="3.22" fill="#dcaad6" stroke="#c78cc2" stroke-width="1.5"/>
<circle cx="135.8" cy="553.0" r="3.13" fill="#dcaad6" stroke="#c78cc2" stroke-width="1.5"/>
<circle cx="127.1" cy="616.7" r="3.09" fill="#dcaad6" stroke="#c78cc2" stroke-width="1.5"/>
<circle cx="12.0" cy="556.8" r="3.05" fill="#dcaad6" stroke="#c78cc2" stroke-width="1.5"/>
<circle cx="144.7" cy="576.8" r="3.15" fill="#dcaad6" stroke="#c78cc2" stroke-width="1.5"/>
<circle cx="61.2" cy="550.2" r="3.14" fill="#dcaad6" stroke="#c78cc2" stroke-width="1.5"/>
<circle cx="49.9" cy="590.8" r="2.95" fill="#dcaad6" stroke="#c78cc2" stroke-width="1.5"/>
<circle cx="64.6" cy="607.9" r="3.27" fill="#dcaad6" stroke="#c78cc2" stroke-width="1.5"/>
<circle cx="145.6" cy="546.2" r="3.24" fill="#dcaad6" stroke="#c78cc2" stroke-width="1.5"/>
<circle cx="83.1" cy="611.7" r="3.16" fill="#dcaad6" stroke="#c78cc2" stroke-width="1.5"/>
<circle cx="26.3" cy="607.5" r="3.13" fill="#dcaad6" stroke="#c78cc2" stroke-width="1.5"/>
<circle cx="16.0" cy="528.9" r="3.24" fill="#dcaad6" stroke="#c78cc2" stroke-width="1.5"/>
<circle cx="122.8" cy="582.1" r="3.14" fill="#dcaad6" stroke="#c78cc2" stroke-width="1.5"/>
<circle cx="101.2" cy="616.6" r="3.18" fill="#dcaad6" stroke="#c78cc2" stroke-width="1.5"/>
<circle cx="69.9" cy="558.1" r="3.06" fill="#dcaad6" stroke="#c78cc2" stroke-width="1.5"/>
<circle cx="138.0" cy="611.9" r="2.96" fill="#dcaad6" stroke="#c78cc2" stroke-width="1.5"/>
<circle cx="62.6" cy="539.0" r="3.27" fill="#dcaad6" stroke="#c78cc2" stroke-width="1.5"/>
<circle cx="53.8" cy="575.0" r="3.28" fill="#dcaad6" stroke="#c78cc2" stroke-width="1.5"/>
<circle cx="123.9" cy="568.5" r="3.19" fill="#dcaad6" stroke="#c78cc2" stroke-width="1.5"/>
<circle cx="10.7" cy="600.7" r="3.19" fill="#dcaad6" stroke="#c78cc2" stroke-width="1.5"/>
<circle cx="77.1" cy="567.4" r="2.94" fill="#dcaad6" stroke="#c78cc2" stroke-width="1.5"/>
<circle cx="74.6" cy="614.5" r="3.21" fill="#dcaad6" stroke="#c78cc2" stroke-width="1.5"/>
<circle cx="82.6" cy="548.1" r="3.22" fill="#dcaad6" stroke="#c78cc2" stroke-width="1.5"/>
<circle cx="102.9" cy="605.0" r="3.03" fill="#dcaad6" stroke="#c78cc2" stroke-width="1.5"/>
<circle cx="119.7" cy="597.9" r="3.03" fill="#dcaad6" stroke="#c78cc2" stroke-width="1.5"/>
<circle cx="93.3" cy="590.7" r="2.92" fill="#dcaad6" stroke="#c78cc2" stroke-width="1.5"/>
<circle cx="40.4" cy="527.0" r="3.10" fill="#dcaad6" stroke="#c78cc2" stroke-width="1.5"/>
<circle cx="10.6" cy="574.5" r="3.27" fill="#dcaad6" stroke="#c78cc2" stroke-width="1.5"/>
<circle cx="32.6" cy="581.9" r="3.23" fill="#dcaad6" stroke="#c78cc2" stroke-width="1.5"/>
<circle cx="17.3" cy="590.5" r="3.09" fill="#dcaad6" stroke="#c78cc2" stroke-width="1.5"/>
<circle cx="21.4" cy="540.4" r="3.27" fill="#dcaad6" stroke="#c78cc2" stroke-width="1.5"/>
<circle cx="84.9" cy="573.6" r="3.14" fill="#dcaad6" stroke="#c78cc2" stroke-width="1.5"/>
<circle cx="31.8" cy="600.5" r="2.97" fill="#dcaad6" stroke="#c78cc2" stroke-width="1.5"/>
<circle cx="92.9" cy="613.9" r="3.06" fill="#dcaad6" stroke="#c78cc2" stroke-width="1.5"/>
<circle cx="115.0" cy="532.9" r="3.23" fill="#dcaad6" stroke="#c78cc2" stroke-width="1.5"/>
<circle cx="83.6" cy="556.6" r="3.15" fill="#dcaad6" stroke="#c78cc2" stroke-width="1.5"/>
<circle cx="32.8" cy="554.4" r="2.97" fill="#dcaad6" stroke="#c78cc2" stroke-width="1.5"/>
<circle cx="70.9" cy="584.9" r="2.98" fill="#dcaad6" stroke="#c78cc2" stroke-width="1.5"/>
<circle cx="65.8" cy="617.0" r="3.17" fill="#dcaad6" stroke="#c78cc2" stroke-width="1.5"/>
<circle cx="148.4" cy="524.5" r="3.11" fill="#dcaad6" stroke="#c78cc2" stroke-width="1.5"/>
<circle cx="99.3" cy="533.6" r="2.99" fill="#dcaad6" stroke="#c78cc2" stroke-width="1.5"/>
<circle cx="57.1" cy="524.1" r="2.98" fill="#dcaad6" stroke="#c78cc2" stroke-width="1.5"/>
<circle cx="28.4" cy="589.5" r="2.95" fill="#dcaad6" stroke="#c78cc2" stroke-width="1.5"/>
<circle cx="114.7" cy="524.1" r="3.25" fill="#dcaad6" stroke="#c78cc2" stroke-width="1.5"/>
<circle cx="96.7" cy="541.8" r="3.22" fill="#dcaad6" stroke="#c78cc2" stroke-width="1.5"/>
<circle cx="67.1" cy="593.1" r="3.22" fill="#dcaad6" stroke="#c78cc2" stroke-width="1.5"/>
<circle cx="45.5" cy="616.3" r="3.19" fill="#dcaad6" stroke="#c78cc2" stroke-width="1.5"/>
<circle cx="137.8" cy="587.3" r="2.93" fill="#dcaad6" stroke="#c78cc2" stroke-width="1.5"/>
<circle cx="128.9" cy="536.2" r="2.93" fill="#dcaad6" stroke="#c78cc2" stroke-width="1.5"/>
</g>
<ellipse cx="80" cy="568" rx="5.2" ry="4.6" fill="#5d3fc0"/>
<ellipse cx="79" cy="567" rx="3" ry="2.5" fill="#7a5ad8" opacity="0.7"/>
<rect x="13.5" y="526.2" width="132.8" height="88.4" fill="none" stroke="#111" stroke-width="1.3"/>
<line x1="18.70" y1="531.20" x2="47.60" y2="531.20" stroke="#111" stroke-width="1.7" />
<clipPath id="clip23"><rect x="153.8" y="525.6" width="130.0" height="88.29999999999995"/></clipPath>
<g clip-path="url(#clip23)">
<rect x="153.8" y="525.6" width="130.0" height="88.29999999999995" fill="#faf1f9"/>
<circle cx="276.6" cy="612.1" r="3.20" fill="#dcaad6" stroke="#c78cc2" stroke-width="1.5"/>
<circle cx="272.2" cy="530.5" r="3.05" fill="#dcaad6" stroke="#c78cc2" stroke-width="1.5"/>
<circle cx="231.3" cy="562.6" r="2.92" fill="#dcaad6" stroke="#c78cc2" stroke-width="1.5"/>
<circle cx="222.9" cy="534.9" r="3.06" fill="#dcaad6" stroke="#c78cc2" stroke-width="1.5"/>
<circle cx="176.9" cy="564.5" r="3.03" fill="#dcaad6" stroke="#c78cc2" stroke-width="1.5"/>
<circle cx="154.2" cy="530.7" r="2.92" fill="#dcaad6" stroke="#c78cc2" stroke-width="1.5"/>
<circle cx="247.4" cy="562.3" r="3.28" fill="#dcaad6" stroke="#c78cc2" stroke-width="1.5"/>
<circle cx="220.5" cy="591.8" r="3.13" fill="#dcaad6" stroke="#c78cc2" stroke-width="1.5"/>
<circle cx="199.6" cy="528.0" r="3.26" fill="#dcaad6" stroke="#c78cc2" stroke-width="1.5"/>
<circle cx="257.3" cy="578.2" r="3.21" fill="#dcaad6" stroke="#c78cc2" stroke-width="1.5"/>
<circle cx="240.3" cy="581.2" r="3.23" fill="#dcaad6" stroke="#c78cc2" stroke-width="1.5"/>
<circle cx="282.8" cy="556.8" r="3.02" fill="#dcaad6" stroke="#c78cc2" stroke-width="1.5"/>
<circle cx="228.6" cy="584.9" r="3.02" fill="#dcaad6" stroke="#c78cc2" stroke-width="1.5"/>
<circle cx="238.2" cy="539.8" r="3.15" fill="#dcaad6" stroke="#c78cc2" stroke-width="1.5"/>
<circle cx="175.1" cy="553.1" r="3.24" fill="#dcaad6" stroke="#c78cc2" stroke-width="1.5"/>
<circle cx="261.8" cy="541.0" r="3.23" fill="#dcaad6" stroke="#c78cc2" stroke-width="1.5"/>
<circle cx="166.3" cy="531.9" r="3.01" fill="#dcaad6" stroke="#c78cc2" stroke-width="1.5"/>
<circle cx="156.1" cy="548.6" r="3.16" fill="#dcaad6" stroke="#c78cc2" stroke-width="1.5"/>
<circle cx="228.7" cy="600.0" r="3.02" fill="#dcaad6" stroke="#c78cc2" stroke-width="1.5"/>
<circle cx="195.8" cy="557.5" r="2.91" fill="#dcaad6" stroke="#c78cc2" stroke-width="1.5"/>
<circle cx="185.9" cy="532.7" r="3.04" fill="#dcaad6" stroke="#c78cc2" stroke-width="1.5"/>
<circle cx="257.4" cy="589.3" r="3.29" fill="#dcaad6" stroke="#c78cc2" stroke-width="1.5"/>
<circle cx="225.0" cy="609.2" r="3.12" fill="#dcaad6" stroke="#c78cc2" stroke-width="1.5"/>
<circle cx="173.5" cy="614.5" r="3.15" fill="#dcaad6" stroke="#c78cc2" stroke-width="1.5"/>
<circle cx="158.4" cy="561.8" r="2.92" fill="#dcaad6" stroke="#c78cc2" stroke-width="1.5"/>
<circle cx="154.0" cy="598.9" r="3.20" fill="#dcaad6" stroke="#c78cc2" stroke-width="1.5"/>
<circle cx="244.3" cy="614.4" r="2.99" fill="#dcaad6" stroke="#c78cc2" stroke-width="1.5"/>
<circle cx="260.3" cy="612.1" r="3.11" fill="#dcaad6" stroke="#c78cc2" stroke-width="1.5"/>
<circle cx="252.7" cy="555.2" r="3.07" fill="#dcaad6" stroke="#c78cc2" stroke-width="1.5"/>
<circle cx="177.1" cy="529.8" r="2.99" fill="#dcaad6" stroke="#c78cc2" stroke-width="1.5"/>
<circle cx="214.2" cy="541.1" r="3.05" fill="#dcaad6" stroke="#c78cc2" stroke-width="1.5"/>
<circle cx="185.2" cy="562.4" r="3.17" fill="#dcaad6" stroke="#c78cc2" stroke-width="1.5"/>
<circle cx="273.3" cy="564.5" r="3.13" fill="#dcaad6" stroke="#c78cc2" stroke-width="1.5"/>
<circle cx="197.4" cy="606.7" r="3.21" fill="#dcaad6" stroke="#c78cc2" stroke-width="1.5"/>
<circle cx="245.1" cy="600.9" r="3.05" fill="#dcaad6" stroke="#c78cc2" stroke-width="1.5"/>
<circle cx="165.5" cy="582.1" r="3.09" fill="#dcaad6" stroke="#c78cc2" stroke-width="1.5"/>
<circle cx="196.0" cy="575.3" r="2.97" fill="#dcaad6" stroke="#c78cc2" stroke-width="1.5"/>
<circle cx="227.2" cy="573.7" r="3.18" fill="#dcaad6" stroke="#c78cc2" stroke-width="1.5"/>
<circle cx="182.8" cy="575.5" r="3.06" fill="#dcaad6" stroke="#c78cc2" stroke-width="1.5"/>
<circle cx="214.8" cy="565.0" r="3.29" fill="#dcaad6" stroke="#c78cc2" stroke-width="1.5"/>
<circle cx="248.5" cy="523.0" r="3.18" fill="#dcaad6" stroke="#c78cc2" stroke-width="1.5"/>
<circle cx="202.1" cy="596.7" r="3.19" fill="#dcaad6" stroke="#c78cc2" stroke-width="1.5"/>
<circle cx="170.1" cy="604.4" r="3.23" fill="#dcaad6" stroke="#c78cc2" stroke-width="1.5"/>
<circle cx="178.5" cy="586.8" r="2.95" fill="#dcaad6" stroke="#c78cc2" stroke-width="1.5"/>
<circle cx="208.3" cy="530.3" r="2.90" fill="#dcaad6" stroke="#c78cc2" stroke-width="1.5"/>
<circle cx="244.5" cy="573.4" r="3.26" fill="#dcaad6" stroke="#c78cc2" stroke-width="1.5"/>
<circle cx="233.1" cy="550.1" r="3.06" fill="#dcaad6" stroke="#c78cc2" stroke-width="1.5"/>
<circle cx="191.9" cy="613.1" r="3.03" fill="#dcaad6" stroke="#c78cc2" stroke-width="1.5"/>
<circle cx="215.8" cy="574.8" r="3.13" fill="#dcaad6" stroke="#c78cc2" stroke-width="1.5"/>
<circle cx="185.5" cy="548.8" r="3.09" fill="#dcaad6" stroke="#c78cc2" stroke-width="1.5"/>
<circle cx="162.9" cy="543.1" r="3.27" fill="#dcaad6" stroke="#c78cc2" stroke-width="1.5"/>
<circle cx="186.7" cy="603.0" r="3.19" fill="#dcaad6" stroke="#c78cc2" stroke-width="1.5"/>
<circle cx="284.4" cy="582.4" r="3.03" fill="#dcaad6" stroke="#c78cc2" stroke-width="1.5"/>
<circle cx="163.1" cy="592.2" r="3.22" fill="#dcaad6" stroke="#c78cc2" stroke-width="1.5"/>
<circle cx="204.6" cy="586.7" r="3.11" fill="#dcaad6" stroke="#c78cc2" stroke-width="1.5"/>
<circle cx="275.3" cy="584.3" r="3.23" fill="#dcaad6" stroke="#c78cc2" stroke-width="1.5"/>
<circle cx="274.8" cy="539.8" r="3.28" fill="#dcaad6" stroke="#c78cc2" stroke-width="1.5"/>
<circle cx="153.4" cy="580.2" r="2.98" fill="#dcaad6" stroke="#c78cc2" stroke-width="1.5"/>
<circle cx="208.8" cy="552.5" r="3.05" fill="#dcaad6" stroke="#c78cc2" stroke-width="1.5"/>
<circle cx="252.1" cy="609.9" r="2.93" fill="#dcaad6" stroke="#c78cc2" stroke-width="1.5"/>
<circle cx="168.4" cy="558.4" r="3.00" fill="#dcaad6" stroke="#c78cc2" stroke-width="1.5"/>
<circle cx="256.1" cy="601.0" r="3.30" fill="#dcaad6" stroke="#c78cc2" stroke-width="1.5"/>
<circle cx="193.7" cy="585.9" r="3.02" fill="#dcaad6" stroke="#c78cc2" stroke-width="1.5"/>
<circle cx="282.4" cy="573.2" r="3.19" fill="#dcaad6" stroke="#c78cc2" stroke-width="1.5"/>
<circle cx="233.5" cy="609.2" r="3.02" fill="#dcaad6" stroke="#c78cc2" stroke-width="1.5"/>
<circle cx="265.1" cy="559.5" r="3.27" fill="#dcaad6" stroke="#c78cc2" stroke-width="1.5"/>
<circle cx="283.4" cy="592.4" r="2.92" fill="#dcaad6" stroke="#c78cc2" stroke-width="1.5"/>
<circle cx="232.7" cy="528.6" r="3.21" fill="#dcaad6" stroke="#c78cc2" stroke-width="1.5"/>
<circle cx="281.7" cy="524.7" r="3.03" fill="#dcaad6" stroke="#c78cc2" stroke-width="1.5"/>
<circle cx="220.4" cy="548.3" r="3.17" fill="#dcaad6" stroke="#c78cc2" stroke-width="1.5"/>
<circle cx="168.2" cy="570.5" r="2.91" fill="#dcaad6" stroke="#c78cc2" stroke-width="1.5"/>
<circle cx="199.5" cy="541.9" r="3.29" fill="#dcaad6" stroke="#c78cc2" stroke-width="1.5"/>
<circle cx="218.9" cy="615.4" r="2.90" fill="#dcaad6" stroke="#c78cc2" stroke-width="1.5"/>
<circle cx="255.3" cy="531.9" r="3.25" fill="#dcaad6" stroke="#c78cc2" stroke-width="1.5"/>
<circle cx="237.4" cy="594.2" r="3.15" fill="#dcaad6" stroke="#c78cc2" stroke-width="1.5"/>
<circle cx="267.5" cy="596.0" r="3.26" fill="#dcaad6" stroke="#c78cc2" stroke-width="1.5"/>
<circle cx="245.0" cy="532.6" r="3.18" fill="#dcaad6" stroke="#c78cc2" stroke-width="1.5"/>
<circle cx="245.0" cy="546.7" r="2.99" fill="#dcaad6" stroke="#c78cc2" stroke-width="1.5"/>
<circle cx="284.5" cy="536.6" r="3.07" fill="#dcaad6" stroke="#c78cc2" stroke-width="1.5"/>
<circle cx="275.0" cy="602.6" r="2.98" fill="#dcaad6" stroke="#c78cc2" stroke-width="1.5"/>
<circle cx="270.2" cy="577.0" r="3.01" fill="#dcaad6" stroke="#c78cc2" stroke-width="1.5"/>
<circle cx="174.8" cy="540.7" r="3.01" fill="#dcaad6" stroke="#c78cc2" stroke-width="1.5"/>
<circle cx="268.6" cy="548.1" r="3.27" fill="#dcaad6" stroke="#c78cc2" stroke-width="1.5"/>
<circle cx="151.8" cy="570.3" r="3.03" fill="#dcaad6" stroke="#c78cc2" stroke-width="1.5"/>
<circle cx="193.3" cy="596.7" r="2.93" fill="#dcaad6" stroke="#c78cc2" stroke-width="1.5"/>
<circle cx="213.2" cy="583.3" r="3.25" fill="#dcaad6" stroke="#c78cc2" stroke-width="1.5"/>
<circle cx="206.3" cy="615.7" r="2.93" fill="#dcaad6" stroke="#c78cc2" stroke-width="1.5"/>
<circle cx="153.4" cy="589.1" r="3.03" fill="#dcaad6" stroke="#c78cc2" stroke-width="1.5"/>
<circle cx="229.5" cy="541.1" r="3.23" fill="#dcaad6" stroke="#c78cc2" stroke-width="1.5"/>
<circle cx="205.4" cy="562.9" r="3.22" fill="#dcaad6" stroke="#c78cc2" stroke-width="1.5"/>
<circle cx="211.7" cy="606.9" r="3.06" fill="#dcaad6" stroke="#c78cc2" stroke-width="1.5"/>
<circle cx="175.9" cy="596.5" r="2.94" fill="#dcaad6" stroke="#c78cc2" stroke-width="1.5"/>
<circle cx="162.8" cy="524.1" r="3.07" fill="#dcaad6" stroke="#c78cc2" stroke-width="1.5"/>
<circle cx="158.2" cy="610.4" r="3.21" fill="#dcaad6" stroke="#c78cc2" stroke-width="1.5"/>
<circle cx="282.9" cy="544.9" r="2.99" fill="#dcaad6" stroke="#c78cc2" stroke-width="1.5"/>
<circle cx="182.1" cy="615.4" r="3.20" fill="#dcaad6" stroke="#c78cc2" stroke-width="1.5"/>
<circle cx="257.3" cy="568.1" r="3.26" fill="#dcaad6" stroke="#c78cc2" stroke-width="1.5"/>
<circle cx="285.5" cy="602.3" r="3.24" fill="#dcaad6" stroke="#c78cc2" stroke-width="1.5"/>
<circle cx="218.9" cy="526.4" r="3.15" fill="#dcaad6" stroke="#c78cc2" stroke-width="1.5"/>
<circle cx="190.7" cy="522.8" r="3.08" fill="#dcaad6" stroke="#c78cc2" stroke-width="1.5"/>
<circle cx="190.8" cy="540.8" r="3.09" fill="#dcaad6" stroke="#c78cc2" stroke-width="1.5"/>
<circle cx="266.2" cy="523.8" r="3.26" fill="#dcaad6" stroke="#c78cc2" stroke-width="1.5"/>
<circle cx="284.6" cy="615.3" r="3.17" fill="#dcaad6" stroke="#c78cc2" stroke-width="1.5"/>
<circle cx="219.2" cy="601.4" r="3.00" fill="#dcaad6" stroke="#c78cc2" stroke-width="1.5"/>
<circle cx="173.7" cy="579.3" r="2.97" fill="#dcaad6" stroke="#c78cc2" stroke-width="1.5"/>
<circle cx="206.9" cy="577.2" r="3.09" fill="#dcaad6" stroke="#c78cc2" stroke-width="1.5"/>
<circle cx="210.7" cy="593.1" r="3.12" fill="#dcaad6" stroke="#c78cc2" stroke-width="1.5"/>
<circle cx="255.1" cy="547.1" r="2.92" fill="#dcaad6" stroke="#c78cc2" stroke-width="1.5"/>
<circle cx="274.3" cy="555.7" r="3.17" fill="#dcaad6" stroke="#c78cc2" stroke-width="1.5"/>
<circle cx="194.0" cy="567.1" r="3.26" fill="#dcaad6" stroke="#c78cc2" stroke-width="1.5"/>
<circle cx="218.6" cy="556.9" r="2.92" fill="#dcaad6" stroke="#c78cc2" stroke-width="1.5"/>
<circle cx="152.2" cy="539.2" r="3.24" fill="#dcaad6" stroke="#c78cc2" stroke-width="1.5"/>
<circle cx="248.1" cy="586.6" r="3.24" fill="#dcaad6" stroke="#c78cc2" stroke-width="1.5"/>
<circle cx="286.7" cy="565.4" r="3.24" fill="#dcaad6" stroke="#c78cc2" stroke-width="1.5"/>
<circle cx="226.7" cy="522.7" r="3.19" fill="#dcaad6" stroke="#c78cc2" stroke-width="1.5"/>
<circle cx="250.4" cy="539.9" r="2.99" fill="#dcaad6" stroke="#c78cc2" stroke-width="1.5"/>
<circle cx="160.1" cy="573.2" r="3.20" fill="#dcaad6" stroke="#c78cc2" stroke-width="1.5"/>
<circle cx="186.5" cy="590.4" r="2.98" fill="#dcaad6" stroke="#c78cc2" stroke-width="1.5"/>
<circle cx="239.6" cy="523.3" r="3.05" fill="#dcaad6" stroke="#c78cc2" stroke-width="1.5"/>
<circle cx="257.0" cy="522.8" r="3.21" fill="#dcaad6" stroke="#c78cc2" stroke-width="1.5"/>
<circle cx="163.7" cy="616.8" r="3.06" fill="#dcaad6" stroke="#c78cc2" stroke-width="1.5"/>
<circle cx="151.1" cy="522.8" r="3.18" fill="#dcaad6" stroke="#c78cc2" stroke-width="1.5"/>
<circle cx="236.5" cy="569.9" r="3.04" fill="#dcaad6" stroke="#c78cc2" stroke-width="1.5"/>
<circle cx="178.3" cy="606.3" r="3.06" fill="#dcaad6" stroke="#c78cc2" stroke-width="1.5"/>
<circle cx="265.5" cy="584.2" r="2.99" fill="#dcaad6" stroke="#c78cc2" stroke-width="1.5"/>
<circle cx="150.9" cy="557.8" r="2.91" fill="#dcaad6" stroke="#c78cc2" stroke-width="1.5"/>
<circle cx="238.2" cy="557.4" r="2.91" fill="#dcaad6" stroke="#c78cc2" stroke-width="1.5"/>
<circle cx="171.7" cy="522.7" r="3.05" fill="#dcaad6" stroke="#c78cc2" stroke-width="1.5"/>
<circle cx="266.4" cy="605.2" r="3.07" fill="#dcaad6" stroke="#c78cc2" stroke-width="1.5"/>
</g>
<rect x="153.8" y="525.6" width="130" height="88.3" fill="none" stroke="#111" stroke-width="1.3"/>
<line x1="160.20" y1="531.80" x2="190.00" y2="531.80" stroke="#111" stroke-width="1.7" />
<circle cx="159.8" cy="556.5" r="2.4" fill="#2a1e8a"/>
<circle cx="221.2" cy="533.7" r="2.2" fill="#2a1e8a"/>
<circle cx="266" cy="560.6" r="3.8" fill="#9a8ad8"/>
<circle cx="265" cy="591.3" r="3.3" fill="#b0a0e0"/>
<line x1="172.1" y1="538.2" x2="178.0" y2="543.4" stroke="#e8321a" stroke-width="2.6"/>
<polygon points="181.5,546.5 172.7,544.7 178.0,543.4 178.6,538.0" fill="#e8321a"/>
<line x1="195.4" y1="543.5" x2="201.7" y2="548.2" stroke="#e8321a" stroke-width="2.6"/>
<polygon points="205.4,551.0 196.5,549.9 201.7,548.2 201.9,542.7" fill="#e8321a"/>
<line x1="215.8" y1="545.4" x2="220.1" y2="551.9" stroke="#e8321a" stroke-width="2.6"/>
<polygon points="222.7,555.8 214.6,551.8 220.1,551.9 222.1,546.8" fill="#e8321a"/>
<line x1="193.6" y1="558.7" x2="199.8" y2="563.4" stroke="#e8321a" stroke-width="2.6"/>
<polygon points="203.5,566.3 194.6,565.1 199.8,563.4 200.1,558.0" fill="#e8321a"/>
<line x1="201.6" y1="587.9" x2="209.4" y2="586.8" stroke="#e8321a" stroke-width="2.6"/>
<polygon points="214.0,586.2 206.9,591.7 209.4,586.8 205.7,582.8" fill="#e8321a"/>
<line x1="252.2" y1="533.5" x2="248.2" y2="540.2" stroke="#e8321a" stroke-width="2.6"/>
<polygon points="245.8,544.2 245.9,535.2 248.2,540.2 253.7,539.8" fill="#e8321a"/>
<line x1="249.4" y1="541.5" x2="253.7" y2="548.0" stroke="#e8321a" stroke-width="2.6"/>
<polygon points="256.3,551.9 248.2,547.9 253.7,548.0 255.7,542.9" fill="#e8321a"/>
<line x1="251.8" y1="579.3" x2="257.7" y2="584.4" stroke="#e8321a" stroke-width="2.6"/>
<polygon points="261.2,587.5 252.4,585.8 257.7,584.4 258.3,579.0" fill="#e8321a"/>
<line x1="168.2" y1="540.8" x2="163.7" y2="547.2" stroke="#5aa83a" stroke-width="2.6"/>
<polygon points="161.0,551.0 161.8,542.0 163.7,547.2 169.2,547.2" fill="#5aa83a"/>
<line x1="219.1" y1="537.6" x2="212.9" y2="542.3" stroke="#5aa83a" stroke-width="2.6"/>
<polygon points="209.2,545.2 212.6,536.9 212.9,542.3 218.1,544.0" fill="#5aa83a"/>
<line x1="160.4" y1="573.6" x2="167.0" y2="569.3" stroke="#0a0a0a" stroke-width="2.6"/>
<polygon points="170.9,566.7 166.8,574.7 167.0,569.3 161.9,567.2" fill="#0a0a0a"/>
<line x1="269.8" y1="541.5" x2="276.4" y2="545.6" stroke="#0a0a0a" stroke-width="2.6"/>
<polygon points="280.4,548.1 271.4,547.8 276.4,545.6 276.2,540.2" fill="#0a0a0a"/>
<line x1="270.4" y1="583.8" x2="275.5" y2="589.7" stroke="#0a0a0a" stroke-width="2.6"/>
<polygon points="278.5,593.3 270.0,590.3 275.5,589.7 276.9,584.4" fill="#0a0a0a"/>
<text x="21.6" y="521.3" font-size="9.5" fill="#222" text-anchor="start" textLength="119" lengthAdjust="spacingAndGlyphs" stroke="#222" stroke-width="0.22"><tspan font-style="italic">Sipa1</tspan><tspan font-size="5.89" dy="-3.61">+/+</tspan><tspan dy="3.61"> to </tspan><tspan font-style="italic">Sipa1</tspan><tspan font-size="5.89" dy="-3.61">+/+</tspan><tspan dy="3.61"> (6 Gy)</tspan></text>
<text x="164.5" y="520.5" font-size="9.5" fill="#222" text-anchor="start" textLength="114" lengthAdjust="spacingAndGlyphs" stroke="#222" stroke-width="0.22"><tspan font-style="italic">Sipa1</tspan><tspan font-size="5.89" dy="-3.61">+/+</tspan><tspan dy="3.61"> to </tspan><tspan font-style="italic">Sipa1</tspan><tspan font-size="5.89" dy="-3.61">-/-</tspan><tspan dy="3.61"> (6 Gy)</tspan></text>
<path d="M 337.25 576.35 L 337.25 541.55 A 34.8 34.8 0 0 1 339.07 541.60 Z" fill="#284c82"/>
<path d="M 337.25 576.35 L 339.07 541.60 A 34.8 34.8 0 0 1 343.29 542.08 Z" fill="#532068"/>
<path d="M 337.25 576.35 L 343.29 542.08 A 34.8 34.8 0 0 1 345.08 542.44 Z" fill="#6ea7de"/>
<path d="M 337.25 576.35 L 345.08 542.44 A 34.8 34.8 0 1 1 337.25 541.55 Z" fill="#df9319"/>
<path d="M 409.35 573.15 L 409.35 539.55 A 33.6 33.6 0 0 1 416.62 540.35 Z" fill="#284c82"/>
<path d="M 409.35 573.15 L 416.62 540.35 A 33.6 33.6 0 0 1 421.66 541.89 Z" fill="#a8182e"/>
<path d="M 409.35 573.15 L 421.66 541.89 A 33.6 33.6 0 0 1 424.34 543.08 Z" fill="#6cab4c"/>
<path d="M 409.35 573.15 L 424.34 543.08 A 33.6 33.6 0 0 1 438.30 556.10 Z" fill="#532068"/>
<path d="M 409.35 573.15 L 438.30 556.10 A 33.6 33.6 0 0 1 425.90 602.39 Z" fill="#6ea7de"/>
<path d="M 409.35 573.15 L 425.90 602.39 A 33.6 33.6 0 1 1 409.35 539.55 Z" fill="#df9319"/>
<text x="319.5" y="535.6" font-size="10" fill="#222" textLength="36.6" lengthAdjust="spacingAndGlyphs" stroke="#222" stroke-width="0.22"><tspan font-style="italic">Sipa1</tspan><tspan font-size="6.4" dy="-3.8">+/+</tspan></text>
<text x="393" y="534" font-size="10" fill="#222" textLength="31.8" lengthAdjust="spacingAndGlyphs" stroke="#222" stroke-width="0.22"><tspan font-style="italic">Sipa1</tspan><tspan font-size="6.4" dy="-3.8">-/-</tspan></text>
<rect x="446.2" y="547.70" width="4.6" height="4.6" fill="#284c82"/>
<text x="453.80" y="552.70" font-size="7.5" fill="#222"  stroke="#222" stroke-width="0.22">Reticulocyte</text>
<rect x="446.2" y="556.54" width="4.6" height="4.6" fill="#a8182e"/>
<text x="453.80" y="561.54" font-size="7.5" fill="#222"  stroke="#222" stroke-width="0.22">Spherocyte</text>
<rect x="446.2" y="565.38" width="4.6" height="4.6" fill="#6cab4c"/>
<text x="453.80" y="570.38" font-size="7.5" fill="#222"  stroke="#222" stroke-width="0.22">Erythroblast</text>
<rect x="446.2" y="574.22" width="4.6" height="4.6" fill="#532068"/>
<text x="453.80" y="579.22" font-size="7.5" fill="#222"  stroke="#222" stroke-width="0.22">Macrocyte</text>
<rect x="446.2" y="583.06" width="4.6" height="4.6" fill="#6ea7de"/>
<text x="453.80" y="588.06" font-size="7.5" fill="#222"  stroke="#222" stroke-width="0.22">Microcyte</text>
<rect x="446.2" y="591.90" width="4.6" height="4.6" fill="#df9319"/>
<text x="453.80" y="596.90" font-size="7.5" fill="#222"  stroke="#222" stroke-width="0.22">Normal size RBC</text>
<defs><linearGradient id="ph1" x1="0" y1="0" x2="0" y2="1"><stop offset="0" stop-color="#c9bfba"/><stop offset="0.35" stop-color="#d9d3d1"/><stop offset="0.6" stop-color="#e0e0e2"/><stop offset="1" stop-color="#dde0e5"/></linearGradient><linearGradient id="ph2" x1="0" y1="0" x2="0" y2="1"><stop offset="0" stop-color="#c8beb8"/><stop offset="0.5" stop-color="#d2cbc8"/><stop offset="1" stop-color="#dad7d8"/></linearGradient><linearGradient id="sp1" x1="0" y1="0" x2="1" y2="0"><stop offset="0" stop-color="#33202c"/><stop offset="0.5" stop-color="#4e1c1e"/><stop offset="1" stop-color="#421818"/></linearGradient></defs>
<rect x="21.5" y="638.5" width="21" height="57" fill="url(#ph1)"/>
<rect x="47" y="638.5" width="20" height="57" fill="url(#ph2)"/>
<path d="M 31 644.5 C 34.5 643.5, 37.2 646, 36.8 650 C 36.3 655, 36.8 662, 37 667 C 37 671, 34 673, 31.5 671.5 C 29.5 670, 28 666, 28.3 661 C 28.6 656, 28.5 650, 29.5 647 C 30 645.5, 30.5 644.8, 31 644.5 Z" fill="url(#sp1)"/>
<path d="M 53 643 C 57 641.5, 63 642.5, 65 646 C 66.2 650, 65.5 656, 65 662 C 64.5 667, 64 670, 65 675 C 66 681, 65.5 687, 61 689.8 C 57 691, 52.5 689, 51.2 684 C 50 679, 51 674, 50.5 669 C 50 664, 49.3 657, 49.5 651 C 49.7 647, 51 644, 53 643 Z" fill="#2a1d22"/>
<path d="M 58.5 684 L 62 678" stroke="#7880a0" stroke-width="0.9" opacity="0.6"/>
<text font-size="9.5" fill="#222" transform="translate(12.6,730) rotate(-49)" textLength="40" lengthAdjust="spacingAndGlyphs" stroke="#222" stroke-width="0.22"><tspan font-style="italic">Sipa1</tspan><tspan font-size="6.8" dy="-3.8">+/+</tspan></text>
<text font-size="9.5" fill="#222" transform="translate(43.8,727.4) rotate(-51)" textLength="33" lengthAdjust="spacingAndGlyphs" stroke="#222" stroke-width="0.22"><tspan font-style="italic">Sipa1</tspan><tspan font-size="6.8" dy="-3.8">-/-</tspan></text>
<line x1="116.20" y1="635.80" x2="116.20" y2="699.30" stroke="#000" stroke-width="1.3" />
<line x1="115.60" y1="698.70" x2="160.40" y2="698.70" stroke="#000" stroke-width="1.3" />
<line x1="113.40" y1="698.70" x2="116.20" y2="698.70" stroke="#000" stroke-width="1.1" />
<text x="109.90" y="701.80" font-size="8.8" text-anchor="end" fill="#1a1a1a"  stroke="#1a1a1a" stroke-width="0.22">0.0</text>
<line x1="113.40" y1="686.76" x2="116.20" y2="686.76" stroke="#000" stroke-width="1.1" />
<text x="109.90" y="689.86" font-size="8.8" text-anchor="end" fill="#1a1a1a"  stroke="#1a1a1a" stroke-width="0.22">0.5</text>
<line x1="113.40" y1="674.82" x2="116.20" y2="674.82" stroke="#000" stroke-width="1.1" />
<text x="109.90" y="677.92" font-size="8.8" text-anchor="end" fill="#1a1a1a"  stroke="#1a1a1a" stroke-width="0.22">1.0</text>
<line x1="113.40" y1="662.88" x2="116.20" y2="662.88" stroke="#000" stroke-width="1.1" />
<text x="109.90" y="665.98" font-size="8.8" text-anchor="end" fill="#1a1a1a"  stroke="#1a1a1a" stroke-width="0.22">1.5</text>
<line x1="113.40" y1="650.94" x2="116.20" y2="650.94" stroke="#000" stroke-width="1.1" />
<text x="109.90" y="654.04" font-size="8.8" text-anchor="end" fill="#1a1a1a"  stroke="#1a1a1a" stroke-width="0.22">2.0</text>
<line x1="113.40" y1="639.00" x2="116.20" y2="639.00" stroke="#000" stroke-width="1.1" />
<text x="109.90" y="642.10" font-size="8.8" text-anchor="end" fill="#1a1a1a"  stroke="#1a1a1a" stroke-width="0.22">2.5</text>
<line x1="127.70" y1="698.70" x2="127.70" y2="701.50" stroke="#000" stroke-width="1.1" />
<line x1="149.80" y1="698.70" x2="149.80" y2="701.50" stroke="#000" stroke-width="1.1" />
<circle cx="127.70" cy="696.31" r="1.7" fill="none" stroke="#56719c" stroke-width="1"/>
<circle cx="123.70" cy="695.12" r="1.7" fill="none" stroke="#56719c" stroke-width="1"/>
<circle cx="131.70" cy="693.92" r="1.7" fill="none" stroke="#56719c" stroke-width="1"/>
<circle cx="119.70" cy="692.73" r="1.7" fill="none" stroke="#56719c" stroke-width="1"/>
<circle cx="127.70" cy="691.54" r="1.7" fill="none" stroke="#56719c" stroke-width="1"/>
<circle cx="123.70" cy="690.34" r="1.7" fill="none" stroke="#56719c" stroke-width="1"/>
<circle cx="131.70" cy="689.15" r="1.7" fill="none" stroke="#56719c" stroke-width="1"/>
<circle cx="119.70" cy="687.95" r="1.7" fill="none" stroke="#56719c" stroke-width="1"/>
<circle cx="127.70" cy="686.76" r="1.7" fill="none" stroke="#56719c" stroke-width="1"/>
<circle cx="127.70" cy="682.46" r="1.7" fill="none" stroke="#56719c" stroke-width="1"/>
<circle cx="123.70" cy="681.98" r="1.7" fill="none" stroke="#56719c" stroke-width="1"/>
<circle cx="131.70" cy="681.51" r="1.7" fill="none" stroke="#56719c" stroke-width="1"/>
<circle cx="127.70" cy="674.82" r="1.7" fill="none" stroke="#56719c" stroke-width="1"/>
<circle cx="149.80" cy="693.92" r="1.75" fill="#9e1a3e"/>
<circle cx="149.80" cy="681.51" r="1.75" fill="#9e1a3e"/>
<circle cx="145.80" cy="680.79" r="1.75" fill="#9e1a3e"/>
<circle cx="153.80" cy="680.07" r="1.75" fill="#9e1a3e"/>
<circle cx="141.80" cy="679.60" r="1.75" fill="#9e1a3e"/>
<circle cx="149.80" cy="677.21" r="1.75" fill="#9e1a3e"/>
<circle cx="157.80" cy="677.21" r="1.75" fill="#9e1a3e"/>
<circle cx="145.80" cy="676.01" r="1.75" fill="#9e1a3e"/>
<circle cx="149.80" cy="654.52" r="1.75" fill="#9e1a3e"/>
<line x1="119.70" y1="687.95" x2="135.70" y2="687.95" stroke="#111" stroke-width="1.8" />
<line x1="141.80" y1="678.88" x2="157.80" y2="678.88" stroke="#111" stroke-width="1.8" />
<text x="138.30" y="630.30" font-size="10" text-anchor="middle" fill="#111"  stroke="#111" stroke-width="0.22">LSK</text>
<text x="138.3" y="647.6" font-size="8" fill="#9e3f66" text-anchor="middle" stroke="#9e3f66" stroke-width="0.22"><tspan font-style="italic">P</tspan> = .039</text>
<text font-size="8.5" fill="#222" text-anchor="end" transform="translate(131.70,708.40) rotate(-50)" stroke="#222" stroke-width="0.22"><tspan font-style="italic">Sipa1</tspan><tspan font-size="6" dy="-3.4">+/+</tspan></text>
<text font-size="8.5" fill="#222" text-anchor="end" transform="translate(153.80,708.40) rotate(-50)" stroke="#222" stroke-width="0.22"><tspan font-style="italic">Sipa1</tspan><tspan font-size="6" dy="-3.4">-/-</tspan></text>
<line x1="182.10" y1="635.80" x2="182.10" y2="699.30" stroke="#000" stroke-width="1.3" />
<line x1="181.50" y1="698.70" x2="228.30" y2="698.70" stroke="#000" stroke-width="1.3" />
<line x1="179.30" y1="698.70" x2="182.10" y2="698.70" stroke="#000" stroke-width="1.1" />
<text x="175.80" y="701.80" font-size="8.8" text-anchor="end" fill="#1a1a1a"  stroke="#1a1a1a" stroke-width="0.22">0.0</text>
<line x1="179.30" y1="678.80" x2="182.10" y2="678.80" stroke="#000" stroke-width="1.1" />
<text x="175.80" y="681.90" font-size="8.8" text-anchor="end" fill="#1a1a1a"  stroke="#1a1a1a" stroke-width="0.22">0.5</text>
<line x1="179.30" y1="658.90" x2="182.10" y2="658.90" stroke="#000" stroke-width="1.1" />
<text x="175.80" y="662.00" font-size="8.8" text-anchor="end" fill="#1a1a1a"  stroke="#1a1a1a" stroke-width="0.22">1.0</text>
<line x1="179.30" y1="639.00" x2="182.10" y2="639.00" stroke="#000" stroke-width="1.1" />
<text x="175.80" y="642.10" font-size="8.8" text-anchor="end" fill="#1a1a1a"  stroke="#1a1a1a" stroke-width="0.22">1.5</text>
<line x1="192.70" y1="698.70" x2="192.70" y2="701.50" stroke="#000" stroke-width="1.1" />
<line x1="217.70" y1="698.70" x2="217.70" y2="701.50" stroke="#000" stroke-width="1.1" />
<circle cx="192.70" cy="697.90" r="1.7" fill="none" stroke="#56719c" stroke-width="1"/>
<circle cx="188.70" cy="697.51" r="1.7" fill="none" stroke="#56719c" stroke-width="1"/>
<circle cx="196.70" cy="696.71" r="1.7" fill="none" stroke="#56719c" stroke-width="1"/>
<circle cx="184.70" cy="695.52" r="1.7" fill="none" stroke="#56719c" stroke-width="1"/>
<circle cx="200.70" cy="694.72" r="1.7" fill="none" stroke="#56719c" stroke-width="1"/>
<circle cx="180.70" cy="694.72" r="1.7" fill="none" stroke="#56719c" stroke-width="1"/>
<circle cx="192.70" cy="693.92" r="1.7" fill="none" stroke="#56719c" stroke-width="1"/>
<circle cx="188.70" cy="692.73" r="1.7" fill="none" stroke="#56719c" stroke-width="1"/>
<circle cx="196.70" cy="690.74" r="1.7" fill="none" stroke="#56719c" stroke-width="1"/>
<circle cx="192.70" cy="688.75" r="1.7" fill="none" stroke="#56719c" stroke-width="1"/>
<circle cx="188.70" cy="686.76" r="1.7" fill="none" stroke="#56719c" stroke-width="1"/>
<circle cx="196.70" cy="686.76" r="1.7" fill="none" stroke="#56719c" stroke-width="1"/>
<circle cx="217.70" cy="696.71" r="1.75" fill="#9e1a3e"/>
<circle cx="217.70" cy="692.73" r="1.75" fill="#9e1a3e"/>
<circle cx="213.70" cy="691.54" r="1.75" fill="#9e1a3e"/>
<circle cx="221.70" cy="690.74" r="1.75" fill="#9e1a3e"/>
<circle cx="217.70" cy="688.75" r="1.75" fill="#9e1a3e"/>
<circle cx="213.70" cy="687.56" r="1.75" fill="#9e1a3e"/>
<circle cx="221.70" cy="686.76" r="1.75" fill="#9e1a3e"/>
<circle cx="217.70" cy="656.11" r="1.75" fill="#9e1a3e"/>
<line x1="184.70" y1="693.92" x2="200.70" y2="693.92" stroke="#111" stroke-width="1.8" />
<line x1="209.70" y1="686.76" x2="225.70" y2="686.76" stroke="#111" stroke-width="1.8" />
<text x="206.20" y="630.30" font-size="10" text-anchor="middle" fill="#111"  stroke="#111" stroke-width="0.22">ST-HSC</text>
<text x="206.2" y="647.6" font-size="8" fill="#9e3f66" text-anchor="middle" stroke="#9e3f66" stroke-width="0.22"><tspan font-style="italic">P</tspan> = .0409</text>
<text font-size="8.5" fill="#222" text-anchor="end" transform="translate(196.70,708.40) rotate(-50)" stroke="#222" stroke-width="0.22"><tspan font-style="italic">Sipa1</tspan><tspan font-size="6" dy="-3.4">+/+</tspan></text>
<text font-size="8.5" fill="#222" text-anchor="end" transform="translate(221.70,708.40) rotate(-50)" stroke="#222" stroke-width="0.22"><tspan font-style="italic">Sipa1</tspan><tspan font-size="6" dy="-3.4">-/-</tspan></text>
<line x1="250.00" y1="635.80" x2="250.00" y2="699.30" stroke="#000" stroke-width="1.3" />
<line x1="249.40" y1="698.70" x2="298.00" y2="698.70" stroke="#000" stroke-width="1.3" />
<line x1="247.20" y1="698.70" x2="250.00" y2="698.70" stroke="#000" stroke-width="1.1" />
<text x="243.70" y="701.80" font-size="8.8" text-anchor="end" fill="#1a1a1a"  stroke="#1a1a1a" stroke-width="0.22">0.0</text>
<line x1="247.20" y1="678.80" x2="250.00" y2="678.80" stroke="#000" stroke-width="1.1" />
<text x="243.70" y="681.90" font-size="8.8" text-anchor="end" fill="#1a1a1a"  stroke="#1a1a1a" stroke-width="0.22">0.1</text>
<line x1="247.20" y1="658.90" x2="250.00" y2="658.90" stroke="#000" stroke-width="1.1" />
<text x="243.70" y="662.00" font-size="8.8" text-anchor="end" fill="#1a1a1a"  stroke="#1a1a1a" stroke-width="0.22">0.2</text>
<line x1="247.20" y1="639.00" x2="250.00" y2="639.00" stroke="#000" stroke-width="1.1" />
<text x="243.70" y="642.10" font-size="8.8" text-anchor="end" fill="#1a1a1a"  stroke="#1a1a1a" stroke-width="0.22">0.3</text>
<line x1="263.50" y1="698.70" x2="263.50" y2="701.50" stroke="#000" stroke-width="1.1" />
<line x1="286.50" y1="698.70" x2="286.50" y2="701.50" stroke="#000" stroke-width="1.1" />
<circle cx="263.50" cy="697.71" r="1.7" fill="none" stroke="#56719c" stroke-width="1"/>
<circle cx="259.50" cy="696.71" r="1.7" fill="none" stroke="#56719c" stroke-width="1"/>
<circle cx="267.50" cy="695.72" r="1.7" fill="none" stroke="#56719c" stroke-width="1"/>
<circle cx="255.50" cy="694.72" r="1.7" fill="none" stroke="#56719c" stroke-width="1"/>
<circle cx="263.50" cy="693.73" r="1.7" fill="none" stroke="#56719c" stroke-width="1"/>
<circle cx="259.50" cy="692.73" r="1.7" fill="none" stroke="#56719c" stroke-width="1"/>
<circle cx="267.50" cy="691.74" r="1.7" fill="none" stroke="#56719c" stroke-width="1"/>
<circle cx="255.50" cy="690.74" r="1.7" fill="none" stroke="#56719c" stroke-width="1"/>
<circle cx="263.50" cy="682.78" r="1.7" fill="none" stroke="#56719c" stroke-width="1"/>
<circle cx="259.50" cy="681.79" r="1.7" fill="none" stroke="#56719c" stroke-width="1"/>
<circle cx="267.50" cy="680.79" r="1.7" fill="none" stroke="#56719c" stroke-width="1"/>
<circle cx="263.50" cy="653.92" r="1.7" fill="none" stroke="#56719c" stroke-width="1"/>
<circle cx="286.50" cy="696.71" r="1.75" fill="#9e1a3e"/>
<circle cx="286.50" cy="692.73" r="1.75" fill="#9e1a3e"/>
<circle cx="282.50" cy="691.74" r="1.75" fill="#9e1a3e"/>
<circle cx="290.50" cy="690.74" r="1.75" fill="#9e1a3e"/>
<circle cx="278.50" cy="690.74" r="1.75" fill="#9e1a3e"/>
<circle cx="286.50" cy="686.76" r="1.75" fill="#9e1a3e"/>
<circle cx="286.50" cy="680.79" r="1.75" fill="#9e1a3e"/>
<circle cx="286.50" cy="658.90" r="1.75" fill="#9e1a3e"/>
<line x1="255.50" y1="687.75" x2="271.50" y2="687.75" stroke="#111" stroke-width="1.8" />
<line x1="278.50" y1="686.76" x2="294.50" y2="686.76" stroke="#111" stroke-width="1.8" />
<text x="274.00" y="630.30" font-size="10" text-anchor="middle" fill="#111"  stroke="#111" stroke-width="0.22">LT-HSC</text>
<text x="274" y="647.6" font-size="8" fill="#222" text-anchor="middle" stroke="#222" stroke-width="0.22"><tspan font-style="italic">P</tspan> = .4326</text>
<text font-size="8.5" fill="#222" text-anchor="end" transform="translate(267.50,708.40) rotate(-50)" stroke="#222" stroke-width="0.22"><tspan font-style="italic">Sipa1</tspan><tspan font-size="6" dy="-3.4">+/+</tspan></text>
<text font-size="8.5" fill="#222" text-anchor="end" transform="translate(290.50,708.40) rotate(-50)" stroke="#222" stroke-width="0.22"><tspan font-style="italic">Sipa1</tspan><tspan font-size="6" dy="-3.4">-/-</tspan></text>
<line x1="312.70" y1="635.80" x2="312.70" y2="699.30" stroke="#000" stroke-width="1.3" />
<line x1="312.10" y1="698.70" x2="363.30" y2="698.70" stroke="#000" stroke-width="1.3" />
<line x1="309.90" y1="698.70" x2="312.70" y2="698.70" stroke="#000" stroke-width="1.1" />
<text x="306.40" y="701.80" font-size="8.8" text-anchor="end" fill="#1a1a1a"  stroke="#1a1a1a" stroke-width="0.22">0</text>
<line x1="309.90" y1="686.76" x2="312.70" y2="686.76" stroke="#000" stroke-width="1.1" />
<text x="306.40" y="689.86" font-size="8.8" text-anchor="end" fill="#1a1a1a"  stroke="#1a1a1a" stroke-width="0.22">1</text>
<line x1="309.90" y1="674.82" x2="312.70" y2="674.82" stroke="#000" stroke-width="1.1" />
<text x="306.40" y="677.92" font-size="8.8" text-anchor="end" fill="#1a1a1a"  stroke="#1a1a1a" stroke-width="0.22">2</text>
<line x1="309.90" y1="662.88" x2="312.70" y2="662.88" stroke="#000" stroke-width="1.1" />
<text x="306.40" y="665.98" font-size="8.8" text-anchor="end" fill="#1a1a1a"  stroke="#1a1a1a" stroke-width="0.22">3</text>
<line x1="309.90" y1="650.94" x2="312.70" y2="650.94" stroke="#000" stroke-width="1.1" />
<text x="306.40" y="654.04" font-size="8.8" text-anchor="end" fill="#1a1a1a"  stroke="#1a1a1a" stroke-width="0.22">4</text>
<line x1="309.90" y1="639.00" x2="312.70" y2="639.00" stroke="#000" stroke-width="1.1" />
<text x="306.40" y="642.10" font-size="8.8" text-anchor="end" fill="#1a1a1a"  stroke="#1a1a1a" stroke-width="0.22">5</text>
<line x1="325.80" y1="698.70" x2="325.80" y2="701.50" stroke="#000" stroke-width="1.1" />
<line x1="351.70" y1="698.70" x2="351.70" y2="701.50" stroke="#000" stroke-width="1.1" />
<circle cx="325.80" cy="695.12" r="1.7" fill="none" stroke="#56719c" stroke-width="1"/>
<circle cx="321.80" cy="693.92" r="1.7" fill="none" stroke="#56719c" stroke-width="1"/>
<circle cx="325.80" cy="690.94" r="1.7" fill="none" stroke="#56719c" stroke-width="1"/>
<circle cx="329.80" cy="690.34" r="1.7" fill="none" stroke="#56719c" stroke-width="1"/>
<circle cx="317.80" cy="690.34" r="1.7" fill="none" stroke="#56719c" stroke-width="1"/>
<circle cx="321.80" cy="687.95" r="1.7" fill="none" stroke="#56719c" stroke-width="1"/>
<circle cx="325.80" cy="686.76" r="1.7" fill="none" stroke="#56719c" stroke-width="1"/>
<circle cx="333.80" cy="686.76" r="1.7" fill="none" stroke="#56719c" stroke-width="1"/>
<circle cx="325.80" cy="677.21" r="1.7" fill="none" stroke="#56719c" stroke-width="1"/>
<circle cx="321.80" cy="677.21" r="1.7" fill="none" stroke="#56719c" stroke-width="1"/>
<circle cx="325.80" cy="666.46" r="1.7" fill="none" stroke="#56719c" stroke-width="1"/>
<circle cx="351.70" cy="693.92" r="1.75" fill="#9e1a3e"/>
<circle cx="347.70" cy="692.73" r="1.75" fill="#9e1a3e"/>
<circle cx="351.70" cy="687.95" r="1.75" fill="#9e1a3e"/>
<circle cx="347.70" cy="687.95" r="1.75" fill="#9e1a3e"/>
<circle cx="351.70" cy="677.21" r="1.75" fill="#9e1a3e"/>
<circle cx="351.70" cy="665.27" r="1.75" fill="#9e1a3e"/>
<circle cx="347.70" cy="661.69" r="1.75" fill="#9e1a3e"/>
<circle cx="351.70" cy="655.72" r="1.75" fill="#9e1a3e"/>
<line x1="317.80" y1="686.76" x2="333.80" y2="686.76" stroke="#111" stroke-width="1.8" />
<line x1="343.70" y1="677.21" x2="359.70" y2="677.21" stroke="#111" stroke-width="1.8" />
<text x="338.80" y="630.30" font-size="10" text-anchor="middle" fill="#111"  stroke="#111" stroke-width="0.22">CMP</text>
<text x="338.8" y="647.6" font-size="8" fill="#222" text-anchor="middle" stroke="#222" stroke-width="0.22"><tspan font-style="italic">P</tspan> = .0560</text>
<text font-size="8.5" fill="#222" text-anchor="end" transform="translate(329.80,708.40) rotate(-50)" stroke="#222" stroke-width="0.22"><tspan font-style="italic">Sipa1</tspan><tspan font-size="6" dy="-3.4">+/+</tspan></text>
<text font-size="8.5" fill="#222" text-anchor="end" transform="translate(355.70,708.40) rotate(-50)" stroke="#222" stroke-width="0.22"><tspan font-style="italic">Sipa1</tspan><tspan font-size="6" dy="-3.4">-/-</tspan></text>
<line x1="378.50" y1="635.80" x2="378.50" y2="699.30" stroke="#000" stroke-width="1.3" />
<line x1="377.90" y1="698.70" x2="429.40" y2="698.70" stroke="#000" stroke-width="1.3" />
<line x1="375.70" y1="698.70" x2="378.50" y2="698.70" stroke="#000" stroke-width="1.1" />
<text x="372.20" y="701.80" font-size="8.8" text-anchor="end" fill="#1a1a1a"  stroke="#1a1a1a" stroke-width="0.22">0</text>
<line x1="375.70" y1="683.78" x2="378.50" y2="683.78" stroke="#000" stroke-width="1.1" />
<text x="372.20" y="686.88" font-size="8.8" text-anchor="end" fill="#1a1a1a"  stroke="#1a1a1a" stroke-width="0.22">1</text>
<line x1="375.70" y1="668.85" x2="378.50" y2="668.85" stroke="#000" stroke-width="1.1" />
<text x="372.20" y="671.95" font-size="8.8" text-anchor="end" fill="#1a1a1a"  stroke="#1a1a1a" stroke-width="0.22">2</text>
<line x1="375.70" y1="653.92" x2="378.50" y2="653.92" stroke="#000" stroke-width="1.1" />
<text x="372.20" y="657.02" font-size="8.8" text-anchor="end" fill="#1a1a1a"  stroke="#1a1a1a" stroke-width="0.22">3</text>
<line x1="375.70" y1="639.00" x2="378.50" y2="639.00" stroke="#000" stroke-width="1.1" />
<text x="372.20" y="642.10" font-size="8.8" text-anchor="end" fill="#1a1a1a"  stroke="#1a1a1a" stroke-width="0.22">4</text>
<line x1="391.90" y1="698.70" x2="391.90" y2="701.50" stroke="#000" stroke-width="1.1" />
<line x1="417.90" y1="698.70" x2="417.90" y2="701.50" stroke="#000" stroke-width="1.1" />
<circle cx="391.90" cy="694.22" r="1.7" fill="none" stroke="#56719c" stroke-width="1"/>
<circle cx="387.90" cy="692.73" r="1.7" fill="none" stroke="#56719c" stroke-width="1"/>
<circle cx="395.90" cy="691.98" r="1.7" fill="none" stroke="#56719c" stroke-width="1"/>
<circle cx="383.90" cy="691.24" r="1.7" fill="none" stroke="#56719c" stroke-width="1"/>
<circle cx="391.90" cy="688.25" r="1.7" fill="none" stroke="#56719c" stroke-width="1"/>
<circle cx="387.90" cy="687.51" r="1.7" fill="none" stroke="#56719c" stroke-width="1"/>
<circle cx="395.90" cy="686.76" r="1.7" fill="none" stroke="#56719c" stroke-width="1"/>
<circle cx="383.90" cy="685.27" r="1.7" fill="none" stroke="#56719c" stroke-width="1"/>
<circle cx="391.90" cy="682.28" r="1.7" fill="none" stroke="#56719c" stroke-width="1"/>
<circle cx="387.90" cy="680.79" r="1.7" fill="none" stroke="#56719c" stroke-width="1"/>
<circle cx="391.90" cy="675.57" r="1.7" fill="none" stroke="#56719c" stroke-width="1"/>
<circle cx="417.90" cy="691.98" r="1.75" fill="#9e1a3e"/>
<circle cx="413.90" cy="690.49" r="1.75" fill="#9e1a3e"/>
<circle cx="417.90" cy="682.28" r="1.75" fill="#9e1a3e"/>
<circle cx="413.90" cy="680.79" r="1.75" fill="#9e1a3e"/>
<circle cx="417.90" cy="676.31" r="1.75" fill="#9e1a3e"/>
<circle cx="417.90" cy="668.10" r="1.75" fill="#9e1a3e"/>
<circle cx="417.90" cy="659.89" r="1.75" fill="#9e1a3e"/>
<circle cx="413.90" cy="658.40" r="1.75" fill="#9e1a3e"/>
<line x1="383.90" y1="686.76" x2="399.90" y2="686.76" stroke="#111" stroke-width="1.8" />
<line x1="409.90" y1="676.31" x2="425.90" y2="676.31" stroke="#111" stroke-width="1.8" />
<text x="404.40" y="630.30" font-size="10" text-anchor="middle" fill="#111"  stroke="#111" stroke-width="0.22">GMP</text>
<text x="404.4" y="647.6" font-size="8" fill="#9e3f66" text-anchor="middle" stroke="#9e3f66" stroke-width="0.22"><tspan font-style="italic">P</tspan> = .0150</text>
<text font-size="8.5" fill="#222" text-anchor="end" transform="translate(395.90,708.40) rotate(-50)" stroke="#222" stroke-width="0.22"><tspan font-style="italic">Sipa1</tspan><tspan font-size="6" dy="-3.4">+/+</tspan></text>
<text font-size="8.5" fill="#222" text-anchor="end" transform="translate(421.90,708.40) rotate(-50)" stroke="#222" stroke-width="0.22"><tspan font-style="italic">Sipa1</tspan><tspan font-size="6" dy="-3.4">-/-</tspan></text>
<line x1="444.50" y1="635.80" x2="444.50" y2="699.30" stroke="#000" stroke-width="1.3" />
<line x1="443.90" y1="698.70" x2="496.00" y2="698.70" stroke="#000" stroke-width="1.3" />
<line x1="441.70" y1="698.70" x2="444.50" y2="698.70" stroke="#000" stroke-width="1.1" />
<text x="438.20" y="701.80" font-size="8.8" text-anchor="end" fill="#1a1a1a"  stroke="#1a1a1a" stroke-width="0.22">0</text>
<line x1="441.70" y1="678.80" x2="444.50" y2="678.80" stroke="#000" stroke-width="1.1" />
<text x="438.20" y="681.90" font-size="8.8" text-anchor="end" fill="#1a1a1a"  stroke="#1a1a1a" stroke-width="0.22">1</text>
<line x1="441.70" y1="658.90" x2="444.50" y2="658.90" stroke="#000" stroke-width="1.1" />
<text x="438.20" y="662.00" font-size="8.8" text-anchor="end" fill="#1a1a1a"  stroke="#1a1a1a" stroke-width="0.22">2</text>
<line x1="441.70" y1="639.00" x2="444.50" y2="639.00" stroke="#000" stroke-width="1.1" />
<text x="438.20" y="642.10" font-size="8.8" text-anchor="end" fill="#1a1a1a"  stroke="#1a1a1a" stroke-width="0.22">3</text>
<line x1="458.50" y1="698.70" x2="458.50" y2="701.50" stroke="#000" stroke-width="1.1" />
<line x1="483.80" y1="698.70" x2="483.80" y2="701.50" stroke="#000" stroke-width="1.1" />
<circle cx="458.50" cy="695.72" r="1.7" fill="none" stroke="#56719c" stroke-width="1"/>
<circle cx="454.50" cy="694.72" r="1.7" fill="none" stroke="#56719c" stroke-width="1"/>
<circle cx="462.50" cy="692.73" r="1.7" fill="none" stroke="#56719c" stroke-width="1"/>
<circle cx="458.50" cy="690.74" r="1.7" fill="none" stroke="#56719c" stroke-width="1"/>
<circle cx="454.50" cy="688.75" r="1.7" fill="none" stroke="#56719c" stroke-width="1"/>
<circle cx="462.50" cy="687.75" r="1.7" fill="none" stroke="#56719c" stroke-width="1"/>
<circle cx="458.50" cy="686.76" r="1.7" fill="none" stroke="#56719c" stroke-width="1"/>
<circle cx="458.50" cy="682.78" r="1.7" fill="none" stroke="#56719c" stroke-width="1"/>
<circle cx="454.50" cy="681.79" r="1.7" fill="none" stroke="#56719c" stroke-width="1"/>
<circle cx="458.50" cy="678.80" r="1.7" fill="none" stroke="#56719c" stroke-width="1"/>
<circle cx="458.50" cy="672.83" r="1.7" fill="none" stroke="#56719c" stroke-width="1"/>
<circle cx="454.50" cy="672.83" r="1.7" fill="none" stroke="#56719c" stroke-width="1"/>
<circle cx="483.80" cy="692.73" r="1.75" fill="#9e1a3e"/>
<circle cx="479.80" cy="692.73" r="1.75" fill="#9e1a3e"/>
<circle cx="483.80" cy="679.80" r="1.75" fill="#9e1a3e"/>
<circle cx="479.80" cy="676.81" r="1.75" fill="#9e1a3e"/>
<circle cx="483.80" cy="675.82" r="1.75" fill="#9e1a3e"/>
<circle cx="483.80" cy="661.88" r="1.75" fill="#9e1a3e"/>
<circle cx="483.80" cy="654.92" r="1.75" fill="#9e1a3e"/>
<circle cx="479.80" cy="654.92" r="1.75" fill="#9e1a3e"/>
<line x1="450.50" y1="685.17" x2="466.50" y2="685.17" stroke="#111" stroke-width="1.8" />
<line x1="475.80" y1="673.83" x2="491.80" y2="673.83" stroke="#111" stroke-width="1.8" />
<text x="470.40" y="630.30" font-size="10" text-anchor="middle" fill="#111"  stroke="#111" stroke-width="0.22">MEP</text>
<text x="470.4" y="647.6" font-size="8" fill="#9e3f66" text-anchor="middle" stroke="#9e3f66" stroke-width="0.22"><tspan font-style="italic">P</tspan> = .0276</text>
<text font-size="8.5" fill="#222" text-anchor="end" transform="translate(462.50,708.40) rotate(-50)" stroke="#222" stroke-width="0.22"><tspan font-style="italic">Sipa1</tspan><tspan font-size="6" dy="-3.4">+/+</tspan></text>
<text font-size="8.5" fill="#222" text-anchor="end" transform="translate(487.80,708.40) rotate(-50)" stroke="#222" stroke-width="0.22"><tspan font-style="italic">Sipa1</tspan><tspan font-size="6" dy="-3.4">-/-</tspan></text>
<text font-size="8.6" font-weight="bold" fill="#222" text-anchor="end" transform="translate(81.6,643.8) rotate(-90)" textLength="29" lengthAdjust="spacingAndGlyphs" stroke="#222" stroke-width="0.22">% of donor</text>
<text font-size="8.6" font-weight="bold" fill="#222" text-anchor="end" transform="translate(92.2,643.8) rotate(-90)" textLength="47" lengthAdjust="spacingAndGlyphs" stroke="#222" stroke-width="0.22">(CD45.1<tspan font-size="5.4" dy="-3">+</tspan><tspan dy="3">) cells</tspan></text>
</svg></body></html>
